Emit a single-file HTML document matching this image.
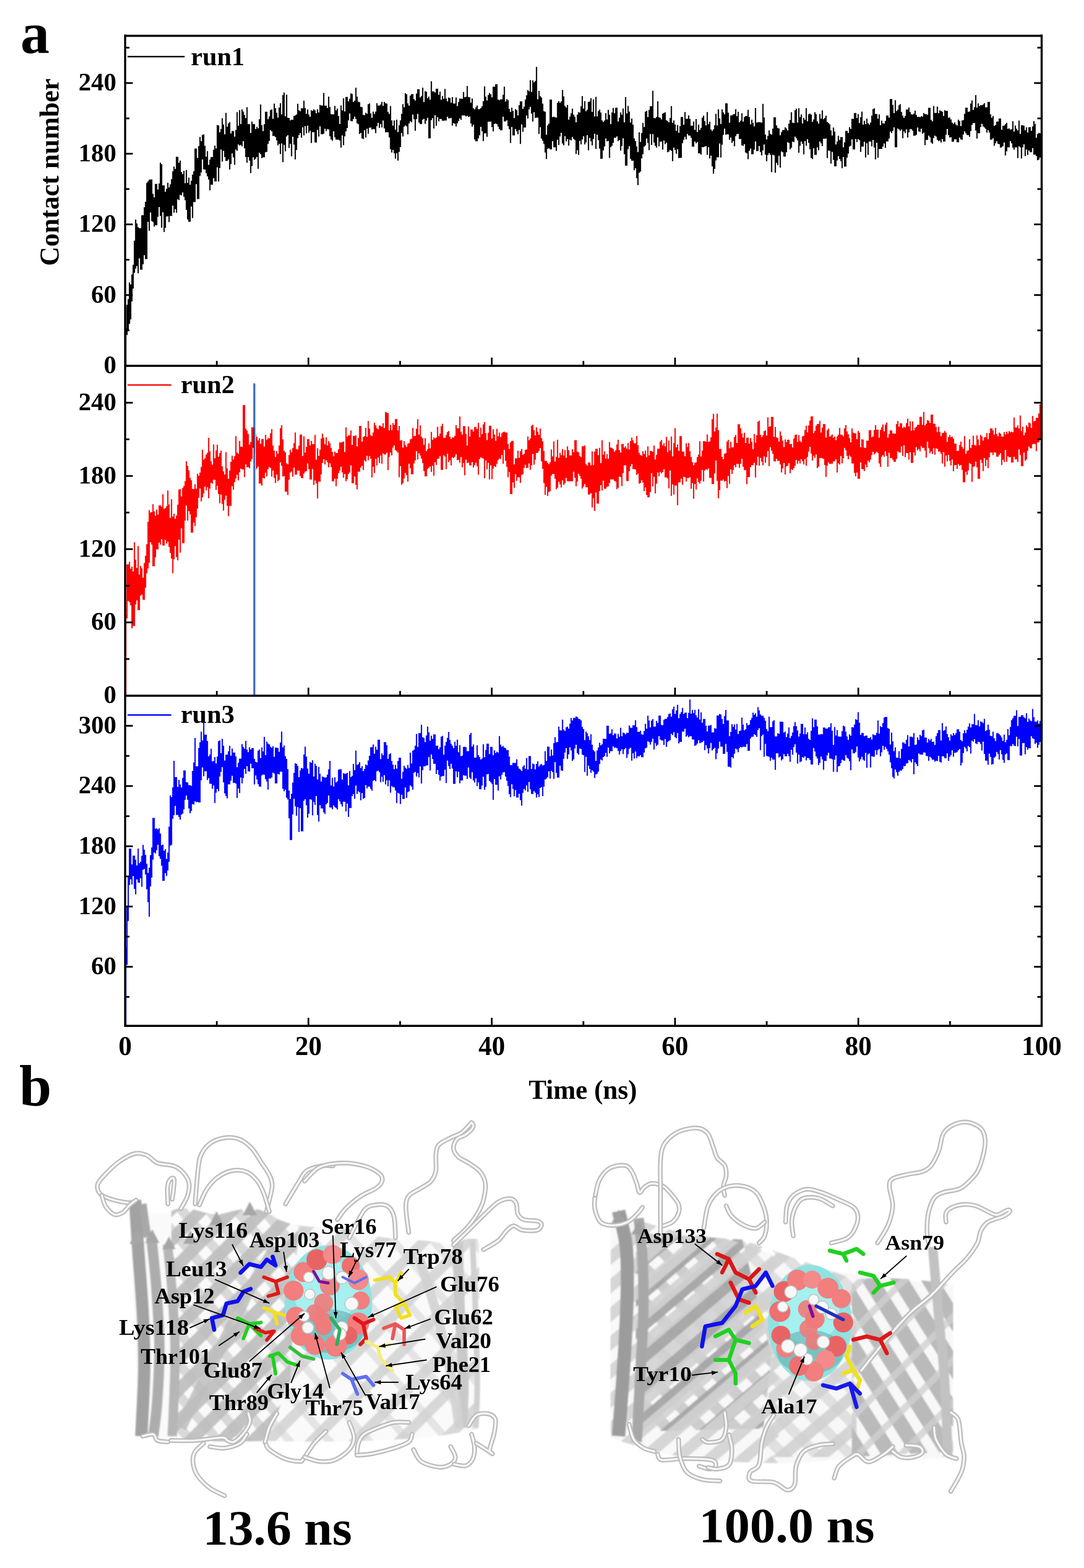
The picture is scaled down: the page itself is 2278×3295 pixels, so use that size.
<!DOCTYPE html>
<html><head><meta charset="utf-8"><style>
html,body{margin:0;padding:0;background:#fff;overflow:hidden;}
svg{display:block;}
</style></head><body>
<svg width="2278" height="3295" viewBox="0 0 2278 3295">
<rect width="2278" height="3295" fill="#fff"/>
<defs><clipPath id="c1"><rect x="263" y="76" width="1926" height="692"/></clipPath><clipPath id="c2"><rect x="263" y="770" width="1926" height="690"/></clipPath><clipPath id="c3"><rect x="263" y="1463" width="1926" height="692"/></clipPath></defs>
<g clip-path="url(#c1)"><path fill="#000" d="M263.0,688.7 265.6,688.7 265.6,640.6 268.2,640.6 268.2,628.5 270.8,628.5 270.8,593.4 273.4,593.4 273.4,597.8 276.0,597.8 276.0,576.7 278.6,576.7 278.6,556.4 281.2,556.4 281.2,505.8 283.8,505.8 283.8,461.3 286.4,461.3 286.4,469.4 289.0,469.4 289.0,477.3 291.6,477.3 291.6,479.6 294.2,479.6 294.2,479.6 296.8,479.6 296.8,452.3 299.4,452.3 299.4,452.3 302.0,452.3 302.0,435.5 304.6,435.5 304.6,424.0 307.2,424.0 307.2,384.4 309.8,384.4 309.8,381.3 312.4,381.3 312.4,377.6 315.0,377.6 315.0,377.6 317.6,377.6 317.6,376.9 320.2,376.9 320.2,407.2 322.8,407.2 322.8,414.7 325.4,414.7 325.4,386.6 328.0,386.6 328.0,386.6 330.6,386.6 330.6,398.2 333.2,398.2 333.2,385.6 335.8,385.6 335.8,341.8 338.4,341.8 338.4,345.1 341.0,345.1 341.0,389.6 343.6,389.6 343.6,389.6 346.2,389.6 346.2,402.9 348.8,402.9 348.8,396.7 351.4,396.7 351.4,384.0 354.0,384.0 354.0,393.8 356.6,393.8 356.6,387.4 359.2,387.4 359.2,376.4 361.8,376.4 361.8,360.1 364.4,360.1 364.4,350.1 367.0,350.1 367.0,355.0 369.6,355.0 369.6,329.6 372.2,329.6 372.2,329.6 374.8,329.6 374.8,341.9 377.4,341.9 377.4,337.6 380.0,337.6 380.0,361.3 382.6,361.3 382.6,365.7 385.2,365.7 385.2,358.9 387.8,358.9 387.8,385.1 390.4,385.1 390.4,357.2 393.0,357.2 393.0,384.2 395.6,384.2 395.6,373.3 398.2,373.3 398.2,388.3 400.8,388.3 400.8,379.8 403.4,379.8 403.4,367.0 406.0,367.0 406.0,359.7 408.6,359.7 408.6,312.2 411.2,312.2 411.2,312.2 413.8,312.2 413.8,332.1 416.4,332.1 416.4,307.1 419.0,307.1 419.0,287.7 421.6,287.7 421.6,296.7 424.2,296.7 424.2,283.4 426.8,283.4 426.8,282.3 429.4,282.3 429.4,306.6 432.0,306.6 432.0,329.3 434.6,329.3 434.6,317.4 437.2,317.4 437.2,346.5 439.8,346.5 439.8,335.4 442.4,335.4 442.4,330.1 445.0,330.1 445.0,330.1 447.6,330.1 447.6,314.8 450.2,314.8 450.2,306.0 452.8,306.0 452.8,311.9 455.4,311.9 455.4,262.8 458.0,262.8 458.0,263.6 460.6,263.6 460.6,277.9 463.2,277.9 463.2,271.0 465.8,271.0 465.8,248.6 468.4,248.6 468.4,261.8 471.0,261.8 471.0,282.3 473.6,282.3 473.6,237.3 476.2,237.3 476.2,266.3 478.8,266.3 478.8,259.2 481.4,259.2 481.4,256.5 484.0,256.5 484.0,280.6 486.6,280.6 486.6,275.2 489.2,275.2 489.2,275.2 491.8,275.2 491.8,287.2 494.4,287.2 494.4,272.9 497.0,272.9 497.0,235.4 499.6,235.4 499.6,264.2 502.2,264.2 502.2,231.4 504.8,231.4 504.8,260.8 507.4,260.8 507.4,230.0 510.0,230.0 510.0,234.6 512.6,234.6 512.6,241.5 515.2,241.5 515.2,247.9 517.8,247.9 517.8,225.2 520.4,225.2 520.4,260.7 523.0,260.7 523.0,260.7 525.6,260.7 525.6,279.6 528.2,279.6 528.2,255.4 530.8,255.4 530.8,260.8 533.4,260.8 533.4,260.8 536.0,260.8 536.0,271.2 538.6,271.2 538.6,266.4 541.2,266.4 541.2,269.8 543.8,269.8 543.8,250.5 546.4,250.5 546.4,219.6 549.0,219.6 549.0,263.1 551.6,263.1 551.6,275.5 554.2,275.5 554.2,260.9 556.8,260.9 556.8,234.7 559.4,234.7 559.4,234.7 562.0,234.7 562.0,250.6 564.6,250.6 564.6,244.4 567.2,244.4 567.2,231.2 569.8,231.2 569.8,229.9 572.4,229.9 572.4,249.8 575.0,249.8 575.0,217.8 577.6,217.8 577.6,227.3 580.2,227.3 580.2,237.1 582.8,237.1 582.8,247.0 585.4,247.0 585.4,226.1 588.0,226.1 588.0,216.8 590.6,216.8 590.6,240.6 593.2,240.6 593.2,199.8 595.8,199.8 595.8,194.5 598.4,194.5 598.4,244.3 601.0,244.3 601.0,199.1 603.6,199.1 603.6,247.5 606.2,247.5 606.2,248.0 608.8,248.0 608.8,252.9 611.4,252.9 611.4,251.4 614.0,251.4 614.0,251.7 616.6,251.7 616.6,243.4 619.2,243.4 619.2,242.6 621.8,242.6 621.8,240.6 624.4,240.6 624.4,218.1 627.0,218.1 627.0,231.5 629.6,231.5 629.6,233.7 632.2,233.7 632.2,227.4 634.8,227.4 634.8,227.4 637.4,227.4 637.4,211.4 640.0,211.4 640.0,227.0 642.6,227.0 642.6,239.2 645.2,239.2 645.2,230.1 647.8,230.1 647.8,240.8 650.4,240.8 650.4,245.3 653.0,245.3 653.0,231.8 655.6,231.8 655.6,233.1 658.2,233.1 658.2,229.5 660.8,229.5 660.8,231.9 663.4,231.9 663.4,237.9 666.0,237.9 666.0,229.4 668.6,229.4 668.6,236.5 671.2,236.5 671.2,220.4 673.8,220.4 673.8,221.8 676.4,221.8 676.4,221.7 679.0,221.7 679.0,195.3 681.6,195.3 681.6,222.1 684.2,222.1 684.2,222.1 686.8,222.1 686.8,227.0 689.4,227.0 689.4,202.9 692.0,202.9 692.0,224.7 694.6,224.7 694.6,239.7 697.2,239.7 697.2,240.3 699.8,240.3 699.8,240.3 702.4,240.3 702.4,222.5 705.0,222.5 705.0,231.9 707.6,231.9 707.6,228.3 710.2,228.3 710.2,243.7 712.8,243.7 712.8,260.6 715.4,260.6 715.4,221.4 718.0,221.4 718.0,231.9 720.6,231.9 720.6,206.6 723.2,206.6 723.2,234.3 725.8,234.3 725.8,203.8 728.4,203.8 728.4,203.8 731.0,203.8 731.0,213.0 733.6,213.0 733.6,207.4 736.2,207.4 736.2,196.3 738.8,196.3 738.8,197.4 741.4,197.4 741.4,214.2 744.0,214.2 744.0,211.5 746.6,211.5 746.6,184.3 749.2,184.3 749.2,202.9 751.8,202.9 751.8,213.8 754.4,213.8 754.4,214.8 757.0,214.8 757.0,224.6 759.6,224.6 759.6,225.3 762.2,225.3 762.2,241.5 764.8,241.5 764.8,241.9 767.4,241.9 767.4,237.1 770.0,237.1 770.0,239.2 772.6,239.2 772.6,218.9 775.2,218.9 775.2,217.2 777.8,217.2 777.8,238.2 780.4,238.2 780.4,247.6 783.0,247.6 783.0,234.4 785.6,234.4 785.6,239.6 788.2,239.6 788.2,234.5 790.8,234.5 790.8,216.7 793.4,216.7 793.4,221.8 796.0,221.8 796.0,221.8 798.6,221.8 798.6,219.6 801.2,219.6 801.2,214.0 803.8,214.0 803.8,222.6 806.4,222.6 806.4,213.9 809.0,213.9 809.0,217.0 811.6,217.0 811.6,217.8 814.2,217.8 814.2,235.2 816.8,235.2 816.8,239.4 819.4,239.4 819.4,222.7 822.0,222.7 822.0,253.0 824.6,253.0 824.6,263.9 827.2,263.9 827.2,252.9 829.8,252.9 829.8,272.5 832.4,272.5 832.4,251.6 835.0,251.6 835.0,277.4 837.6,277.4 837.6,263.2 840.2,263.2 840.2,252.9 842.8,252.9 842.8,239.2 845.4,239.2 845.4,218.8 848.0,218.8 848.0,225.6 850.6,225.6 850.6,195.8 853.2,195.8 853.2,198.0 855.8,198.0 855.8,217.3 858.4,217.3 858.4,222.0 861.0,222.0 861.0,201.1 863.6,201.1 863.6,197.8 866.2,197.8 866.2,197.8 868.8,197.8 868.8,208.0 871.4,208.0 871.4,211.2 874.0,211.2 874.0,196.4 876.6,196.4 876.6,187.4 879.2,187.4 879.2,187.4 881.8,187.4 881.8,204.8 884.4,204.8 884.4,201.8 887.0,201.8 887.0,184.3 889.6,184.3 889.6,214.5 892.2,214.5 892.2,191.6 894.8,191.6 894.8,192.7 897.4,192.7 897.4,206.3 900.0,206.3 900.0,203.0 902.6,203.0 902.6,209.5 905.2,209.5 905.2,170.8 907.8,170.8 907.8,192.0 910.4,192.0 910.4,192.0 913.0,192.0 913.0,194.2 915.6,194.2 915.6,186.6 918.2,186.6 918.2,186.6 920.8,186.6 920.8,199.2 923.4,199.2 923.4,192.8 926.0,192.8 926.0,209.8 928.6,209.8 928.6,201.8 931.2,201.8 931.2,207.8 933.8,207.8 933.8,186.8 936.4,186.8 936.4,206.9 939.0,206.9 939.0,213.0 941.6,213.0 941.6,204.9 944.2,204.9 944.2,205.9 946.8,205.9 946.8,215.7 949.4,215.7 949.4,204.0 952.0,204.0 952.0,217.6 954.6,217.6 954.6,217.4 957.2,217.4 957.2,204.7 959.8,204.7 959.8,222.9 962.4,222.9 962.4,214.6 965.0,214.6 965.0,207.2 967.6,207.2 967.6,207.2 970.2,207.2 970.2,207.8 972.8,207.8 972.8,193.2 975.4,193.2 975.4,204.3 978.0,204.3 978.0,203.5 980.6,203.5 980.6,180.8 983.2,180.8 983.2,203.7 985.8,203.7 985.8,204.4 988.4,204.4 988.4,215.8 991.0,215.8 991.0,207.1 993.6,207.1 993.6,227.4 996.2,227.4 996.2,230.0 998.8,230.0 998.8,225.5 1001.4,225.5 1001.4,221.7 1004.0,221.7 1004.0,229.5 1006.6,229.5 1006.6,229.5 1009.2,229.5 1009.2,227.0 1011.8,227.0 1011.8,223.3 1014.4,223.3 1014.4,212.6 1017.0,212.6 1017.0,181.4 1019.6,181.4 1019.6,203.3 1022.2,203.3 1022.2,211.0 1024.8,211.0 1024.8,199.7 1027.4,199.7 1027.4,195.4 1030.0,195.4 1030.0,198.1 1032.6,198.1 1032.6,204.6 1035.2,204.6 1035.2,182.3 1037.8,182.3 1037.8,182.3 1040.4,182.3 1040.4,177.0 1043.0,177.0 1043.0,177.0 1045.6,177.0 1045.6,209.3 1048.2,209.3 1048.2,210.6 1050.8,210.6 1050.8,208.8 1053.4,208.8 1053.4,208.8 1056.0,208.8 1056.0,199.3 1058.6,199.3 1058.6,182.1 1061.2,182.1 1061.2,213.3 1063.8,213.3 1063.8,208.2 1066.4,208.2 1066.4,210.5 1069.0,210.5 1069.0,228.7 1071.6,228.7 1071.6,235.3 1074.2,235.3 1074.2,226.2 1076.8,226.2 1076.8,233.1 1079.4,233.1 1079.4,248.0 1082.0,248.0 1082.0,229.3 1084.6,229.3 1084.6,231.4 1087.2,231.4 1087.2,242.4 1089.8,242.4 1089.8,220.9 1092.4,220.9 1092.4,213.1 1095.0,213.1 1095.0,213.1 1097.6,213.1 1097.6,228.7 1100.2,228.7 1100.2,223.9 1102.8,223.9 1102.8,209.2 1105.4,209.2 1105.4,200.3 1108.0,200.3 1108.0,189.2 1110.6,189.2 1110.6,191.7 1113.2,191.7 1113.2,168.2 1115.8,168.2 1115.8,193.2 1118.4,193.2 1118.4,169.0 1121.0,169.0 1121.0,172.9 1123.6,172.9 1123.6,170.2 1126.2,170.2 1126.2,140.4 1128.8,140.4 1128.8,208.4 1131.4,208.4 1131.4,191.1 1134.0,191.1 1134.0,201.8 1136.6,201.8 1136.6,205.1 1139.2,205.1 1139.2,217.7 1141.8,217.7 1141.8,233.4 1144.4,233.4 1144.4,234.9 1147.0,234.9 1147.0,283.0 1149.6,283.0 1149.6,263.4 1152.2,263.4 1152.2,259.7 1154.8,259.7 1154.8,209.3 1157.4,209.3 1157.4,209.3 1160.0,209.3 1160.0,246.3 1162.6,246.3 1162.6,244.9 1165.2,244.9 1165.2,246.6 1167.8,246.6 1167.8,247.0 1170.4,247.0 1170.4,216.1 1173.0,216.1 1173.0,212.4 1175.6,212.4 1175.6,216.1 1178.2,216.1 1178.2,213.0 1180.8,213.0 1180.8,188.9 1183.4,188.9 1183.4,202.4 1186.0,202.4 1186.0,222.6 1188.6,222.6 1188.6,226.0 1191.2,226.0 1191.2,220.6 1193.8,220.6 1193.8,251.5 1196.4,251.5 1196.4,245.0 1199.0,245.0 1199.0,237.8 1201.6,237.8 1201.6,228.3 1204.2,228.3 1204.2,241.0 1206.8,241.0 1206.8,245.8 1209.4,245.8 1209.4,257.1 1212.0,257.1 1212.0,241.1 1214.6,241.1 1214.6,235.7 1217.2,235.7 1217.2,236.4 1219.8,236.4 1219.8,223.3 1222.4,223.3 1222.4,201.9 1225.0,201.9 1225.0,228.3 1227.6,228.3 1227.6,212.6 1230.2,212.6 1230.2,233.7 1232.8,233.7 1232.8,230.4 1235.4,230.4 1235.4,214.1 1238.0,214.1 1238.0,213.3 1240.6,213.3 1240.6,206.2 1243.2,206.2 1243.2,235.3 1245.8,235.3 1245.8,209.1 1248.4,209.1 1248.4,244.7 1251.0,244.7 1251.0,203.4 1253.6,203.4 1253.6,244.4 1256.2,244.4 1256.2,233.6 1258.8,233.6 1258.8,230.2 1261.4,230.2 1261.4,236.4 1264.0,236.4 1264.0,253.0 1266.6,253.0 1266.6,256.2 1269.2,256.2 1269.2,253.1 1271.8,253.1 1271.8,237.7 1274.4,237.7 1274.4,250.9 1277.0,250.9 1277.0,230.7 1279.6,230.7 1279.6,240.9 1282.2,240.9 1282.2,260.7 1284.8,260.7 1284.8,236.2 1287.4,236.2 1287.4,226.7 1290.0,226.7 1290.0,237.8 1292.6,237.8 1292.6,226.4 1295.2,226.4 1295.2,226.3 1297.8,226.3 1297.8,255.6 1300.4,255.6 1300.4,247.2 1303.0,247.2 1303.0,236.3 1305.6,236.3 1305.6,241.3 1308.2,241.3 1308.2,228.0 1310.8,228.0 1310.8,257.1 1313.4,257.1 1313.4,203.9 1316.0,203.9 1316.0,238.5 1318.6,238.5 1318.6,222.4 1321.2,222.4 1321.2,234.6 1323.8,234.6 1323.8,257.4 1326.4,257.4 1326.4,249.1 1329.0,249.1 1329.0,262.1 1331.6,262.1 1331.6,290.7 1334.2,290.7 1334.2,296.6 1336.8,296.6 1336.8,307.7 1339.4,307.7 1339.4,319.5 1342.0,319.5 1342.0,278.1 1344.6,278.1 1344.6,298.3 1347.2,298.3 1347.2,279.4 1349.8,279.4 1349.8,258.3 1352.4,258.3 1352.4,267.0 1355.0,267.0 1355.0,234.7 1357.6,234.7 1357.6,233.1 1360.2,233.1 1360.2,245.9 1362.8,245.9 1362.8,230.9 1365.4,230.9 1365.4,223.3 1368.0,223.3 1368.0,223.3 1370.6,223.3 1370.6,190.8 1373.2,190.8 1373.2,248.0 1375.8,248.0 1375.8,248.4 1378.4,248.4 1378.4,245.8 1381.0,245.8 1381.0,212.8 1383.6,212.8 1383.6,246.4 1386.2,246.4 1386.2,247.6 1388.8,247.6 1388.8,251.0 1391.4,251.0 1391.4,238.8 1394.0,238.8 1394.0,237.3 1396.6,237.3 1396.6,236.1 1399.2,236.1 1399.2,252.5 1401.8,252.5 1401.8,254.4 1404.4,254.4 1404.4,257.1 1407.0,257.1 1407.0,248.0 1409.6,248.0 1409.6,223.1 1412.2,223.1 1412.2,258.2 1414.8,258.2 1414.8,252.9 1417.4,252.9 1417.4,261.7 1420.0,261.7 1420.0,275.0 1422.6,275.0 1422.6,262.8 1425.2,262.8 1425.2,279.1 1427.8,279.1 1427.8,265.0 1430.4,265.0 1430.4,245.8 1433.0,245.8 1433.0,245.8 1435.6,245.8 1435.6,262.2 1438.2,262.2 1438.2,235.4 1440.8,235.4 1440.8,249.8 1443.4,249.8 1443.4,249.6 1446.0,249.6 1446.0,242.4 1448.6,242.4 1448.6,250.0 1451.2,250.0 1451.2,263.9 1453.8,263.9 1453.8,264.3 1456.4,264.3 1456.4,255.6 1459.0,255.6 1459.0,273.1 1461.6,273.1 1461.6,250.0 1464.2,250.0 1464.2,277.5 1466.8,277.5 1466.8,261.9 1469.4,261.9 1469.4,273.2 1472.0,273.2 1472.0,268.7 1474.6,268.7 1474.6,247.3 1477.2,247.3 1477.2,243.0 1479.8,243.0 1479.8,254.5 1482.4,254.5 1482.4,263.6 1485.0,263.6 1485.0,235.6 1487.6,235.6 1487.6,260.7 1490.2,260.7 1490.2,255.8 1492.8,255.8 1492.8,271.9 1495.4,271.9 1495.4,275.3 1498.0,275.3 1498.0,271.7 1500.6,271.7 1500.6,263.2 1503.2,263.2 1503.2,239.3 1505.8,239.3 1505.8,263.8 1508.4,263.8 1508.4,229.8 1511.0,229.8 1511.0,248.8 1513.6,248.8 1513.6,260.6 1516.2,260.6 1516.2,229.7 1518.8,229.7 1518.8,236.3 1521.4,236.3 1521.4,240.2 1524.0,240.2 1524.0,217.1 1526.6,217.1 1526.6,217.3 1529.2,217.3 1529.2,236.7 1531.8,236.7 1531.8,257.9 1534.4,257.9 1534.4,242.4 1537.0,242.4 1537.0,242.4 1539.6,242.4 1539.6,240.2 1542.2,240.2 1542.2,239.8 1544.8,239.8 1544.8,229.4 1547.4,229.4 1547.4,244.2 1550.0,244.2 1550.0,235.0 1552.6,235.0 1552.6,257.1 1555.2,257.1 1555.2,253.4 1557.8,253.4 1557.8,238.1 1560.4,238.1 1560.4,255.6 1563.0,255.6 1563.0,245.9 1565.6,245.9 1565.6,243.7 1568.2,243.7 1568.2,243.7 1570.8,243.7 1570.8,230.8 1573.4,230.8 1573.4,245.8 1576.0,245.8 1576.0,261.2 1578.6,261.2 1578.6,251.4 1581.2,251.4 1581.2,257.9 1583.8,257.9 1583.8,265.6 1586.4,265.6 1586.4,227.1 1589.0,227.1 1589.0,257.6 1591.6,257.6 1591.6,256.7 1594.2,256.7 1594.2,256.7 1596.8,256.7 1596.8,256.9 1599.4,256.9 1599.4,257.7 1602.0,257.7 1602.0,218.3 1604.6,218.3 1604.6,246.7 1607.2,246.7 1607.2,282.7 1609.8,282.7 1609.8,293.1 1612.4,293.1 1612.4,285.6 1615.0,285.6 1615.0,273.9 1617.6,273.9 1617.6,281.2 1620.2,281.2 1620.2,282.8 1622.8,282.8 1622.8,270.3 1625.4,270.3 1625.4,246.6 1628.0,246.6 1628.0,246.6 1630.6,246.6 1630.6,263.4 1633.2,263.4 1633.2,268.8 1635.8,268.8 1635.8,270.0 1638.4,270.0 1638.4,284.3 1641.0,284.3 1641.0,277.6 1643.6,277.6 1643.6,273.2 1646.2,273.2 1646.2,273.2 1648.8,273.2 1648.8,267.5 1651.4,267.5 1651.4,269.9 1654.0,269.9 1654.0,273.9 1656.6,273.9 1656.6,259.9 1659.2,259.9 1659.2,252.2 1661.8,252.2 1661.8,235.7 1664.4,235.7 1664.4,257.7 1667.0,257.7 1667.0,258.4 1669.6,258.4 1669.6,231.7 1672.2,231.7 1672.2,228.4 1674.8,228.4 1674.8,257.5 1677.4,257.5 1677.4,227.2 1680.0,227.2 1680.0,246.3 1682.6,246.3 1682.6,240.6 1685.2,240.6 1685.2,259.5 1687.8,259.5 1687.8,247.8 1690.4,247.8 1690.4,251.7 1693.0,251.7 1693.0,227.3 1695.6,227.3 1695.6,254.9 1698.2,254.9 1698.2,240.0 1700.8,240.0 1700.8,238.5 1703.4,238.5 1703.4,240.7 1706.0,240.7 1706.0,255.9 1708.6,255.9 1708.6,250.9 1711.2,250.9 1711.2,235.7 1713.8,235.7 1713.8,239.8 1716.4,239.8 1716.4,255.2 1719.0,255.2 1719.0,259.8 1721.6,259.8 1721.6,239.4 1724.2,239.4 1724.2,249.2 1726.8,249.2 1726.8,232.1 1729.4,232.1 1729.4,250.6 1732.0,250.6 1732.0,247.8 1734.6,247.8 1734.6,242.9 1737.2,242.9 1737.2,256.3 1739.8,256.3 1739.8,258.6 1742.4,258.6 1742.4,261.3 1745.0,261.3 1745.0,274.1 1747.6,274.1 1747.6,284.8 1750.2,284.8 1750.2,268.0 1752.8,268.0 1752.8,276.5 1755.4,276.5 1755.4,303.6 1758.0,303.6 1758.0,297.5 1760.6,297.5 1760.6,285.3 1763.2,285.3 1763.2,294.3 1765.8,294.3 1765.8,287.9 1768.4,287.9 1768.4,287.9 1771.0,287.9 1771.0,309.4 1773.6,309.4 1773.6,299.0 1776.2,299.0 1776.2,275.0 1778.8,275.0 1778.8,275.0 1781.4,275.0 1781.4,279.6 1784.0,279.6 1784.0,267.3 1786.6,267.3 1786.6,270.9 1789.2,270.9 1789.2,249.6 1791.8,249.6 1791.8,250.0 1794.4,250.0 1794.4,237.4 1797.0,237.4 1797.0,237.4 1799.6,237.4 1799.6,247.9 1802.2,247.9 1802.2,239.8 1804.8,239.8 1804.8,258.4 1807.4,258.4 1807.4,246.3 1810.0,246.3 1810.0,234.5 1812.6,234.5 1812.6,262.1 1815.2,262.1 1815.2,253.8 1817.8,253.8 1817.8,260.9 1820.4,260.9 1820.4,249.2 1823.0,249.2 1823.0,259.1 1825.6,259.1 1825.6,262.1 1828.2,262.1 1828.2,257.6 1830.8,257.6 1830.8,243.0 1833.4,243.0 1833.4,229.2 1836.0,229.2 1836.0,227.8 1838.6,227.8 1838.6,239.6 1841.2,239.6 1841.2,239.6 1843.8,239.6 1843.8,249.2 1846.4,249.2 1846.4,240.4 1849.0,240.4 1849.0,263.0 1851.6,263.0 1851.6,253.6 1854.2,253.6 1854.2,258.9 1856.8,258.9 1856.8,259.8 1859.4,259.8 1859.4,253.9 1862.0,253.9 1862.0,242.8 1864.6,242.8 1864.6,242.8 1867.2,242.8 1867.2,247.2 1869.8,247.2 1869.8,208.1 1872.4,208.1 1872.4,208.1 1875.0,208.1 1875.0,220.4 1877.6,220.4 1877.6,237.8 1880.2,237.8 1880.2,210.5 1882.8,210.5 1882.8,233.4 1885.4,233.4 1885.4,230.5 1888.0,230.5 1888.0,221.6 1890.6,221.6 1890.6,218.7 1893.2,218.7 1893.2,235.2 1895.8,235.2 1895.8,242.9 1898.4,242.9 1898.4,247.7 1901.0,247.7 1901.0,243.4 1903.6,243.4 1903.6,230.1 1906.2,230.1 1906.2,230.1 1908.8,230.1 1908.8,226.1 1911.4,226.1 1911.4,235.3 1914.0,235.3 1914.0,240.3 1916.6,240.3 1916.6,240.8 1919.2,240.8 1919.2,238.7 1921.8,238.7 1921.8,232.5 1924.4,232.5 1924.4,241.4 1927.0,241.4 1927.0,246.1 1929.6,246.1 1929.6,245.2 1932.2,245.2 1932.2,246.5 1934.8,246.5 1934.8,243.9 1937.4,243.9 1937.4,245.0 1940.0,245.0 1940.0,237.5 1942.6,237.5 1942.6,240.0 1945.2,240.0 1945.2,240.0 1947.8,240.0 1947.8,240.9 1950.4,240.9 1950.4,226.4 1953.0,226.4 1953.0,226.4 1955.6,226.4 1955.6,251.9 1958.2,251.9 1958.2,255.1 1960.8,255.1 1960.8,222.8 1963.4,222.8 1963.4,237.5 1966.0,237.5 1966.0,237.3 1968.6,237.3 1968.6,224.1 1971.2,224.1 1971.2,237.9 1973.8,237.9 1973.8,232.1 1976.4,232.1 1976.4,233.3 1979.0,233.3 1979.0,234.7 1981.6,234.7 1981.6,243.8 1984.2,243.8 1984.2,231.5 1986.8,231.5 1986.8,233.0 1989.4,233.0 1989.4,233.0 1992.0,233.0 1992.0,247.4 1994.6,247.4 1994.6,246.7 1997.2,246.7 1997.2,251.0 1999.8,251.0 1999.8,257.8 2002.4,257.8 2002.4,260.4 2005.0,260.4 2005.0,257.0 2007.6,257.0 2007.6,261.5 2010.2,261.5 2010.2,263.8 2012.8,263.8 2012.8,251.4 2015.4,251.4 2015.4,254.5 2018.0,254.5 2018.0,265.0 2020.6,265.0 2020.6,253.3 2023.2,253.3 2023.2,252.2 2025.8,252.2 2025.8,239.3 2028.4,239.3 2028.4,226.2 2031.0,226.2 2031.0,226.2 2033.6,226.2 2033.6,235.0 2036.2,235.0 2036.2,234.3 2038.8,234.3 2038.8,217.4 2041.4,217.4 2041.4,211.1 2044.0,211.1 2044.0,230.9 2046.6,230.9 2046.6,225.0 2049.2,225.0 2049.2,199.7 2051.8,199.7 2051.8,226.3 2054.4,226.3 2054.4,217.3 2057.0,217.3 2057.0,222.9 2059.6,222.9 2059.6,220.9 2062.2,220.9 2062.2,221.2 2064.8,221.2 2064.8,219.4 2067.4,219.4 2067.4,216.8 2070.0,216.8 2070.0,225.5 2072.6,225.5 2072.6,225.5 2075.2,225.5 2075.2,214.1 2077.8,214.1 2077.8,214.1 2080.4,214.1 2080.4,240.2 2083.0,240.2 2083.0,247.4 2085.6,247.4 2085.6,243.7 2088.2,243.7 2088.2,264.6 2090.8,264.6 2090.8,262.4 2093.4,262.4 2093.4,255.4 2096.0,255.4 2096.0,255.4 2098.6,255.4 2098.6,249.0 2101.2,249.0 2101.2,249.0 2103.8,249.0 2103.8,272.7 2106.4,272.7 2106.4,264.3 2109.0,264.3 2109.0,264.0 2111.6,264.0 2111.6,261.0 2114.2,261.0 2114.2,258.1 2116.8,258.1 2116.8,270.7 2119.4,270.7 2119.4,269.8 2122.0,269.8 2122.0,272.5 2124.6,272.5 2124.6,271.6 2127.2,271.6 2127.2,254.7 2129.8,254.7 2129.8,276.4 2132.4,276.4 2132.4,263.8 2135.0,263.8 2135.0,270.4 2137.6,270.4 2137.6,274.0 2140.2,274.0 2140.2,253.4 2142.8,253.4 2142.8,281.6 2145.4,281.6 2145.4,263.3 2148.0,263.3 2148.0,263.3 2150.6,263.3 2150.6,264.3 2153.2,264.3 2153.2,273.7 2155.8,273.7 2155.8,267.5 2158.4,267.5 2158.4,278.6 2161.0,278.6 2161.0,267.4 2163.6,267.4 2163.6,267.0 2166.2,267.0 2166.2,275.1 2168.8,275.1 2168.8,265.7 2171.4,265.7 2171.4,254.4 2174.0,254.4 2174.0,260.4 2176.6,260.4 2176.6,289.4 2179.2,289.4 2179.2,281.4 2181.8,281.4 2181.8,279.2 2184.4,279.2 2184.4,279.9 2187.0,279.9 2187.0,282.2 2189.0,282.2 2189.0,337.5 2187.0,337.5 2187.0,331.0 2184.4,331.0 2184.4,335.4 2181.8,335.4 2181.8,336.7 2179.2,336.7 2179.2,328.1 2176.6,328.1 2176.6,323.7 2174.0,323.7 2174.0,324.9 2171.4,324.9 2171.4,311.3 2168.8,311.3 2168.8,319.7 2166.2,319.7 2166.2,319.7 2163.6,319.7 2163.6,316.3 2161.0,316.3 2161.0,325.8 2158.4,325.8 2158.4,313.9 2155.8,313.9 2155.8,328.1 2153.2,328.1 2153.2,303.2 2150.6,303.2 2150.6,309.6 2148.0,309.6 2148.0,332.9 2145.4,332.9 2145.4,309.7 2142.8,309.7 2142.8,307.5 2140.2,307.5 2140.2,332.2 2137.6,332.2 2137.6,309.7 2135.0,309.7 2135.0,309.7 2132.4,309.7 2132.4,314.6 2129.8,314.6 2129.8,310.3 2127.2,310.3 2127.2,301.3 2124.6,301.3 2124.6,296.4 2122.0,296.4 2122.0,309.5 2119.4,309.5 2119.4,309.5 2116.8,309.5 2116.8,318.0 2114.2,318.0 2114.2,326.8 2111.6,326.8 2111.6,299.6 2109.0,299.6 2109.0,307.0 2106.4,307.0 2106.4,309.4 2103.8,309.4 2103.8,310.3 2101.2,310.3 2101.2,303.1 2098.6,303.1 2098.6,302.2 2096.0,302.2 2096.0,296.8 2093.4,296.8 2093.4,301.1 2090.8,301.1 2090.8,306.3 2088.2,306.3 2088.2,290.4 2085.6,290.4 2085.6,293.6 2083.0,293.6 2083.0,293.6 2080.4,293.6 2080.4,278.4 2077.8,278.4 2077.8,273.6 2075.2,273.6 2075.2,278.7 2072.6,278.7 2072.6,270.7 2070.0,270.7 2070.0,267.7 2067.4,267.7 2067.4,265.6 2064.8,265.6 2064.8,259.9 2062.2,259.9 2062.2,267.0 2059.6,267.0 2059.6,279.9 2057.0,279.9 2057.0,279.9 2054.4,279.9 2054.4,291.2 2051.8,291.2 2051.8,274.2 2049.2,274.2 2049.2,258.6 2046.6,258.6 2046.6,258.7 2044.0,258.7 2044.0,262.6 2041.4,262.6 2041.4,275.5 2038.8,275.5 2038.8,287.6 2036.2,287.6 2036.2,283.7 2033.6,283.7 2033.6,283.7 2031.0,283.7 2031.0,280.0 2028.4,280.0 2028.4,276.0 2025.8,276.0 2025.8,282.4 2023.2,282.4 2023.2,293.8 2020.6,293.8 2020.6,292.9 2018.0,292.9 2018.0,289.0 2015.4,289.0 2015.4,299.0 2012.8,299.0 2012.8,299.0 2010.2,299.0 2010.2,292.8 2007.6,292.8 2007.6,292.7 2005.0,292.7 2005.0,297.7 2002.4,297.7 2002.4,297.7 1999.8,297.7 1999.8,288.2 1997.2,288.2 1997.2,289.0 1994.6,289.0 1994.6,284.0 1992.0,284.0 1992.0,270.9 1989.4,270.9 1989.4,283.1 1986.8,283.1 1986.8,297.2 1984.2,297.2 1984.2,297.6 1981.6,297.6 1981.6,291.9 1979.0,291.9 1979.0,299.5 1976.4,299.5 1976.4,295.2 1973.8,295.2 1973.8,296.5 1971.2,296.5 1971.2,293.8 1968.6,293.8 1968.6,286.9 1966.0,286.9 1966.0,284.9 1963.4,284.9 1963.4,290.1 1960.8,290.1 1960.8,302.0 1958.2,302.0 1958.2,299.4 1955.6,299.4 1955.6,288.5 1953.0,288.5 1953.0,285.1 1950.4,285.1 1950.4,294.1 1947.8,294.1 1947.8,294.1 1945.2,294.1 1945.2,305.0 1942.6,305.0 1942.6,278.8 1940.0,278.8 1940.0,280.9 1937.4,280.9 1937.4,270.4 1934.8,270.4 1934.8,277.5 1932.2,277.5 1932.2,276.0 1929.6,276.0 1929.6,268.1 1927.0,268.1 1927.0,283.3 1924.4,283.3 1924.4,285.2 1921.8,285.2 1921.8,285.2 1919.2,285.2 1919.2,274.5 1916.6,274.5 1916.6,271.5 1914.0,271.5 1914.0,271.5 1911.4,271.5 1911.4,278.2 1908.8,278.2 1908.8,289.0 1906.2,289.0 1906.2,271.8 1903.6,271.8 1903.6,279.8 1901.0,279.8 1901.0,276.3 1898.4,276.3 1898.4,290.6 1895.8,290.6 1895.8,272.1 1893.2,272.1 1893.2,274.9 1890.6,274.9 1890.6,272.0 1888.0,272.0 1888.0,270.3 1885.4,270.3 1885.4,309.4 1882.8,309.4 1882.8,309.4 1880.2,309.4 1880.2,267.5 1877.6,267.5 1877.6,274.9 1875.0,274.9 1875.0,279.4 1872.4,279.4 1872.4,276.4 1869.8,276.4 1869.8,291.2 1867.2,291.2 1867.2,297.2 1864.6,297.2 1864.6,297.2 1862.0,297.2 1862.0,310.8 1859.4,310.8 1859.4,301.4 1856.8,301.4 1856.8,308.0 1854.2,308.0 1854.2,313.1 1851.6,313.1 1851.6,313.1 1849.0,313.1 1849.0,313.2 1846.4,313.2 1846.4,331.4 1843.8,331.4 1843.8,299.9 1841.2,299.9 1841.2,335.1 1838.6,335.1 1838.6,310.1 1836.0,310.1 1836.0,294.1 1833.4,294.1 1833.4,307.6 1830.8,307.6 1830.8,297.4 1828.2,297.4 1828.2,297.4 1825.6,297.4 1825.6,325.4 1823.0,325.4 1823.0,300.9 1820.4,300.9 1820.4,331.0 1817.8,331.0 1817.8,298.0 1815.2,298.0 1815.2,307.9 1812.6,307.9 1812.6,307.9 1810.0,307.9 1810.0,319.2 1807.4,319.2 1807.4,294.6 1804.8,294.6 1804.8,292.2 1802.2,292.2 1802.2,298.7 1799.6,298.7 1799.6,292.1 1797.0,292.1 1797.0,314.0 1794.4,314.0 1794.4,314.0 1791.8,314.0 1791.8,292.8 1789.2,292.8 1789.2,306.3 1786.6,306.3 1786.6,308.1 1784.0,308.1 1784.0,322.8 1781.4,322.8 1781.4,331.2 1778.8,331.2 1778.8,349.9 1776.2,349.9 1776.2,349.9 1773.6,349.9 1773.6,329.9 1771.0,329.9 1771.0,353.5 1768.4,353.5 1768.4,338.8 1765.8,338.8 1765.8,334.3 1763.2,334.3 1763.2,328.0 1760.6,328.0 1760.6,337.3 1758.0,337.3 1758.0,349.5 1755.4,349.5 1755.4,349.5 1752.8,349.5 1752.8,336.1 1750.2,336.1 1750.2,319.2 1747.6,319.2 1747.6,343.7 1745.0,343.7 1745.0,317.2 1742.4,317.2 1742.4,316.2 1739.8,316.2 1739.8,332.2 1737.2,332.2 1737.2,290.9 1734.6,290.9 1734.6,291.7 1732.0,291.7 1732.0,291.6 1729.4,291.6 1729.4,306.9 1726.8,306.9 1726.8,301.2 1724.2,301.2 1724.2,297.6 1721.6,297.6 1721.6,315.7 1719.0,315.7 1719.0,309.5 1716.4,309.5 1716.4,325.6 1713.8,325.6 1713.8,325.6 1711.2,325.6 1711.2,311.5 1708.6,311.5 1708.6,334.3 1706.0,334.3 1706.0,331.9 1703.4,331.9 1703.4,313.7 1700.8,313.7 1700.8,300.2 1698.2,300.2 1698.2,292.6 1695.6,292.6 1695.6,306.3 1693.0,306.3 1693.0,296.3 1690.4,296.3 1690.4,324.5 1687.8,324.5 1687.8,302.3 1685.2,302.3 1685.2,297.6 1682.6,297.6 1682.6,306.6 1680.0,306.6 1680.0,321.0 1677.4,321.0 1677.4,295.0 1674.8,295.0 1674.8,290.4 1672.2,290.4 1672.2,286.9 1669.6,286.9 1669.6,298.6 1667.0,298.6 1667.0,297.8 1664.4,297.8 1664.4,310.6 1661.8,310.6 1661.8,313.7 1659.2,313.7 1659.2,300.4 1656.6,300.4 1656.6,298.8 1654.0,298.8 1654.0,320.1 1651.4,320.1 1651.4,329.0 1648.8,329.0 1648.8,329.0 1646.2,329.0 1646.2,320.1 1643.6,320.1 1643.6,318.3 1641.0,318.3 1641.0,352.3 1638.4,352.3 1638.4,327.5 1635.8,327.5 1635.8,347.0 1633.2,347.0 1633.2,342.2 1630.6,342.2 1630.6,363.0 1628.0,363.0 1628.0,326.5 1625.4,326.5 1625.4,325.2 1622.8,325.2 1622.8,361.8 1620.2,361.8 1620.2,325.6 1617.6,325.6 1617.6,321.7 1615.0,321.7 1615.0,325.9 1612.4,325.9 1612.4,338.8 1609.8,338.8 1609.8,325.0 1607.2,325.0 1607.2,303.5 1604.6,303.5 1604.6,316.0 1602.0,316.0 1602.0,326.6 1599.4,326.6 1599.4,319.6 1596.8,319.6 1596.8,306.7 1594.2,306.7 1594.2,317.3 1591.6,317.3 1591.6,317.8 1589.0,317.8 1589.0,297.2 1586.4,297.2 1586.4,314.6 1583.8,314.6 1583.8,324.0 1581.2,324.0 1581.2,324.3 1578.6,324.3 1578.6,312.2 1576.0,312.2 1576.0,317.1 1573.4,317.1 1573.4,334.6 1570.8,334.6 1570.8,322.3 1568.2,322.3 1568.2,320.5 1565.6,320.5 1565.6,303.0 1563.0,303.0 1563.0,306.4 1560.4,306.4 1560.4,305.4 1557.8,305.4 1557.8,292.1 1555.2,292.1 1555.2,292.3 1552.6,292.3 1552.6,281.2 1550.0,281.2 1550.0,281.7 1547.4,281.7 1547.4,286.2 1544.8,286.2 1544.8,307.4 1542.2,307.4 1542.2,296.2 1539.6,296.2 1539.6,300.2 1537.0,300.2 1537.0,289.1 1534.4,289.1 1534.4,293.7 1531.8,293.7 1531.8,282.5 1529.2,282.5 1529.2,282.2 1526.6,282.2 1526.6,282.9 1524.0,282.9 1524.0,270.3 1521.4,270.3 1521.4,283.4 1518.8,283.4 1518.8,304.3 1516.2,304.3 1516.2,331.1 1513.6,331.1 1513.6,301.5 1511.0,301.5 1511.0,330.5 1508.4,330.5 1508.4,330.5 1505.8,330.5 1505.8,337.2 1503.2,337.2 1503.2,354.9 1500.6,354.9 1500.6,364.9 1498.0,364.9 1498.0,349.5 1495.4,349.5 1495.4,327.0 1492.8,327.0 1492.8,332.9 1490.2,332.9 1490.2,309.3 1487.6,309.3 1487.6,325.6 1485.0,325.6 1485.0,307.0 1482.4,307.0 1482.4,308.1 1479.8,308.1 1479.8,309.3 1477.2,309.3 1477.2,309.3 1474.6,309.3 1474.6,324.7 1472.0,324.7 1472.0,322.2 1469.4,322.2 1469.4,322.2 1466.8,322.2 1466.8,298.5 1464.2,298.5 1464.2,301.3 1461.6,301.3 1461.6,297.4 1459.0,297.4 1459.0,308.2 1456.4,308.2 1456.4,308.2 1453.8,308.2 1453.8,289.8 1451.2,289.8 1451.2,285.1 1448.6,285.1 1448.6,284.8 1446.0,284.8 1446.0,281.5 1443.4,281.5 1443.4,292.7 1440.8,292.7 1440.8,287.4 1438.2,287.4 1438.2,293.8 1435.6,293.8 1435.6,301.0 1433.0,301.0 1433.0,331.7 1430.4,331.7 1430.4,331.7 1427.8,331.7 1427.8,332.3 1425.2,332.3 1425.2,313.4 1422.6,313.4 1422.6,322.9 1420.0,322.9 1420.0,315.1 1417.4,315.1 1417.4,310.3 1414.8,310.3 1414.8,338.8 1412.2,338.8 1412.2,317.0 1409.6,317.0 1409.6,315.0 1407.0,315.0 1407.0,318.6 1404.4,318.6 1404.4,320.1 1401.8,320.1 1401.8,299.8 1399.2,299.8 1399.2,303.1 1396.6,303.1 1396.6,295.4 1394.0,295.4 1394.0,314.6 1391.4,314.6 1391.4,297.3 1388.8,297.3 1388.8,298.1 1386.2,298.1 1386.2,307.4 1383.6,307.4 1383.6,288.7 1381.0,288.7 1381.0,310.2 1378.4,310.2 1378.4,306.5 1375.8,306.5 1375.8,299.5 1373.2,299.5 1373.2,281.8 1370.6,281.8 1370.6,304.7 1368.0,304.7 1368.0,281.6 1365.4,281.6 1365.4,315.5 1362.8,315.5 1362.8,300.6 1360.2,300.6 1360.2,291.1 1357.6,291.1 1357.6,305.7 1355.0,305.7 1355.0,308.5 1352.4,308.5 1352.4,324.0 1349.8,324.0 1349.8,332.8 1347.2,332.8 1347.2,360.4 1344.6,360.4 1344.6,363.2 1342.0,363.2 1342.0,389.1 1339.4,389.1 1339.4,374.5 1336.8,374.5 1336.8,353.5 1334.2,353.5 1334.2,357.8 1331.6,357.8 1331.6,337.7 1329.0,337.7 1329.0,337.7 1326.4,337.7 1326.4,333.8 1323.8,333.8 1323.8,307.3 1321.2,307.3 1321.2,313.6 1318.6,313.6 1318.6,348.2 1316.0,348.2 1316.0,348.2 1313.4,348.2 1313.4,324.1 1310.8,324.1 1310.8,290.8 1308.2,290.8 1308.2,306.7 1305.6,306.7 1305.6,316.6 1303.0,316.6 1303.0,294.2 1300.4,294.2 1300.4,296.6 1297.8,296.6 1297.8,286.4 1295.2,286.4 1295.2,289.4 1292.6,289.4 1292.6,289.4 1290.0,289.4 1290.0,300.3 1287.4,300.3 1287.4,306.6 1284.8,306.6 1284.8,309.2 1282.2,309.2 1282.2,331.8 1279.6,331.8 1279.6,296.2 1277.0,296.2 1277.0,297.0 1274.4,297.0 1274.4,291.1 1271.8,291.1 1271.8,307.7 1269.2,307.7 1269.2,316.1 1266.6,316.1 1266.6,333.8 1264.0,333.8 1264.0,333.8 1261.4,333.8 1261.4,312.3 1258.8,312.3 1258.8,294.4 1256.2,294.4 1256.2,283.0 1253.6,283.0 1253.6,313.0 1251.0,313.0 1251.0,281.2 1248.4,281.2 1248.4,292.2 1245.8,292.2 1245.8,305.5 1243.2,305.5 1243.2,297.1 1240.6,297.1 1240.6,289.8 1238.0,289.8 1238.0,315.8 1235.4,315.8 1235.4,284.1 1232.8,284.1 1232.8,299.2 1230.2,299.2 1230.2,303.6 1227.6,303.6 1227.6,286.2 1225.0,286.2 1225.0,293.0 1222.4,293.0 1222.4,303.5 1219.8,303.5 1219.8,295.9 1217.2,295.9 1217.2,325.5 1214.6,325.5 1214.6,315.5 1212.0,315.5 1212.0,323.6 1209.4,323.6 1209.4,294.2 1206.8,294.2 1206.8,292.1 1204.2,292.1 1204.2,287.7 1201.6,287.7 1201.6,294.9 1199.0,294.9 1199.0,293.4 1196.4,293.4 1196.4,305.9 1193.8,305.9 1193.8,292.3 1191.2,292.3 1191.2,297.2 1188.6,297.2 1188.6,286.2 1186.0,286.2 1186.0,305.2 1183.4,305.2 1183.4,301.4 1180.8,301.4 1180.8,278.9 1178.2,278.9 1178.2,286.8 1175.6,286.8 1175.6,304.7 1173.0,304.7 1173.0,293.8 1170.4,293.8 1170.4,316.9 1167.8,316.9 1167.8,309.6 1165.2,309.6 1165.2,309.6 1162.6,309.6 1162.6,296.6 1160.0,296.6 1160.0,313.7 1157.4,313.7 1157.4,313.7 1154.8,313.7 1154.8,311.4 1152.2,311.4 1152.2,312.4 1149.6,312.4 1149.6,334.2 1147.0,334.2 1147.0,320.4 1144.4,320.4 1144.4,302.5 1141.8,302.5 1141.8,295.7 1139.2,295.7 1139.2,291.2 1136.6,291.2 1136.6,267.2 1134.0,267.2 1134.0,281.6 1131.4,281.6 1131.4,247.2 1128.8,247.2 1128.8,247.2 1126.2,247.2 1126.2,247.7 1123.6,247.7 1123.6,235.8 1121.0,235.8 1121.0,255.6 1118.4,255.6 1118.4,238.7 1115.8,238.7 1115.8,224.6 1113.2,224.6 1113.2,230.0 1110.6,230.0 1110.6,248.9 1108.0,248.9 1108.0,242.8 1105.4,242.8 1105.4,268.1 1102.8,268.1 1102.8,268.1 1100.2,268.1 1100.2,276.9 1097.6,276.9 1097.6,261.5 1095.0,261.5 1095.0,302.6 1092.4,302.6 1092.4,273.1 1089.8,273.1 1089.8,282.1 1087.2,282.1 1087.2,275.7 1084.6,275.7 1084.6,271.0 1082.0,271.0 1082.0,284.6 1079.4,284.6 1079.4,284.6 1076.8,284.6 1076.8,266.7 1074.2,266.7 1074.2,300.6 1071.6,300.6 1071.6,271.6 1069.0,271.6 1069.0,265.1 1066.4,265.1 1066.4,252.8 1063.8,252.8 1063.8,255.3 1061.2,255.3 1061.2,255.3 1058.6,255.3 1058.6,245.3 1056.0,245.3 1056.0,273.8 1053.4,273.8 1053.4,273.8 1050.8,273.8 1050.8,271.4 1048.2,271.4 1048.2,266.3 1045.6,266.3 1045.6,261.1 1043.0,261.1 1043.0,259.5 1040.4,259.5 1040.4,260.6 1037.8,260.6 1037.8,276.0 1035.2,276.0 1035.2,267.1 1032.6,267.1 1032.6,255.5 1030.0,255.5 1030.0,255.7 1027.4,255.7 1027.4,255.7 1024.8,255.7 1024.8,287.6 1022.2,287.6 1022.2,280.2 1019.6,280.2 1019.6,280.2 1017.0,280.2 1017.0,296.6 1014.4,296.6 1014.4,275.8 1011.8,275.8 1011.8,266.4 1009.2,266.4 1009.2,284.3 1006.6,284.3 1006.6,290.8 1004.0,290.8 1004.0,297.0 1001.4,297.0 1001.4,297.0 998.8,297.0 998.8,293.2 996.2,293.2 996.2,262.3 993.6,262.3 993.6,266.3 991.0,266.3 991.0,259.6 988.4,259.6 988.4,244.8 985.8,244.8 985.8,245.7 983.2,245.7 983.2,243.2 980.6,243.2 980.6,244.7 978.0,244.7 978.0,242.4 975.4,242.4 975.4,242.4 972.8,242.4 972.8,242.4 970.2,242.4 970.2,252.0 967.6,252.0 967.6,248.9 965.0,248.9 965.0,254.3 962.4,254.3 962.4,259.0 959.8,259.0 959.8,265.8 957.2,265.8 957.2,260.0 954.6,260.0 954.6,258.8 952.0,258.8 952.0,263.9 949.4,263.9 949.4,247.7 946.8,247.7 946.8,248.8 944.2,248.8 944.2,248.8 941.6,248.8 941.6,245.3 939.0,245.3 939.0,253.2 936.4,253.2 936.4,253.2 933.8,253.2 933.8,253.7 931.2,253.7 931.2,253.7 928.6,253.7 928.6,250.1 926.0,250.1 926.0,250.1 923.4,250.1 923.4,254.9 920.8,254.9 920.8,246.3 918.2,246.3 918.2,264.5 915.6,264.5 915.6,241.9 913.0,241.9 913.0,270.0 910.4,270.0 910.4,248.3 907.8,248.3 907.8,252.6 905.2,252.6 905.2,290.7 902.6,290.7 902.6,290.7 900.0,290.7 900.0,247.7 897.4,247.7 897.4,253.5 894.8,253.5 894.8,260.3 892.2,260.3 892.2,249.7 889.6,249.7 889.6,251.6 887.0,251.6 887.0,260.8 884.4,260.8 884.4,260.8 881.8,260.8 881.8,257.5 879.2,257.5 879.2,239.3 876.6,239.3 876.6,250.2 874.0,250.2 874.0,274.7 871.4,274.7 871.4,250.4 868.8,250.4 868.8,240.8 866.2,240.8 866.2,257.1 863.6,257.1 863.6,254.7 861.0,254.7 861.0,259.4 858.4,259.4 858.4,282.2 855.8,282.2 855.8,265.5 853.2,265.5 853.2,263.6 850.6,263.6 850.6,266.2 848.0,266.2 848.0,286.8 845.4,286.8 845.4,279.4 842.8,279.4 842.8,309.1 840.2,309.1 840.2,319.3 837.6,319.3 837.6,337.4 835.0,337.4 835.0,322.0 832.4,322.0 832.4,333.4 829.8,333.4 829.8,322.3 827.2,322.3 827.2,315.1 824.6,315.1 824.6,320.6 822.0,320.6 822.0,313.4 819.4,313.4 819.4,288.8 816.8,288.8 816.8,277.9 814.2,277.9 814.2,277.9 811.6,277.9 811.6,277.9 809.0,277.9 809.0,269.8 806.4,269.8 806.4,253.3 803.8,253.3 803.8,267.8 801.2,267.8 801.2,260.5 798.6,260.5 798.6,268.7 796.0,268.7 796.0,258.1 793.4,258.1 793.4,264.9 790.8,264.9 790.8,279.7 788.2,279.7 788.2,271.7 785.6,271.7 785.6,271.0 783.0,271.0 783.0,272.2 780.4,272.2 780.4,267.9 777.8,267.9 777.8,268.6 775.2,268.6 775.2,281.0 772.6,281.0 772.6,270.5 770.0,270.5 770.0,288.9 767.4,288.9 767.4,273.6 764.8,273.6 764.8,292.2 762.2,292.2 762.2,290.8 759.6,290.8 759.6,279.2 757.0,279.2 757.0,281.5 754.4,281.5 754.4,261.0 751.8,261.0 751.8,259.3 749.2,259.3 749.2,250.0 746.6,250.0 746.6,245.1 744.0,245.1 744.0,250.3 741.4,250.3 741.4,254.9 738.8,254.9 738.8,254.3 736.2,254.3 736.2,238.4 733.6,238.4 733.6,253.1 731.0,253.1 731.0,269.1 728.4,269.1 728.4,276.1 725.8,276.1 725.8,286.5 723.2,286.5 723.2,305.1 720.6,305.1 720.6,284.4 718.0,284.4 718.0,310.3 715.4,310.3 715.4,295.4 712.8,295.4 712.8,293.4 710.2,293.4 710.2,293.4 707.6,293.4 707.6,293.5 705.0,293.5 705.0,288.5 702.4,288.5 702.4,275.7 699.8,275.7 699.8,295.8 697.2,295.8 697.2,293.1 694.6,293.1 694.6,286.2 692.0,286.2 692.0,272.1 689.4,272.1 689.4,271.3 686.8,271.3 686.8,275.5 684.2,275.5 684.2,270.5 681.6,270.5 681.6,280.9 679.0,280.9 679.0,282.2 676.4,282.2 676.4,282.0 673.8,282.0 673.8,265.6 671.2,265.6 671.2,287.0 668.6,287.0 668.6,273.0 666.0,273.0 666.0,299.8 663.4,299.8 663.4,299.2 660.8,299.2 660.8,277.7 658.2,277.7 658.2,277.7 655.6,277.7 655.6,300.5 653.0,300.5 653.0,274.8 650.4,274.8 650.4,278.8 647.8,278.8 647.8,264.0 645.2,264.0 645.2,280.2 642.6,280.2 642.6,264.9 640.0,264.9 640.0,284.6 637.4,284.6 637.4,267.5 634.8,267.5 634.8,289.3 632.2,289.3 632.2,279.5 629.6,279.5 629.6,283.9 627.0,283.9 627.0,290.2 624.4,290.2 624.4,315.3 621.8,315.3 621.8,335.1 619.2,335.1 619.2,303.7 616.6,303.7 616.6,287.2 614.0,287.2 614.0,328.6 611.4,328.6 611.4,302.2 608.8,302.2 608.8,310.9 606.2,310.9 606.2,284.1 603.6,284.1 603.6,286.7 601.0,286.7 601.0,318.0 598.4,318.0 598.4,304.6 595.8,304.6 595.8,340.8 593.2,340.8 593.2,301.6 590.6,301.6 590.6,323.8 588.0,323.8 588.0,302.3 585.4,302.3 585.4,305.4 582.8,305.4 582.8,294.9 580.2,294.9 580.2,287.9 577.6,287.9 577.6,285.7 575.0,285.7 575.0,285.7 572.4,285.7 572.4,276.0 569.8,276.0 569.8,273.4 567.2,273.4 567.2,296.3 564.6,296.3 564.6,302.6 562.0,302.6 562.0,319.1 559.4,319.1 559.4,320.1 556.8,320.1 556.8,330.4 554.2,330.4 554.2,330.4 551.6,330.4 551.6,332.2 549.0,332.2 549.0,324.0 546.4,324.0 546.4,321.0 543.8,321.0 543.8,354.7 541.2,354.7 541.2,329.8 538.6,329.8 538.6,333.4 536.0,333.4 536.0,335.9 533.4,335.9 533.4,330.5 530.8,330.5 530.8,349.1 528.2,349.1 528.2,363.7 525.6,363.7 525.6,337.5 523.0,337.5 523.0,330.1 520.4,330.1 520.4,342.0 517.8,342.0 517.8,329.9 515.2,329.9 515.2,311.8 512.6,311.8 512.6,296.5 510.0,296.5 510.0,307.6 507.4,307.6 507.4,304.6 504.8,304.6 504.8,305.7 502.2,305.7 502.2,303.6 499.6,303.6 499.6,317.1 497.0,317.1 497.0,314.2 494.4,314.2 494.4,346.4 491.8,346.4 491.8,330.8 489.2,330.8 489.2,322.5 486.6,322.5 486.6,344.7 484.0,344.7 484.0,356.3 481.4,356.3 481.4,335.0 478.8,335.0 478.8,338.3 476.2,338.3 476.2,338.3 473.6,338.3 473.6,329.9 471.0,329.9 471.0,317.1 468.4,317.1 468.4,339.4 465.8,339.4 465.8,314.2 463.2,314.2 463.2,352.9 460.6,352.9 460.6,381.5 458.0,381.5 458.0,351.6 455.4,351.6 455.4,381.2 452.8,381.2 452.8,381.2 450.2,381.2 450.2,374.2 447.6,374.2 447.6,388.2 445.0,388.2 445.0,388.0 442.4,388.0 442.4,400.1 439.8,400.1 439.8,377.2 437.2,377.2 437.2,370.4 434.6,370.4 434.6,363.7 432.0,363.7 432.0,356.2 429.4,356.2 429.4,355.9 426.8,355.9 426.8,334.9 424.2,334.9 424.2,362.6 421.6,362.6 421.6,369.8 419.0,369.8 419.0,418.2 416.4,418.2 416.4,418.2 413.8,418.2 413.8,387.1 411.2,387.1 411.2,424.6 408.6,424.6 408.6,424.6 406.0,424.6 406.0,458.3 403.4,458.3 403.4,434.0 400.8,434.0 400.8,466.0 398.2,466.0 398.2,466.2 395.6,466.2 395.6,460.9 393.0,460.9 393.0,440.9 390.4,440.9 390.4,420.7 387.8,420.7 387.8,413.4 385.2,413.4 385.2,404.6 382.6,404.6 382.6,410.6 380.0,410.6 380.0,409.4 377.4,409.4 377.4,420.4 374.8,420.4 374.8,418.8 372.2,418.8 372.2,447.1 369.6,447.1 369.6,439.5 367.0,439.5 367.0,446.9 364.4,446.9 364.4,432.3 361.8,432.3 361.8,453.8 359.2,453.8 359.2,453.7 356.6,453.7 356.6,466.8 354.0,466.8 354.0,454.4 351.4,454.4 351.4,455.1 348.8,455.1 348.8,478.7 346.2,478.7 346.2,487.4 343.6,487.4 343.6,446.1 341.0,446.1 341.0,478.4 338.4,478.4 338.4,453.7 335.8,453.7 335.8,434.9 333.2,434.9 333.2,455.4 330.6,455.4 330.6,473.6 328.0,473.6 328.0,473.0 325.4,473.0 325.4,476.3 322.8,476.3 322.8,466.6 320.2,466.6 320.2,464.6 317.6,464.6 317.6,446.5 315.0,446.5 315.0,484.9 312.4,484.9 312.4,465.9 309.8,465.9 309.8,544.5 307.2,544.5 307.2,544.5 304.6,544.5 304.6,536.2 302.0,536.2 302.0,555.2 299.4,555.2 299.4,566.7 296.8,566.7 296.8,566.7 294.2,566.7 294.2,542.9 291.6,542.9 291.6,574.2 289.0,574.2 289.0,559.1 286.4,559.1 286.4,564.4 283.8,564.4 283.8,573.2 281.2,573.2 281.2,606.4 278.6,606.4 278.6,633.5 276.0,633.5 276.0,671.2 273.4,671.2 273.4,680.6 270.8,680.6 270.8,695.1 268.2,695.1 268.2,703.9 265.6,703.9 265.6,769.8 263.0,769.8Z"/></g>
<g clip-path="url(#c2)"><path fill="#ff0000" d="M263.0,1292.3 265.6,1292.3 265.6,1186.0 268.2,1186.0 268.2,1186.0 270.8,1186.0 270.8,1180.6 273.4,1180.6 273.4,1195.3 276.0,1195.3 276.0,1190.5 278.6,1190.5 278.6,1201.0 281.2,1201.0 281.2,1139.5 283.8,1139.5 283.8,1176.1 286.4,1176.1 286.4,1193.5 289.0,1193.5 289.0,1147.4 291.6,1147.4 291.6,1207.3 294.2,1207.3 294.2,1189.2 296.8,1189.2 296.8,1194.3 299.4,1194.3 299.4,1214.1 302.0,1214.1 302.0,1183.1 304.6,1183.1 304.6,1167.7 307.2,1167.7 307.2,1143.6 309.8,1143.6 309.8,1096.5 312.4,1096.5 312.4,1071.9 315.0,1071.9 315.0,1076.9 317.6,1076.9 317.6,1075.9 320.2,1075.9 320.2,1059.6 322.8,1059.6 322.8,1074.5 325.4,1074.5 325.4,1083.7 328.0,1083.7 328.0,1070.7 330.6,1070.7 330.6,1081.6 333.2,1081.6 333.2,1061.9 335.8,1061.9 335.8,1061.9 338.4,1061.9 338.4,1065.0 341.0,1065.0 341.0,1038.4 343.6,1038.4 343.6,1069.3 346.2,1069.3 346.2,1067.8 348.8,1067.8 348.8,1063.6 351.4,1063.6 351.4,1030.7 354.0,1030.7 354.0,1060.0 356.6,1060.0 356.6,1088.3 359.2,1088.3 359.2,1049.2 361.8,1049.2 361.8,1085.5 364.4,1085.5 364.4,1079.5 367.0,1079.5 367.0,1090.2 369.6,1090.2 369.6,1083.3 372.2,1083.3 372.2,1060.6 374.8,1060.6 374.8,1028.8 377.4,1028.8 377.4,1027.7 380.0,1027.7 380.0,1043.3 382.6,1043.3 382.6,1025.5 385.2,1025.5 385.2,1021.3 387.8,1021.3 387.8,1011.2 390.4,1011.2 390.4,969.2 393.0,969.2 393.0,979.1 395.6,979.1 395.6,988.6 398.2,988.6 398.2,1003.9 400.8,1003.9 400.8,1009.3 403.4,1009.3 403.4,1027.6 406.0,1027.6 406.0,1027.6 408.6,1027.6 408.6,1017.6 411.2,1017.6 411.2,1026.9 413.8,1026.9 413.8,995.5 416.4,995.5 416.4,999.7 419.0,999.7 419.0,993.1 421.6,993.1 421.6,981.2 424.2,981.2 424.2,945.0 426.8,945.0 426.8,966.3 429.4,966.3 429.4,962.9 432.0,962.9 432.0,955.4 434.6,955.4 434.6,951.6 437.2,951.6 437.2,920.1 439.8,920.1 439.8,948.2 442.4,948.2 442.4,969.3 445.0,969.3 445.0,976.4 447.6,976.4 447.6,933.8 450.2,933.8 450.2,962.9 452.8,962.9 452.8,946.6 455.4,946.6 455.4,934.5 458.0,934.5 458.0,959.8 460.6,959.8 460.6,952.1 463.2,952.1 463.2,947.1 465.8,947.1 465.8,979.9 468.4,979.9 468.4,990.5 471.0,990.5 471.0,996.9 473.6,996.9 473.6,950.2 476.2,950.2 476.2,984.3 478.8,984.3 478.8,1006.1 481.4,1006.1 481.4,988.5 484.0,988.5 484.0,970.4 486.6,970.4 486.6,957.4 489.2,957.4 489.2,965.9 491.8,965.9 491.8,958.5 494.4,958.5 494.4,916.4 497.0,916.4 497.0,950.8 499.6,950.8 499.6,953.5 502.2,953.5 502.2,926.4 504.8,926.4 504.8,938.4 507.4,938.4 507.4,939.3 510.0,939.3 510.0,851.5 512.6,851.5 512.6,851.1 515.2,851.1 515.2,900.7 517.8,900.7 517.8,904.8 520.4,904.8 520.4,912.1 523.0,912.1 523.0,934.2 525.6,934.2 525.6,929.0 528.2,929.0 528.2,897.5 530.8,897.5 530.8,898.4 533.4,898.4 533.4,898.3 536.0,898.3 536.0,912.8 538.6,912.8 538.6,918.1 541.2,918.1 541.2,925.4 543.8,925.4 543.8,921.0 546.4,921.0 546.4,932.4 549.0,932.4 549.0,922.5 551.6,922.5 551.6,922.5 554.2,922.5 554.2,938.3 556.8,938.3 556.8,913.7 559.4,913.7 559.4,924.0 562.0,924.0 562.0,920.4 564.6,920.4 564.6,921.2 567.2,921.2 567.2,910.7 569.8,910.7 569.8,901.7 572.4,901.7 572.4,936.2 575.0,936.2 575.0,947.1 577.6,947.1 577.6,959.9 580.2,959.9 580.2,947.8 582.8,947.8 582.8,953.4 585.4,953.4 585.4,935.9 588.0,935.9 588.0,899.7 590.6,899.7 590.6,893.2 593.2,893.2 593.2,923.3 595.8,923.3 595.8,947.3 598.4,947.3 598.4,950.7 601.0,950.7 601.0,973.6 603.6,973.6 603.6,975.8 606.2,975.8 606.2,956.3 608.8,956.3 608.8,944.9 611.4,944.9 611.4,950.4 614.0,950.4 614.0,941.5 616.6,941.5 616.6,931.0 619.2,931.0 619.2,908.7 621.8,908.7 621.8,943.8 624.4,943.8 624.4,944.6 627.0,944.6 627.0,936.4 629.6,936.4 629.6,913.2 632.2,913.2 632.2,913.2 634.8,913.2 634.8,958.2 637.4,958.2 637.4,916.9 640.0,916.9 640.0,951.1 642.6,951.1 642.6,939.1 645.2,939.1 645.2,922.7 647.8,922.7 647.8,922.7 650.4,922.7 650.4,936.1 653.0,936.1 653.0,926.6 655.6,926.6 655.6,933.2 658.2,933.2 658.2,933.2 660.8,933.2 660.8,913.8 663.4,913.8 663.4,966.0 666.0,966.0 666.0,942.0 668.6,942.0 668.6,957.9 671.2,957.9 671.2,944.9 673.8,944.9 673.8,921.5 676.4,921.5 676.4,911.2 679.0,911.2 679.0,920.0 681.6,920.0 681.6,933.5 684.2,933.5 684.2,919.1 686.8,919.1 686.8,935.9 689.4,935.9 689.4,926.9 692.0,926.9 692.0,931.7 694.6,931.7 694.6,941.3 697.2,941.3 697.2,949.6 699.8,949.6 699.8,958.8 702.4,958.8 702.4,949.1 705.0,949.1 705.0,951.9 707.6,951.9 707.6,951.9 710.2,951.9 710.2,944.0 712.8,944.0 712.8,929.6 715.4,929.6 715.4,929.7 718.0,929.7 718.0,929.1 720.6,929.1 720.6,927.8 723.2,927.8 723.2,949.7 725.8,949.7 725.8,898.1 728.4,898.1 728.4,917.4 731.0,917.4 731.0,914.8 733.6,914.8 733.6,914.7 736.2,914.7 736.2,904.4 738.8,904.4 738.8,935.0 741.4,935.0 741.4,916.0 744.0,916.0 744.0,916.0 746.6,916.0 746.6,914.8 749.2,914.8 749.2,938.0 751.8,938.0 751.8,920.5 754.4,920.5 754.4,894.9 757.0,894.9 757.0,894.9 759.6,894.9 759.6,928.0 762.2,928.0 762.2,918.0 764.8,918.0 764.8,916.6 767.4,916.6 767.4,899.1 770.0,899.1 770.0,918.1 772.6,918.1 772.6,884.8 775.2,884.8 775.2,900.6 777.8,900.6 777.8,914.5 780.4,914.5 780.4,916.3 783.0,916.3 783.0,908.7 785.6,908.7 785.6,888.3 788.2,888.3 788.2,893.8 790.8,893.8 790.8,899.8 793.4,899.8 793.4,902.0 796.0,902.0 796.0,893.9 798.6,893.9 798.6,895.0 801.2,895.0 801.2,896.8 803.8,896.8 803.8,889.3 806.4,889.3 806.4,899.4 809.0,899.4 809.0,865.5 811.6,865.5 811.6,867.0 814.2,867.0 814.2,868.3 816.8,868.3 816.8,904.5 819.4,904.5 819.4,892.8 822.0,892.8 822.0,903.7 824.6,903.7 824.6,889.0 827.2,889.0 827.2,893.0 829.8,893.0 829.8,880.6 832.4,880.6 832.4,880.6 835.0,880.6 835.0,904.4 837.6,904.4 837.6,895.0 840.2,895.0 840.2,925.6 842.8,925.6 842.8,924.9 845.4,924.9 845.4,940.6 848.0,940.6 848.0,926.9 850.6,926.9 850.6,935.1 853.2,935.1 853.2,938.8 855.8,938.8 855.8,932.6 858.4,932.6 858.4,930.9 861.0,930.9 861.0,923.3 863.6,923.3 863.6,922.1 866.2,922.1 866.2,899.3 868.8,899.3 868.8,916.2 871.4,916.2 871.4,916.2 874.0,916.2 874.0,900.8 876.6,900.8 876.6,881.1 879.2,881.1 879.2,913.3 881.8,913.3 881.8,893.8 884.4,893.8 884.4,917.8 887.0,917.8 887.0,921.1 889.6,921.1 889.6,934.7 892.2,934.7 892.2,920.7 894.8,920.7 894.8,947.7 897.4,947.7 897.4,943.5 900.0,943.5 900.0,931.8 902.6,931.8 902.6,942.1 905.2,942.1 905.2,907.6 907.8,907.6 907.8,924.3 910.4,924.3 910.4,919.2 913.0,919.2 913.0,921.0 915.6,921.0 915.6,919.2 918.2,919.2 918.2,896.9 920.8,896.9 920.8,916.4 923.4,916.4 923.4,910.9 926.0,910.9 926.0,895.6 928.6,895.6 928.6,890.5 931.2,890.5 931.2,920.1 933.8,920.1 933.8,920.3 936.4,920.3 936.4,914.3 939.0,914.3 939.0,907.9 941.6,907.9 941.6,905.7 944.2,905.7 944.2,917.7 946.8,917.7 946.8,922.5 949.4,922.5 949.4,919.2 952.0,919.2 952.0,919.2 954.6,919.2 954.6,915.7 957.2,915.7 957.2,893.3 959.8,893.3 959.8,900.1 962.4,900.1 962.4,900.1 965.0,900.1 965.0,875.3 967.6,875.3 967.6,907.2 970.2,907.2 970.2,913.2 972.8,913.2 972.8,895.4 975.4,895.4 975.4,895.4 978.0,895.4 978.0,911.7 980.6,911.7 980.6,936.2 983.2,936.2 983.2,896.3 985.8,896.3 985.8,917.4 988.4,917.4 988.4,902.6 991.0,902.6 991.0,902.6 993.6,902.6 993.6,906.9 996.2,906.9 996.2,897.2 998.8,897.2 998.8,897.2 1001.4,897.2 1001.4,901.8 1004.0,901.8 1004.0,888.6 1006.6,888.6 1006.6,918.7 1009.2,918.7 1009.2,898.8 1011.8,898.8 1011.8,912.1 1014.4,912.1 1014.4,891.8 1017.0,891.8 1017.0,886.8 1019.6,886.8 1019.6,910.3 1022.2,910.3 1022.2,924.7 1024.8,924.7 1024.8,909.4 1027.4,909.4 1027.4,894.8 1030.0,894.8 1030.0,894.8 1032.6,894.8 1032.6,921.4 1035.2,921.4 1035.2,902.1 1037.8,902.1 1037.8,913.0 1040.4,913.0 1040.4,926.1 1043.0,926.1 1043.0,901.2 1045.6,901.2 1045.6,916.9 1048.2,916.9 1048.2,909.1 1050.8,909.1 1050.8,918.3 1053.4,918.3 1053.4,910.6 1056.0,910.6 1056.0,907.9 1058.6,907.9 1058.6,907.0 1061.2,907.0 1061.2,908.9 1063.8,908.9 1063.8,908.9 1066.4,908.9 1066.4,932.7 1069.0,932.7 1069.0,943.5 1071.6,943.5 1071.6,929.4 1074.2,929.4 1074.2,926.4 1076.8,926.4 1076.8,926.4 1079.4,926.4 1079.4,975.8 1082.0,975.8 1082.0,963.0 1084.6,963.0 1084.6,963.2 1087.2,963.2 1087.2,947.0 1089.8,947.0 1089.8,962.0 1092.4,962.0 1092.4,948.3 1095.0,948.3 1095.0,943.2 1097.6,943.2 1097.6,955.7 1100.2,955.7 1100.2,953.7 1102.8,953.7 1102.8,945.3 1105.4,945.3 1105.4,944.4 1108.0,944.4 1108.0,917.3 1110.6,917.3 1110.6,925.0 1113.2,925.0 1113.2,921.6 1115.8,921.6 1115.8,894.7 1118.4,894.7 1118.4,892.6 1121.0,892.6 1121.0,903.9 1123.6,903.9 1123.6,914.9 1126.2,914.9 1126.2,897.9 1128.8,897.9 1128.8,907.4 1131.4,907.4 1131.4,913.7 1134.0,913.7 1134.0,900.3 1136.6,900.3 1136.6,920.7 1139.2,920.7 1139.2,927.2 1141.8,927.2 1141.8,947.4 1144.4,947.4 1144.4,968.5 1147.0,968.5 1147.0,968.5 1149.6,968.5 1149.6,972.6 1152.2,972.6 1152.2,975.3 1154.8,975.3 1154.8,971.0 1157.4,971.0 1157.4,944.6 1160.0,944.6 1160.0,958.9 1162.6,958.9 1162.6,927.6 1165.2,927.6 1165.2,969.7 1167.8,969.7 1167.8,959.9 1170.4,959.9 1170.4,924.1 1173.0,924.1 1173.0,962.1 1175.6,962.1 1175.6,951.6 1178.2,951.6 1178.2,956.4 1180.8,956.4 1180.8,943.5 1183.4,943.5 1183.4,957.2 1186.0,957.2 1186.0,945.6 1188.6,945.6 1188.6,962.1 1191.2,962.1 1191.2,938.0 1193.8,938.0 1193.8,946.1 1196.4,946.1 1196.4,956.9 1199.0,956.9 1199.0,956.9 1201.6,956.9 1201.6,943.9 1204.2,943.9 1204.2,950.2 1206.8,950.2 1206.8,925.1 1209.4,925.1 1209.4,925.1 1212.0,925.1 1212.0,949.1 1214.6,949.1 1214.6,950.5 1217.2,950.5 1217.2,957.9 1219.8,957.9 1219.8,960.4 1222.4,960.4 1222.4,937.7 1225.0,937.7 1225.0,937.7 1227.6,937.7 1227.6,936.0 1230.2,936.0 1230.2,975.3 1232.8,975.3 1232.8,978.2 1235.4,978.2 1235.4,971.7 1238.0,971.7 1238.0,971.7 1240.6,971.7 1240.6,977.7 1243.2,977.7 1243.2,948.4 1245.8,948.4 1245.8,977.4 1248.4,977.4 1248.4,949.0 1251.0,949.0 1251.0,942.9 1253.6,942.9 1253.6,942.9 1256.2,942.9 1256.2,956.6 1258.8,956.6 1258.8,940.9 1261.4,940.9 1261.4,973.2 1264.0,973.2 1264.0,925.3 1266.6,925.3 1266.6,955.5 1269.2,955.5 1269.2,948.6 1271.8,948.6 1271.8,963.8 1274.4,963.8 1274.4,954.3 1277.0,954.3 1277.0,964.3 1279.6,964.3 1279.6,929.1 1282.2,929.1 1282.2,940.4 1284.8,940.4 1284.8,941.3 1287.4,941.3 1287.4,943.4 1290.0,943.4 1290.0,949.3 1292.6,949.3 1292.6,946.1 1295.2,946.1 1295.2,933.8 1297.8,933.8 1297.8,923.9 1300.4,923.9 1300.4,945.7 1303.0,945.7 1303.0,950.9 1305.6,950.9 1305.6,932.9 1308.2,932.9 1308.2,932.9 1310.8,932.9 1310.8,940.5 1313.4,940.5 1313.4,937.7 1316.0,937.7 1316.0,942.8 1318.6,942.8 1318.6,930.9 1321.2,930.9 1321.2,944.5 1323.8,944.5 1323.8,926.7 1326.4,926.7 1326.4,919.5 1329.0,919.5 1329.0,925.2 1331.6,925.2 1331.6,931.2 1334.2,931.2 1334.2,931.6 1336.8,931.6 1336.8,916.0 1339.4,916.0 1339.4,935.4 1342.0,935.4 1342.0,951.6 1344.6,951.6 1344.6,956.2 1347.2,956.2 1347.2,957.6 1349.8,957.6 1349.8,948.3 1352.4,948.3 1352.4,954.0 1355.0,954.0 1355.0,946.7 1357.6,946.7 1357.6,960.4 1360.2,960.4 1360.2,938.0 1362.8,938.0 1362.8,957.0 1365.4,957.0 1365.4,947.8 1368.0,947.8 1368.0,947.8 1370.6,947.8 1370.6,949.6 1373.2,949.6 1373.2,936.3 1375.8,936.3 1375.8,965.4 1378.4,965.4 1378.4,955.8 1381.0,955.8 1381.0,943.0 1383.6,943.0 1383.6,942.7 1386.2,942.7 1386.2,928.0 1388.8,928.0 1388.8,924.4 1391.4,924.4 1391.4,936.0 1394.0,936.0 1394.0,931.4 1396.6,931.4 1396.6,938.1 1399.2,938.1 1399.2,918.0 1401.8,918.0 1401.8,950.1 1404.4,950.1 1404.4,925.7 1407.0,925.7 1407.0,946.6 1409.6,946.6 1409.6,917.2 1412.2,917.2 1412.2,959.1 1414.8,959.1 1414.8,931.1 1417.4,931.1 1417.4,899.7 1420.0,899.7 1420.0,940.1 1422.6,940.1 1422.6,934.1 1425.2,934.1 1425.2,947.4 1427.8,947.4 1427.8,916.6 1430.4,916.6 1430.4,916.6 1433.0,916.6 1433.0,948.9 1435.6,948.9 1435.6,948.9 1438.2,948.9 1438.2,958.8 1440.8,958.8 1440.8,931.2 1443.4,931.2 1443.4,939.2 1446.0,939.2 1446.0,930.9 1448.6,930.9 1448.6,948.3 1451.2,948.3 1451.2,960.4 1453.8,960.4 1453.8,970.9 1456.4,970.9 1456.4,977.8 1459.0,977.8 1459.0,972.5 1461.6,972.5 1461.6,971.6 1464.2,971.6 1464.2,960.6 1466.8,960.6 1466.8,955.1 1469.4,955.1 1469.4,927.2 1472.0,927.2 1472.0,959.2 1474.6,959.2 1474.6,947.1 1477.2,947.1 1477.2,926.9 1479.8,926.9 1479.8,926.9 1482.4,926.9 1482.4,928.3 1485.0,928.3 1485.0,913.0 1487.6,913.0 1487.6,928.8 1490.2,928.8 1490.2,927.4 1492.8,927.4 1492.8,919.1 1495.4,919.1 1495.4,880.8 1498.0,880.8 1498.0,869.6 1500.6,869.6 1500.6,906.7 1503.2,906.7 1503.2,898.2 1505.8,898.2 1505.8,869.2 1508.4,869.2 1508.4,904.0 1511.0,904.0 1511.0,943.6 1513.6,943.6 1513.6,943.6 1516.2,943.6 1516.2,960.0 1518.8,960.0 1518.8,965.0 1521.4,965.0 1521.4,953.5 1524.0,953.5 1524.0,952.2 1526.6,952.2 1526.6,928.0 1529.2,928.0 1529.2,924.2 1531.8,924.2 1531.8,942.0 1534.4,942.0 1534.4,928.4 1537.0,928.4 1537.0,939.9 1539.6,939.9 1539.6,939.9 1542.2,939.9 1542.2,918.3 1544.8,918.3 1544.8,913.8 1547.4,913.8 1547.4,931.1 1550.0,931.1 1550.0,891.5 1552.6,891.5 1552.6,891.5 1555.2,891.5 1555.2,900.1 1557.8,900.1 1557.8,910.7 1560.4,910.7 1560.4,919.5 1563.0,919.5 1563.0,909.2 1565.6,909.2 1565.6,930.9 1568.2,930.9 1568.2,920.0 1570.8,920.0 1570.8,919.4 1573.4,919.4 1573.4,932.2 1576.0,932.2 1576.0,920.6 1578.6,920.6 1578.6,928.4 1581.2,928.4 1581.2,943.9 1583.8,943.9 1583.8,912.1 1586.4,912.1 1586.4,930.2 1589.0,930.2 1589.0,914.5 1591.6,914.5 1591.6,886.0 1594.2,886.0 1594.2,883.9 1596.8,883.9 1596.8,913.8 1599.4,913.8 1599.4,918.7 1602.0,918.7 1602.0,914.8 1604.6,914.8 1604.6,906.0 1607.2,906.0 1607.2,904.4 1609.8,904.4 1609.8,915.3 1612.4,915.3 1612.4,877.0 1615.0,877.0 1615.0,896.8 1617.6,896.8 1617.6,895.8 1620.2,895.8 1620.2,876.0 1622.8,876.0 1622.8,876.0 1625.4,876.0 1625.4,918.1 1628.0,918.1 1628.0,897.3 1630.6,897.3 1630.6,918.9 1633.2,918.9 1633.2,920.4 1635.8,920.4 1635.8,927.9 1638.4,927.9 1638.4,906.6 1641.0,906.6 1641.0,915.8 1643.6,915.8 1643.6,925.9 1646.2,925.9 1646.2,939.5 1648.8,939.5 1648.8,923.4 1651.4,923.4 1651.4,929.0 1654.0,929.0 1654.0,924.1 1656.6,924.1 1656.6,924.1 1659.2,924.1 1659.2,933.2 1661.8,933.2 1661.8,933.0 1664.4,933.0 1664.4,940.2 1667.0,940.2 1667.0,921.6 1669.6,921.6 1669.6,914.1 1672.2,914.1 1672.2,913.1 1674.8,913.1 1674.8,928.7 1677.4,928.7 1677.4,914.3 1680.0,914.3 1680.0,926.2 1682.6,926.2 1682.6,929.2 1685.2,929.2 1685.2,917.1 1687.8,917.1 1687.8,915.7 1690.4,915.7 1690.4,903.5 1693.0,903.5 1693.0,894.6 1695.6,894.6 1695.6,908.4 1698.2,908.4 1698.2,894.0 1700.8,894.0 1700.8,883.7 1703.4,883.7 1703.4,875.1 1706.0,875.1 1706.0,875.1 1708.6,875.1 1708.6,910.2 1711.2,910.2 1711.2,905.5 1713.8,905.5 1713.8,894.6 1716.4,894.6 1716.4,891.0 1719.0,891.0 1719.0,891.0 1721.6,891.0 1721.6,884.6 1724.2,884.6 1724.2,908.8 1726.8,908.8 1726.8,898.5 1729.4,898.5 1729.4,890.9 1732.0,890.9 1732.0,890.9 1734.6,890.9 1734.6,919.5 1737.2,919.5 1737.2,904.1 1739.8,904.1 1739.8,900.4 1742.4,900.4 1742.4,917.8 1745.0,917.8 1745.0,915.8 1747.6,915.8 1747.6,912.9 1750.2,912.9 1750.2,919.9 1752.8,919.9 1752.8,917.6 1755.4,917.6 1755.4,925.1 1758.0,925.1 1758.0,917.3 1760.6,917.3 1760.6,913.2 1763.2,913.2 1763.2,899.3 1765.8,899.3 1765.8,913.6 1768.4,913.6 1768.4,913.6 1771.0,913.6 1771.0,917.1 1773.6,917.1 1773.6,899.9 1776.2,899.9 1776.2,893.2 1778.8,893.2 1778.8,906.8 1781.4,906.8 1781.4,912.4 1784.0,912.4 1784.0,920.4 1786.6,920.4 1786.6,929.5 1789.2,929.5 1789.2,900.2 1791.8,900.2 1791.8,909.1 1794.4,909.1 1794.4,910.6 1797.0,910.6 1797.0,910.6 1799.6,910.6 1799.6,922.7 1802.2,922.7 1802.2,905.4 1804.8,905.4 1804.8,909.3 1807.4,909.3 1807.4,939.8 1810.0,939.8 1810.0,922.9 1812.6,922.9 1812.6,923.8 1815.2,923.8 1815.2,940.7 1817.8,940.7 1817.8,941.3 1820.4,941.3 1820.4,926.0 1823.0,926.0 1823.0,926.0 1825.6,926.0 1825.6,904.1 1828.2,904.1 1828.2,904.1 1830.8,904.1 1830.8,918.8 1833.4,918.8 1833.4,916.9 1836.0,916.9 1836.0,903.7 1838.6,903.7 1838.6,893.3 1841.2,893.3 1841.2,902.8 1843.8,902.8 1843.8,902.7 1846.4,902.7 1846.4,919.8 1849.0,919.8 1849.0,903.4 1851.6,903.4 1851.6,898.1 1854.2,898.1 1854.2,891.7 1856.8,891.7 1856.8,906.5 1859.4,906.5 1859.4,892.2 1862.0,892.2 1862.0,888.1 1864.6,888.1 1864.6,919.8 1867.2,919.8 1867.2,912.2 1869.8,912.2 1869.8,904.2 1872.4,904.2 1872.4,904.6 1875.0,904.6 1875.0,910.8 1877.6,910.8 1877.6,910.8 1880.2,910.8 1880.2,911.2 1882.8,911.2 1882.8,890.9 1885.4,890.9 1885.4,884.8 1888.0,884.8 1888.0,896.7 1890.6,896.7 1890.6,889.6 1893.2,889.6 1893.2,889.6 1895.8,889.6 1895.8,899.6 1898.4,899.6 1898.4,896.5 1901.0,896.5 1901.0,898.5 1903.6,898.5 1903.6,889.2 1906.2,889.2 1906.2,879.4 1908.8,879.4 1908.8,896.1 1911.4,896.1 1911.4,885.3 1914.0,885.3 1914.0,904.9 1916.6,904.9 1916.6,885.4 1919.2,885.4 1919.2,904.3 1921.8,904.3 1921.8,898.8 1924.4,898.8 1924.4,896.7 1927.0,896.7 1927.0,892.7 1929.6,892.7 1929.6,892.7 1932.2,892.7 1932.2,875.7 1934.8,875.7 1934.8,875.7 1937.4,875.7 1937.4,892.6 1940.0,892.6 1940.0,865.8 1942.6,865.8 1942.6,893.9 1945.2,893.9 1945.2,890.6 1947.8,890.6 1947.8,883.0 1950.4,883.0 1950.4,884.0 1953.0,884.0 1953.0,889.0 1955.6,889.0 1955.6,871.3 1958.2,871.3 1958.2,871.3 1960.8,871.3 1960.8,890.4 1963.4,890.4 1963.4,890.4 1966.0,890.4 1966.0,897.2 1968.6,897.2 1968.6,908.0 1971.2,908.0 1971.2,896.8 1973.8,896.8 1973.8,907.7 1976.4,907.7 1976.4,916.6 1979.0,916.6 1979.0,909.9 1981.6,909.9 1981.6,909.5 1984.2,909.5 1984.2,905.6 1986.8,905.6 1986.8,909.0 1989.4,909.0 1989.4,928.5 1992.0,928.5 1992.0,918.4 1994.6,918.4 1994.6,914.3 1997.2,914.3 1997.2,918.8 1999.8,918.8 1999.8,917.6 2002.4,917.6 2002.4,921.8 2005.0,921.8 2005.0,932.2 2007.6,932.2 2007.6,932.3 2010.2,932.3 2010.2,947.5 2012.8,947.5 2012.8,947.2 2015.4,947.2 2015.4,935.2 2018.0,935.2 2018.0,927.9 2020.6,927.9 2020.6,938.7 2023.2,938.7 2023.2,943.1 2025.8,943.1 2025.8,916.5 2028.4,916.5 2028.4,953.4 2031.0,953.4 2031.0,947.5 2033.6,947.5 2033.6,946.2 2036.2,946.2 2036.2,923.0 2038.8,923.0 2038.8,941.2 2041.4,941.2 2041.4,934.9 2044.0,934.9 2044.0,915.5 2046.6,915.5 2046.6,934.9 2049.2,934.9 2049.2,936.6 2051.8,936.6 2051.8,914.8 2054.4,914.8 2054.4,923.6 2057.0,923.6 2057.0,935.4 2059.6,935.4 2059.6,913.8 2062.2,913.8 2062.2,916.9 2064.8,916.9 2064.8,926.1 2067.4,926.1 2067.4,918.9 2070.0,918.9 2070.0,918.6 2072.6,918.6 2072.6,909.9 2075.2,909.9 2075.2,922.7 2077.8,922.7 2077.8,910.1 2080.4,910.1 2080.4,900.2 2083.0,900.2 2083.0,900.2 2085.6,900.2 2085.6,904.6 2088.2,904.6 2088.2,912.9 2090.8,912.9 2090.8,899.3 2093.4,899.3 2093.4,912.0 2096.0,912.0 2096.0,916.8 2098.6,916.8 2098.6,908.9 2101.2,908.9 2101.2,911.2 2103.8,911.2 2103.8,917.5 2106.4,917.5 2106.4,917.5 2109.0,917.5 2109.0,907.9 2111.6,907.9 2111.6,913.0 2114.2,913.0 2114.2,907.0 2116.8,907.0 2116.8,911.3 2119.4,911.3 2119.4,905.7 2122.0,905.7 2122.0,908.3 2124.6,908.3 2124.6,907.0 2127.2,907.0 2127.2,908.4 2129.8,908.4 2129.8,877.5 2132.4,877.5 2132.4,898.3 2135.0,898.3 2135.0,898.3 2137.6,898.3 2137.6,893.8 2140.2,893.8 2140.2,900.6 2142.8,900.6 2142.8,872.9 2145.4,872.9 2145.4,905.8 2148.0,905.8 2148.0,896.8 2150.6,896.8 2150.6,914.8 2153.2,914.8 2153.2,908.9 2155.8,908.9 2155.8,893.8 2158.4,893.8 2158.4,897.8 2161.0,897.8 2161.0,887.9 2163.6,887.9 2163.6,889.4 2166.2,889.4 2166.2,899.2 2168.8,899.2 2168.8,874.0 2171.4,874.0 2171.4,885.5 2174.0,885.5 2174.0,884.3 2176.6,884.3 2176.6,878.1 2179.2,878.1 2179.2,878.1 2181.8,878.1 2181.8,868.8 2184.4,868.8 2184.4,849.5 2187.0,849.5 2187.0,844.3 2189.0,844.3 2189.0,906.3 2187.0,906.3 2187.0,923.7 2184.4,923.7 2184.4,929.5 2181.8,929.5 2181.8,929.5 2179.2,929.5 2179.2,948.2 2176.6,948.2 2176.6,933.2 2174.0,933.2 2174.0,932.6 2171.4,932.6 2171.4,933.4 2168.8,933.4 2168.8,942.2 2166.2,942.2 2166.2,941.7 2163.6,941.7 2163.6,938.5 2161.0,938.5 2161.0,947.4 2158.4,947.4 2158.4,965.5 2155.8,965.5 2155.8,968.4 2153.2,968.4 2153.2,950.9 2150.6,950.9 2150.6,979.6 2148.0,979.6 2148.0,979.6 2145.4,979.6 2145.4,956.3 2142.8,956.3 2142.8,944.6 2140.2,944.6 2140.2,970.7 2137.6,970.7 2137.6,965.3 2135.0,965.3 2135.0,965.3 2132.4,965.3 2132.4,959.8 2129.8,959.8 2129.8,971.9 2127.2,971.9 2127.2,971.9 2124.6,971.9 2124.6,960.6 2122.0,960.6 2122.0,960.9 2119.4,960.9 2119.4,958.8 2116.8,958.8 2116.8,970.4 2114.2,970.4 2114.2,945.4 2111.6,945.4 2111.6,970.8 2109.0,970.8 2109.0,966.3 2106.4,966.3 2106.4,977.2 2103.8,977.2 2103.8,952.3 2101.2,952.3 2101.2,956.2 2098.6,956.2 2098.6,959.8 2096.0,959.8 2096.0,959.8 2093.4,959.8 2093.4,951.3 2090.8,951.3 2090.8,950.5 2088.2,950.5 2088.2,956.6 2085.6,956.6 2085.6,951.0 2083.0,951.0 2083.0,951.1 2080.4,951.1 2080.4,961.2 2077.8,961.2 2077.8,983.7 2075.2,983.7 2075.2,966.2 2072.6,966.2 2072.6,979.4 2070.0,979.4 2070.0,962.4 2067.4,962.4 2067.4,989.9 2064.8,989.9 2064.8,972.7 2062.2,972.7 2062.2,966.3 2059.6,966.3 2059.6,1006.3 2057.0,1006.3 2057.0,1006.3 2054.4,1006.3 2054.4,981.9 2051.8,981.9 2051.8,970.1 2049.2,970.1 2049.2,980.0 2046.6,980.0 2046.6,980.9 2044.0,980.9 2044.0,1012.5 2041.4,1012.5 2041.4,975.0 2038.8,975.0 2038.8,973.0 2036.2,973.0 2036.2,988.4 2033.6,988.4 2033.6,997.7 2031.0,997.7 2031.0,991.5 2028.4,991.5 2028.4,1013.6 2025.8,1013.6 2025.8,1013.6 2023.2,1013.6 2023.2,987.6 2020.6,987.6 2020.6,977.3 2018.0,977.3 2018.0,979.1 2015.4,979.1 2015.4,975.2 2012.8,975.2 2012.8,985.3 2010.2,985.3 2010.2,977.2 2007.6,977.2 2007.6,977.6 2005.0,977.6 2005.0,990.2 2002.4,990.2 2002.4,965.6 1999.8,965.6 1999.8,978.0 1997.2,978.0 1997.2,968.5 1994.6,968.5 1994.6,956.1 1992.0,956.1 1992.0,969.4 1989.4,969.4 1989.4,957.3 1986.8,957.3 1986.8,980.7 1984.2,980.7 1984.2,949.8 1981.6,949.8 1981.6,974.1 1979.0,974.1 1979.0,953.5 1976.4,953.5 1976.4,949.1 1973.8,949.1 1973.8,949.1 1971.2,949.1 1971.2,943.2 1968.6,943.2 1968.6,942.3 1966.0,942.3 1966.0,955.4 1963.4,955.4 1963.4,941.6 1960.8,941.6 1960.8,953.9 1958.2,953.9 1958.2,948.5 1955.6,948.5 1955.6,952.6 1953.0,952.6 1953.0,941.7 1950.4,941.7 1950.4,928.1 1947.8,928.1 1947.8,961.7 1945.2,961.7 1945.2,947.1 1942.6,947.1 1942.6,941.1 1940.0,941.1 1940.0,940.9 1937.4,940.9 1937.4,937.5 1934.8,937.5 1934.8,948.5 1932.2,948.5 1932.2,943.6 1929.6,943.6 1929.6,946.5 1927.0,946.5 1927.0,939.4 1924.4,939.4 1924.4,957.2 1921.8,957.2 1921.8,950.4 1919.2,950.4 1919.2,972.8 1916.6,972.8 1916.6,972.8 1914.0,972.8 1914.0,950.2 1911.4,950.2 1911.4,965.7 1908.8,965.7 1908.8,952.0 1906.2,952.0 1906.2,952.0 1903.6,952.0 1903.6,960.7 1901.0,960.7 1901.0,936.0 1898.4,936.0 1898.4,958.0 1895.8,958.0 1895.8,938.0 1893.2,938.0 1893.2,950.8 1890.6,950.8 1890.6,950.8 1888.0,950.8 1888.0,948.2 1885.4,948.2 1885.4,964.6 1882.8,964.6 1882.8,970.5 1880.2,970.5 1880.2,970.5 1877.6,970.5 1877.6,965.9 1875.0,965.9 1875.0,961.9 1872.4,961.9 1872.4,962.8 1869.8,962.8 1869.8,951.6 1867.2,951.6 1867.2,980.9 1864.6,980.9 1864.6,957.9 1862.0,957.9 1862.0,948.6 1859.4,948.6 1859.4,960.1 1856.8,960.1 1856.8,956.2 1854.2,956.2 1854.2,959.8 1851.6,959.8 1851.6,981.3 1849.0,981.3 1849.0,974.1 1846.4,974.1 1846.4,952.2 1843.8,952.2 1843.8,949.5 1841.2,949.5 1841.2,952.3 1838.6,952.3 1838.6,954.7 1836.0,954.7 1836.0,949.4 1833.4,949.4 1833.4,956.5 1830.8,956.5 1830.8,966.1 1828.2,966.1 1828.2,971.6 1825.6,971.6 1825.6,968.2 1823.0,968.2 1823.0,982.0 1820.4,982.0 1820.4,976.2 1817.8,976.2 1817.8,990.1 1815.2,990.1 1815.2,985.9 1812.6,985.9 1812.6,985.6 1810.0,985.6 1810.0,971.8 1807.4,971.8 1807.4,1005.9 1804.8,1005.9 1804.8,1005.9 1802.2,1005.9 1802.2,993.1 1799.6,993.1 1799.6,1000.8 1797.0,1000.8 1797.0,993.8 1794.4,993.8 1794.4,974.0 1791.8,974.0 1791.8,974.0 1789.2,974.0 1789.2,960.0 1786.6,960.0 1786.6,957.2 1784.0,957.2 1784.0,965.2 1781.4,965.2 1781.4,957.9 1778.8,957.9 1778.8,946.5 1776.2,946.5 1776.2,941.3 1773.6,941.3 1773.6,963.1 1771.0,963.1 1771.0,973.7 1768.4,973.7 1768.4,958.2 1765.8,958.2 1765.8,976.2 1763.2,976.2 1763.2,973.6 1760.6,973.6 1760.6,992.9 1758.0,992.9 1758.0,965.2 1755.4,965.2 1755.4,969.3 1752.8,969.3 1752.8,969.8 1750.2,969.8 1750.2,974.5 1747.6,974.5 1747.6,974.5 1745.0,974.5 1745.0,974.9 1742.4,974.9 1742.4,971.4 1739.8,971.4 1739.8,978.5 1737.2,978.5 1737.2,1002.3 1734.6,1002.3 1734.6,977.2 1732.0,977.2 1732.0,964.6 1729.4,964.6 1729.4,963.0 1726.8,963.0 1726.8,962.5 1724.2,962.5 1724.2,962.5 1721.6,962.5 1721.6,980.7 1719.0,980.7 1719.0,983.8 1716.4,983.8 1716.4,955.0 1713.8,955.0 1713.8,962.3 1711.2,962.3 1711.2,957.8 1708.6,957.8 1708.6,967.7 1706.0,967.7 1706.0,953.0 1703.4,953.0 1703.4,939.0 1700.8,939.0 1700.8,949.0 1698.2,949.0 1698.2,960.4 1695.6,960.4 1695.6,978.7 1693.0,978.7 1693.0,964.8 1690.4,964.8 1690.4,976.1 1687.8,976.1 1687.8,969.3 1685.2,969.3 1685.2,964.8 1682.6,964.8 1682.6,974.0 1680.0,974.0 1680.0,968.5 1677.4,968.5 1677.4,974.8 1674.8,974.8 1674.8,966.4 1672.2,966.4 1672.2,978.6 1669.6,978.6 1669.6,983.7 1667.0,983.7 1667.0,987.5 1664.4,987.5 1664.4,986.3 1661.8,986.3 1661.8,994.5 1659.2,994.5 1659.2,973.3 1656.6,973.3 1656.6,978.8 1654.0,978.8 1654.0,979.9 1651.4,979.9 1651.4,996.9 1648.8,996.9 1648.8,972.7 1646.2,972.7 1646.2,984.4 1643.6,984.4 1643.6,992.7 1641.0,992.7 1641.0,976.1 1638.4,976.1 1638.4,968.3 1635.8,968.3 1635.8,968.8 1633.2,968.8 1633.2,964.1 1630.6,964.1 1630.6,969.8 1628.0,969.8 1628.0,969.2 1625.4,969.2 1625.4,953.4 1622.8,953.4 1622.8,946.9 1620.2,946.9 1620.2,939.8 1617.6,939.8 1617.6,979.4 1615.0,979.4 1615.0,948.0 1612.4,948.0 1612.4,960.6 1609.8,960.6 1609.8,972.5 1607.2,972.5 1607.2,959.3 1604.6,959.3 1604.6,977.7 1602.0,977.7 1602.0,970.2 1599.4,970.2 1599.4,962.2 1596.8,962.2 1596.8,978.5 1594.2,978.5 1594.2,959.7 1591.6,959.7 1591.6,977.2 1589.0,977.2 1589.0,1003.5 1586.4,1003.5 1586.4,972.6 1583.8,972.6 1583.8,977.7 1581.2,977.7 1581.2,977.5 1578.6,977.5 1578.6,981.7 1576.0,981.7 1576.0,1002.6 1573.4,1002.6 1573.4,1002.6 1570.8,1002.6 1570.8,1017.6 1568.2,1017.6 1568.2,987.7 1565.6,987.7 1565.6,987.7 1563.0,987.7 1563.0,981.0 1560.4,981.0 1560.4,964.0 1557.8,964.0 1557.8,974.4 1555.2,974.4 1555.2,983.2 1552.6,983.2 1552.6,974.7 1550.0,974.7 1550.0,974.7 1547.4,974.7 1547.4,982.0 1544.8,982.0 1544.8,977.8 1542.2,977.8 1542.2,987.8 1539.6,987.8 1539.6,996.3 1537.0,996.3 1537.0,986.4 1534.4,986.4 1534.4,1016.5 1531.8,1016.5 1531.8,1000.3 1529.2,1000.3 1529.2,1025.8 1526.6,1025.8 1526.6,1010.7 1524.0,1010.7 1524.0,1011.8 1521.4,1011.8 1521.4,1007.8 1518.8,1007.8 1518.8,1010.2 1516.2,1010.2 1516.2,1010.0 1513.6,1010.0 1513.6,1029.9 1511.0,1029.9 1511.0,1047.1 1508.4,1047.1 1508.4,1010.6 1505.8,1010.6 1505.8,967.7 1503.2,967.7 1503.2,995.0 1500.6,995.0 1500.6,1017.2 1498.0,1017.2 1498.0,1017.2 1495.4,1017.2 1495.4,1004.3 1492.8,1004.3 1492.8,1004.3 1490.2,1004.3 1490.2,984.5 1487.6,984.5 1487.6,987.6 1485.0,987.6 1485.0,985.9 1482.4,985.9 1482.4,989.0 1479.8,989.0 1479.8,1011.7 1477.2,1011.7 1477.2,987.5 1474.6,987.5 1474.6,1010.0 1472.0,1010.0 1472.0,1016.1 1469.4,1016.1 1469.4,1013.1 1466.8,1013.1 1466.8,1005.2 1464.2,1005.2 1464.2,1028.4 1461.6,1028.4 1461.6,1017.3 1459.0,1017.3 1459.0,1048.0 1456.4,1048.0 1456.4,1015.2 1453.8,1015.2 1453.8,1027.3 1451.2,1027.3 1451.2,1002.8 1448.6,1002.8 1448.6,1004.6 1446.0,1004.6 1446.0,1004.6 1443.4,1004.6 1443.4,1012.1 1440.8,1012.1 1440.8,1002.8 1438.2,1002.8 1438.2,1001.8 1435.6,1001.8 1435.6,1018.8 1433.0,1018.8 1433.0,1006.1 1430.4,1006.1 1430.4,1013.5 1427.8,1013.5 1427.8,1013.8 1425.2,1013.8 1425.2,1061.7 1422.6,1061.7 1422.6,1020.3 1420.0,1020.3 1420.0,1020.3 1417.4,1020.3 1417.4,1039.1 1414.8,1039.1 1414.8,1017.9 1412.2,1017.9 1412.2,1042.0 1409.6,1042.0 1409.6,989.0 1407.0,989.0 1407.0,1026.3 1404.4,1026.3 1404.4,1005.5 1401.8,1005.5 1401.8,1003.2 1399.2,1003.2 1399.2,1003.2 1396.6,1003.2 1396.6,986.0 1394.0,986.0 1394.0,992.0 1391.4,992.0 1391.4,994.8 1388.8,994.8 1388.8,991.7 1386.2,991.7 1386.2,1000.7 1383.6,1000.7 1383.6,992.7 1381.0,992.7 1381.0,1016.6 1378.4,1016.6 1378.4,1037.0 1375.8,1037.0 1375.8,1001.9 1373.2,1001.9 1373.2,1022.0 1370.6,1022.0 1370.6,994.6 1368.0,994.6 1368.0,1034.0 1365.4,1034.0 1365.4,1044.9 1362.8,1044.9 1362.8,1044.9 1360.2,1044.9 1360.2,1040.0 1357.6,1040.0 1357.6,1024.2 1355.0,1024.2 1355.0,1032.1 1352.4,1032.1 1352.4,1014.2 1349.8,1014.2 1349.8,1009.0 1347.2,1009.0 1347.2,1015.0 1344.6,1015.0 1344.6,1016.5 1342.0,1016.5 1342.0,995.5 1339.4,995.5 1339.4,997.8 1336.8,997.8 1336.8,986.7 1334.2,986.7 1334.2,985.8 1331.6,985.8 1331.6,985.8 1329.0,985.8 1329.0,974.9 1326.4,974.9 1326.4,980.1 1323.8,980.1 1323.8,990.2 1321.2,990.2 1321.2,1011.0 1318.6,1011.0 1318.6,1010.7 1316.0,1010.7 1316.0,978.0 1313.4,978.0 1313.4,978.0 1310.8,978.0 1310.8,994.2 1308.2,994.2 1308.2,1021.6 1305.6,1021.6 1305.6,1002.5 1303.0,1002.5 1303.0,1001.7 1300.4,1001.7 1300.4,1025.1 1297.8,1025.1 1297.8,1027.9 1295.2,1027.9 1295.2,1012.3 1292.6,1012.3 1292.6,1010.6 1290.0,1010.6 1290.0,1007.4 1287.4,1007.4 1287.4,1007.5 1284.8,1007.5 1284.8,1007.5 1282.2,1007.5 1282.2,1015.2 1279.6,1015.2 1279.6,1021.9 1277.0,1021.9 1277.0,1023.1 1274.4,1023.1 1274.4,1027.0 1271.8,1027.0 1271.8,1027.0 1269.2,1027.0 1269.2,1009.9 1266.6,1009.9 1266.6,1030.7 1264.0,1030.7 1264.0,1019.6 1261.4,1019.6 1261.4,1032.1 1258.8,1032.1 1258.8,1058.2 1256.2,1058.2 1256.2,1058.2 1253.6,1058.2 1253.6,1034.9 1251.0,1034.9 1251.0,1073.8 1248.4,1073.8 1248.4,1047.2 1245.8,1047.2 1245.8,1066.6 1243.2,1066.6 1243.2,1036.2 1240.6,1036.2 1240.6,1039.3 1238.0,1039.3 1238.0,1039.2 1235.4,1039.2 1235.4,1024.0 1232.8,1024.0 1232.8,1024.0 1230.2,1024.0 1230.2,1017.0 1227.6,1017.0 1227.6,1022.4 1225.0,1022.4 1225.0,1026.8 1222.4,1026.8 1222.4,1006.0 1219.8,1006.0 1219.8,1000.0 1217.2,1000.0 1217.2,995.6 1214.6,995.6 1214.6,1012.0 1212.0,1012.0 1212.0,1021.8 1209.4,1021.8 1209.4,1004.1 1206.8,1004.1 1206.8,991.2 1204.2,991.2 1204.2,1011.6 1201.6,1011.6 1201.6,1011.6 1199.0,1011.6 1199.0,1011.6 1196.4,1011.6 1196.4,1011.6 1193.8,1011.6 1193.8,1011.2 1191.2,1011.2 1191.2,1004.3 1188.6,1004.3 1188.6,1015.4 1186.0,1015.4 1186.0,1019.2 1183.4,1019.2 1183.4,1009.4 1180.8,1009.4 1180.8,1024.4 1178.2,1024.4 1178.2,1017.7 1175.6,1017.7 1175.6,1012.5 1173.0,1012.5 1173.0,1024.9 1170.4,1024.9 1170.4,1027.9 1167.8,1027.9 1167.8,1005.9 1165.2,1005.9 1165.2,996.1 1162.6,996.1 1162.6,996.1 1160.0,996.1 1160.0,999.4 1157.4,999.4 1157.4,1032.0 1154.8,1032.0 1154.8,1034.0 1152.2,1034.0 1152.2,1042.2 1149.6,1042.2 1149.6,1023.0 1147.0,1023.0 1147.0,1040.1 1144.4,1040.1 1144.4,1015.2 1141.8,1015.2 1141.8,984.9 1139.2,984.9 1139.2,969.5 1136.6,969.5 1136.6,941.5 1134.0,941.5 1134.0,947.8 1131.4,947.8 1131.4,951.7 1128.8,951.7 1128.8,951.7 1126.2,951.7 1126.2,966.3 1123.6,966.3 1123.6,976.6 1121.0,976.6 1121.0,954.0 1118.4,954.0 1118.4,977.9 1115.8,977.9 1115.8,987.2 1113.2,987.2 1113.2,973.8 1110.6,973.8 1110.6,983.1 1108.0,983.1 1108.0,983.6 1105.4,983.6 1105.4,976.7 1102.8,976.7 1102.8,983.0 1100.2,983.0 1100.2,996.6 1097.6,996.6 1097.6,998.1 1095.0,998.1 1095.0,1014.7 1092.4,1014.7 1092.4,1002.9 1089.8,1002.9 1089.8,1003.1 1087.2,1003.1 1087.2,1010.5 1084.6,1010.5 1084.6,996.6 1082.0,996.6 1082.0,1025.2 1079.4,1025.2 1079.4,1013.8 1076.8,1013.8 1076.8,1038.3 1074.2,1038.3 1074.2,1038.3 1071.6,1038.3 1071.6,992.1 1069.0,992.1 1069.0,1002.7 1066.4,1002.7 1066.4,980.9 1063.8,980.9 1063.8,968.6 1061.2,968.6 1061.2,945.4 1058.6,945.4 1058.6,974.4 1056.0,974.4 1056.0,956.0 1053.4,956.0 1053.4,964.5 1050.8,964.5 1050.8,963.6 1048.2,963.6 1048.2,966.7 1045.6,966.7 1045.6,974.5 1043.0,974.5 1043.0,981.3 1040.4,981.3 1040.4,979.5 1037.8,979.5 1037.8,984.7 1035.2,984.7 1035.2,1007.0 1032.6,1007.0 1032.6,977.9 1030.0,977.9 1030.0,1007.4 1027.4,1007.4 1027.4,972.8 1024.8,972.8 1024.8,985.9 1022.2,985.9 1022.2,967.8 1019.6,967.8 1019.6,1004.8 1017.0,1004.8 1017.0,963.8 1014.4,963.8 1014.4,962.4 1011.8,962.4 1011.8,961.1 1009.2,961.1 1009.2,964.7 1006.6,964.7 1006.6,997.6 1004.0,997.6 1004.0,979.9 1001.4,979.9 1001.4,972.2 998.8,972.2 998.8,977.4 996.2,977.4 996.2,982.6 993.6,982.6 993.6,971.0 991.0,971.0 991.0,978.1 988.4,978.1 988.4,978.1 985.8,978.1 985.8,972.1 983.2,972.1 983.2,973.0 980.6,973.0 980.6,966.1 978.0,966.1 978.0,998.7 975.4,998.7 975.4,973.1 972.8,973.1 972.8,982.1 970.2,982.1 970.2,960.4 967.6,960.4 967.6,972.5 965.0,972.5 965.0,966.3 962.4,966.3 962.4,966.9 959.8,966.9 959.8,954.4 957.2,954.4 957.2,959.8 954.6,959.8 954.6,962.7 952.0,962.7 952.0,960.9 949.4,960.9 949.4,977.9 946.8,977.9 946.8,967.2 944.2,967.2 944.2,971.1 941.6,971.1 941.6,953.2 939.0,953.2 939.0,985.8 936.4,985.8 936.4,959.5 933.8,959.5 933.8,956.6 931.2,956.6 931.2,987.6 928.6,987.6 928.6,987.6 926.0,987.6 926.0,958.3 923.4,958.3 923.4,964.0 920.8,964.0 920.8,964.0 918.2,964.0 918.2,977.0 915.6,977.0 915.6,971.2 913.0,971.2 913.0,999.7 910.4,999.7 910.4,978.7 907.8,978.7 907.8,991.8 905.2,991.8 905.2,980.5 902.6,980.5 902.6,982.8 900.0,982.8 900.0,985.6 897.4,985.6 897.4,1001.1 894.8,1001.1 894.8,1001.1 892.2,1001.1 892.2,990.0 889.6,990.0 889.6,973.2 887.0,973.2 887.0,963.7 884.4,963.7 884.4,957.2 881.8,957.2 881.8,952.4 879.2,952.4 879.2,965.6 876.6,965.6 876.6,947.9 874.0,947.9 874.0,967.6 871.4,967.6 871.4,974.1 868.8,974.1 868.8,996.7 866.2,996.7 866.2,996.7 863.6,996.7 863.6,984.0 861.0,984.0 861.0,974.4 858.4,974.4 858.4,1012.1 855.8,1012.1 855.8,998.5 853.2,998.5 853.2,993.7 850.6,993.7 850.6,1005.5 848.0,1005.5 848.0,1015.4 845.4,1015.4 845.4,1018.8 842.8,1018.8 842.8,979.5 840.2,979.5 840.2,1002.7 837.6,1002.7 837.6,951.2 835.0,951.2 835.0,948.1 832.4,948.1 832.4,946.1 829.8,946.1 829.8,935.9 827.2,935.9 827.2,940.6 824.6,940.6 824.6,957.1 822.0,957.1 822.0,951.0 819.4,951.0 819.4,960.3 816.8,960.3 816.8,988.0 814.2,988.0 814.2,951.3 811.6,951.3 811.6,955.3 809.0,955.3 809.0,955.3 806.4,955.3 806.4,952.8 803.8,952.8 803.8,974.5 801.2,974.5 801.2,957.3 798.6,957.3 798.6,973.2 796.0,973.2 796.0,961.6 793.4,961.6 793.4,978.0 790.8,978.0 790.8,964.3 788.2,964.3 788.2,993.9 785.6,993.9 785.6,981.1 783.0,981.1 783.0,1003.3 780.4,1003.3 780.4,964.0 777.8,964.0 777.8,958.2 775.2,958.2 775.2,967.3 772.6,967.3 772.6,957.7 770.0,957.7 770.0,970.0 767.4,970.0 767.4,967.2 764.8,967.2 764.8,987.7 762.2,987.7 762.2,978.7 759.6,978.7 759.6,982.6 757.0,982.6 757.0,991.3 754.4,991.3 754.4,991.3 751.8,991.3 751.8,1028.3 749.2,1028.3 749.2,1019.1 746.6,1019.1 746.6,1001.3 744.0,1001.3 744.0,1015.4 741.4,1015.4 741.4,1015.4 738.8,1015.4 738.8,978.1 736.2,978.1 736.2,992.8 733.6,992.8 733.6,995.9 731.0,995.9 731.0,1007.1 728.4,1007.1 728.4,1011.2 725.8,1011.2 725.8,996.0 723.2,996.0 723.2,1003.8 720.6,1003.8 720.6,992.8 718.0,992.8 718.0,980.8 715.4,980.8 715.4,989.1 712.8,989.1 712.8,994.5 710.2,994.5 710.2,1005.9 707.6,1005.9 707.6,1021.7 705.0,1021.7 705.0,1006.0 702.4,1006.0 702.4,1011.6 699.8,1011.6 699.8,1011.6 697.2,1011.6 697.2,981.5 694.6,981.5 694.6,973.6 692.0,973.6 692.0,982.1 689.4,982.1 689.4,971.4 686.8,971.4 686.8,967.3 684.2,967.3 684.2,976.0 681.6,976.0 681.6,964.9 679.0,964.9 679.0,972.9 676.4,972.9 676.4,996.7 673.8,996.7 673.8,1012.2 671.2,1012.2 671.2,1012.2 668.6,1012.2 668.6,1047.5 666.0,1047.5 666.0,1016.0 663.4,1016.0 663.4,1009.7 660.8,1009.7 660.8,1018.9 658.2,1018.9 658.2,985.4 655.6,985.4 655.6,1007.7 653.0,1007.7 653.0,1007.6 650.4,1007.6 650.4,986.0 647.8,986.0 647.8,973.7 645.2,973.7 645.2,990.1 642.6,990.1 642.6,991.4 640.0,991.4 640.0,995.5 637.4,995.5 637.4,1004.8 634.8,1004.8 634.8,1004.8 632.2,1004.8 632.2,1000.3 629.6,1000.3 629.6,989.0 627.0,989.0 627.0,989.0 624.4,989.0 624.4,997.2 621.8,997.2 621.8,997.2 619.2,997.2 619.2,982.5 616.6,982.5 616.6,1001.7 614.0,1001.7 614.0,990.7 611.4,990.7 611.4,993.0 608.8,993.0 608.8,1008.3 606.2,1008.3 606.2,1040.3 603.6,1040.3 603.6,1033.2 601.0,1033.2 601.0,1033.2 598.4,1033.2 598.4,1000.6 595.8,1000.6 595.8,1001.2 593.2,1001.2 593.2,978.9 590.6,978.9 590.6,971.8 588.0,971.8 588.0,1008.3 585.4,1008.3 585.4,1011.3 582.8,1011.3 582.8,997.2 580.2,997.2 580.2,1015.0 577.6,1015.0 577.6,1004.3 575.0,1004.3 575.0,989.0 572.4,989.0 572.4,1001.5 569.8,1001.5 569.8,983.5 567.2,983.5 567.2,981.4 564.6,981.4 564.6,985.8 562.0,985.8 562.0,1001.2 559.4,1001.2 559.4,993.3 556.8,993.3 556.8,1005.4 554.2,1005.4 554.2,1004.2 551.6,1004.2 551.6,1020.4 549.0,1020.4 549.0,1016.2 546.4,1016.2 546.4,1016.2 543.8,1016.2 543.8,980.4 541.2,980.4 541.2,984.3 538.6,984.3 538.6,988.3 536.0,988.3 536.0,951.7 533.4,951.7 533.4,941.1 530.8,941.1 530.8,964.5 528.2,964.5 528.2,969.7 525.6,969.7 525.6,984.1 523.0,984.1 523.0,981.4 520.4,981.4 520.4,981.9 517.8,981.9 517.8,975.7 515.2,975.7 515.2,1002.5 512.6,1002.5 512.6,986.5 510.0,986.5 510.0,986.6 507.4,986.6 507.4,984.7 504.8,984.7 504.8,992.5 502.2,992.5 502.2,1009.5 499.6,1009.5 499.6,997.8 497.0,997.8 497.0,1005.4 494.4,1005.4 494.4,1013.2 491.8,1013.2 491.8,1029.2 489.2,1029.2 489.2,1021.5 486.6,1021.5 486.6,1063.1 484.0,1063.1 484.0,1063.1 481.4,1063.1 481.4,1084.8 478.8,1084.8 478.8,1062.9 476.2,1062.9 476.2,1041.6 473.6,1041.6 473.6,1050.3 471.0,1050.3 471.0,1073.1 468.4,1073.1 468.4,1059.0 465.8,1059.0 465.8,1039.2 463.2,1039.2 463.2,1057.6 460.6,1057.6 460.6,1038.3 458.0,1038.3 458.0,1020.7 455.4,1020.7 455.4,1029.5 452.8,1029.5 452.8,1008.2 450.2,1008.2 450.2,1008.2 447.6,1008.2 447.6,1016.3 445.0,1016.3 445.0,1014.4 442.4,1014.4 442.4,1026.7 439.8,1026.7 439.8,1046.9 437.2,1046.9 437.2,1023.8 434.6,1023.8 434.6,1030.8 432.0,1030.8 432.0,1022.5 429.4,1022.5 429.4,1036.9 426.8,1036.9 426.8,1045.3 424.2,1045.3 424.2,1053.5 421.6,1053.5 421.6,1026.6 419.0,1026.6 419.0,1045.9 416.4,1045.9 416.4,1068.8 413.8,1068.8 413.8,1086.7 411.2,1086.7 411.2,1105.5 408.6,1105.5 408.6,1097.9 406.0,1097.9 406.0,1119.3 403.4,1119.3 403.4,1119.3 400.8,1119.3 400.8,1081.1 398.2,1081.1 398.2,1074.0 395.6,1074.0 395.6,1094.0 393.0,1094.0 393.0,1062.5 390.4,1062.5 390.4,1094.1 387.8,1094.1 387.8,1141.5 385.2,1141.5 385.2,1141.5 382.6,1141.5 382.6,1110.0 380.0,1110.0 380.0,1161.5 377.4,1161.5 377.4,1134.1 374.8,1134.1 374.8,1177.5 372.2,1177.5 372.2,1170.7 369.6,1170.7 369.6,1147.6 367.0,1147.6 367.0,1175.2 364.4,1175.2 364.4,1204.6 361.8,1204.6 361.8,1173.8 359.2,1173.8 359.2,1162.0 356.6,1162.0 356.6,1149.6 354.0,1149.6 354.0,1138.4 351.4,1138.4 351.4,1142.3 348.8,1142.3 348.8,1134.6 346.2,1134.6 346.2,1146.5 343.6,1146.5 343.6,1146.4 341.0,1146.4 341.0,1133.0 338.4,1133.0 338.4,1144.6 335.8,1144.6 335.8,1140.3 333.2,1140.3 333.2,1154.5 330.6,1154.5 330.6,1154.5 328.0,1154.5 328.0,1171.3 325.4,1171.3 325.4,1189.9 322.8,1189.9 322.8,1189.9 320.2,1189.9 320.2,1144.5 317.6,1144.5 317.6,1139.4 315.0,1139.4 315.0,1182.5 312.4,1182.5 312.4,1194.6 309.8,1194.6 309.8,1204.8 307.2,1204.8 307.2,1234.9 304.6,1234.9 304.6,1260.6 302.0,1260.6 302.0,1260.3 299.4,1260.3 299.4,1249.5 296.8,1249.5 296.8,1251.7 294.2,1251.7 294.2,1282.2 291.6,1282.2 291.6,1282.2 289.0,1282.2 289.0,1261.8 286.4,1261.8 286.4,1270.6 283.8,1270.6 283.8,1315.6 281.2,1315.6 281.2,1315.6 278.6,1315.6 278.6,1320.5 276.0,1320.5 276.0,1272.3 273.4,1272.3 273.4,1265.5 270.8,1265.5 270.8,1263.1 268.2,1263.1 268.2,1299.6 265.6,1299.6 265.6,1463.1 263.0,1463.1Z"/></g>
<g clip-path="url(#c3)"><path fill="#0000ff" d="M263.0,1989.3 265.6,1989.3 265.6,1903.4 268.2,1903.4 268.2,1843.6 270.8,1843.6 270.8,1783.3 273.4,1783.3 273.4,1783.3 276.0,1783.3 276.0,1816.5 278.6,1816.5 278.6,1797.9 281.2,1797.9 281.2,1797.9 283.8,1797.9 283.8,1806.5 286.4,1806.5 286.4,1818.4 289.0,1818.4 289.0,1783.3 291.6,1783.3 291.6,1814.0 294.2,1814.0 294.2,1810.7 296.8,1810.7 296.8,1798.2 299.4,1798.2 299.4,1775.5 302.0,1775.5 302.0,1785.4 304.6,1785.4 304.6,1796.6 307.2,1796.6 307.2,1815.0 309.8,1815.0 309.8,1834.6 312.4,1834.6 312.4,1823.5 315.0,1823.5 315.0,1796.9 317.6,1796.9 317.6,1780.8 320.2,1780.8 320.2,1718.7 322.8,1718.7 322.8,1718.7 325.4,1718.7 325.4,1741.4 328.0,1741.4 328.0,1740.8 330.6,1740.8 330.6,1743.0 333.2,1743.0 333.2,1740.4 335.8,1740.4 335.8,1751.4 338.4,1751.4 338.4,1776.2 341.0,1776.2 341.0,1774.7 343.6,1774.7 343.6,1788.1 346.2,1788.1 346.2,1784.4 348.8,1784.4 348.8,1804.9 351.4,1804.9 351.4,1791.4 354.0,1791.4 354.0,1737.2 356.6,1737.2 356.6,1671.5 359.2,1671.5 359.2,1675.0 361.8,1675.0 361.8,1654.6 364.4,1654.6 364.4,1598.7 367.0,1598.7 367.0,1633.1 369.6,1633.1 369.6,1633.1 372.2,1633.1 372.2,1653.8 374.8,1653.8 374.8,1638.7 377.4,1638.7 377.4,1648.5 380.0,1648.5 380.0,1654.7 382.6,1654.7 382.6,1634.8 385.2,1634.8 385.2,1618.9 387.8,1618.9 387.8,1618.9 390.4,1618.9 390.4,1643.6 393.0,1643.6 393.0,1644.2 395.6,1644.2 395.6,1649.8 398.2,1649.8 398.2,1650.1 400.8,1650.1 400.8,1651.3 403.4,1651.3 403.4,1619.9 406.0,1619.9 406.0,1602.3 408.6,1602.3 408.6,1550.8 411.2,1550.8 411.2,1610.3 413.8,1610.3 413.8,1610.3 416.4,1610.3 416.4,1571.8 419.0,1571.8 419.0,1559.9 421.6,1559.9 421.6,1537.6 424.2,1537.6 424.2,1556.1 426.8,1556.1 426.8,1515.9 429.4,1515.9 429.4,1543.8 432.0,1543.8 432.0,1543.8 434.6,1543.8 434.6,1556.9 437.2,1556.9 437.2,1589.3 439.8,1589.3 439.8,1585.4 442.4,1585.4 442.4,1573.5 445.0,1573.5 445.0,1599.9 447.6,1599.9 447.6,1599.0 450.2,1599.0 450.2,1590.9 452.8,1590.9 452.8,1604.3 455.4,1604.3 455.4,1589.7 458.0,1589.7 458.0,1557.5 460.6,1557.5 460.6,1555.9 463.2,1555.9 463.2,1582.8 465.8,1582.8 465.8,1552.5 468.4,1552.5 468.4,1567.1 471.0,1567.1 471.0,1598.2 473.6,1598.2 473.6,1585.7 476.2,1585.7 476.2,1585.7 478.8,1585.7 478.8,1578.7 481.4,1578.7 481.4,1567.3 484.0,1567.3 484.0,1588.0 486.6,1588.0 486.6,1573.0 489.2,1573.0 489.2,1581.4 491.8,1581.4 491.8,1581.4 494.4,1581.4 494.4,1589.5 497.0,1589.5 497.0,1612.2 499.6,1612.2 499.6,1602.8 502.2,1602.8 502.2,1594.3 504.8,1594.3 504.8,1594.3 507.4,1594.3 507.4,1563.6 510.0,1563.6 510.0,1569.5 512.6,1569.5 512.6,1573.3 515.2,1573.3 515.2,1557.1 517.8,1557.1 517.8,1575.2 520.4,1575.2 520.4,1580.5 523.0,1580.5 523.0,1570.3 525.6,1570.3 525.6,1575.0 528.2,1575.0 528.2,1572.0 530.8,1572.0 530.8,1572.0 533.4,1572.0 533.4,1594.7 536.0,1594.7 536.0,1600.8 538.6,1600.8 538.6,1602.1 541.2,1602.1 541.2,1577.6 543.8,1577.6 543.8,1575.1 546.4,1575.1 546.4,1592.9 549.0,1592.9 549.0,1570.4 551.6,1570.4 551.6,1579.1 554.2,1579.1 554.2,1548.6 556.8,1548.6 556.8,1586.8 559.4,1586.8 559.4,1558.5 562.0,1558.5 562.0,1562.5 564.6,1562.5 564.6,1564.3 567.2,1564.3 567.2,1569.1 569.8,1569.1 569.8,1571.4 572.4,1571.4 572.4,1568.1 575.0,1568.1 575.0,1590.3 577.6,1590.3 577.6,1571.1 580.2,1571.1 580.2,1571.1 582.8,1571.1 582.8,1572.1 585.4,1572.1 585.4,1579.8 588.0,1579.8 588.0,1560.3 590.6,1560.3 590.6,1537.3 593.2,1537.3 593.2,1570.5 595.8,1570.5 595.8,1566.4 598.4,1566.4 598.4,1589.0 601.0,1589.0 601.0,1594.7 603.6,1594.7 603.6,1616.2 606.2,1616.2 606.2,1661.2 608.8,1661.2 608.8,1678.9 611.4,1678.9 611.4,1668.1 614.0,1668.1 614.0,1644.4 616.6,1644.4 616.6,1624.3 619.2,1624.3 619.2,1604.1 621.8,1604.1 621.8,1605.1 624.4,1605.1 624.4,1609.5 627.0,1609.5 627.0,1633.1 629.6,1633.1 629.6,1619.0 632.2,1619.0 632.2,1613.8 634.8,1613.8 634.8,1614.9 637.4,1614.9 637.4,1585.6 640.0,1585.6 640.0,1569.1 642.6,1569.1 642.6,1589.9 645.2,1589.9 645.2,1615.1 647.8,1615.1 647.8,1625.9 650.4,1625.9 650.4,1601.3 653.0,1601.3 653.0,1603.1 655.6,1603.1 655.6,1597.5 658.2,1597.5 658.2,1631.8 660.8,1631.8 660.8,1605.0 663.4,1605.0 663.4,1609.6 666.0,1609.6 666.0,1638.1 668.6,1638.1 668.6,1611.5 671.2,1611.5 671.2,1626.1 673.8,1626.1 673.8,1642.2 676.4,1642.2 676.4,1631.8 679.0,1631.8 679.0,1633.0 681.6,1633.0 681.6,1633.9 684.2,1633.9 684.2,1633.5 686.8,1633.5 686.8,1627.7 689.4,1627.7 689.4,1616.6 692.0,1616.6 692.0,1598.9 694.6,1598.9 694.6,1650.6 697.2,1650.6 697.2,1634.5 699.8,1634.5 699.8,1652.7 702.4,1652.7 702.4,1633.5 705.0,1633.5 705.0,1643.9 707.6,1643.9 707.6,1641.8 710.2,1641.8 710.2,1617.5 712.8,1617.5 712.8,1616.6 715.4,1616.6 715.4,1616.6 718.0,1616.6 718.0,1638.2 720.6,1638.2 720.6,1624.8 723.2,1624.8 723.2,1626.0 725.8,1626.0 725.8,1626.0 728.4,1626.0 728.4,1623.9 731.0,1623.9 731.0,1650.4 733.6,1650.4 733.6,1620.2 736.2,1620.2 736.2,1632.7 738.8,1632.7 738.8,1630.6 741.4,1630.6 741.4,1605.3 744.0,1605.3 744.0,1618.3 746.6,1618.3 746.6,1577.2 749.2,1577.2 749.2,1607.5 751.8,1607.5 751.8,1605.7 754.4,1605.7 754.4,1601.6 757.0,1601.6 757.0,1613.9 759.6,1613.9 759.6,1610.0 762.2,1610.0 762.2,1620.6 764.8,1620.6 764.8,1615.9 767.4,1615.9 767.4,1606.4 770.0,1606.4 770.0,1608.3 772.6,1608.3 772.6,1597.9 775.2,1597.9 775.2,1588.2 777.8,1588.2 777.8,1570.2 780.4,1570.2 780.4,1570.2 783.0,1570.2 783.0,1564.4 785.6,1564.4 785.6,1583.8 788.2,1583.8 788.2,1569.3 790.8,1569.3 790.8,1575.5 793.4,1575.5 793.4,1554.4 796.0,1554.4 796.0,1554.4 798.6,1554.4 798.6,1595.3 801.2,1595.3 801.2,1583.2 803.8,1583.2 803.8,1587.1 806.4,1587.1 806.4,1559.4 809.0,1559.4 809.0,1559.4 811.6,1559.4 811.6,1565.8 814.2,1565.8 814.2,1594.7 816.8,1594.7 816.8,1585.0 819.4,1585.0 819.4,1582.9 822.0,1582.9 822.0,1599.0 824.6,1599.0 824.6,1606.7 827.2,1606.7 827.2,1616.3 829.8,1616.3 829.8,1607.3 832.4,1607.3 832.4,1615.2 835.0,1615.2 835.0,1599.2 837.6,1599.2 837.6,1592.2 840.2,1592.2 840.2,1592.2 842.8,1592.2 842.8,1636.4 845.4,1636.4 845.4,1622.0 848.0,1622.0 848.0,1609.3 850.6,1609.3 850.6,1613.3 853.2,1613.3 853.2,1615.6 855.8,1615.6 855.8,1607.5 858.4,1607.5 858.4,1613.7 861.0,1613.7 861.0,1581.4 863.6,1581.4 863.6,1604.2 866.2,1604.2 866.2,1577.6 868.8,1577.6 868.8,1575.5 871.4,1575.5 871.4,1566.7 874.0,1566.7 874.0,1542.2 876.6,1542.2 876.6,1569.4 879.2,1569.4 879.2,1540.6 881.8,1540.6 881.8,1540.6 884.4,1540.6 884.4,1522.9 887.0,1522.9 887.0,1548.9 889.6,1548.9 889.6,1550.7 892.2,1550.7 892.2,1559.5 894.8,1559.5 894.8,1545.5 897.4,1545.5 897.4,1526.7 900.0,1526.7 900.0,1539.0 902.6,1539.0 902.6,1556.4 905.2,1556.4 905.2,1545.9 907.8,1545.9 907.8,1552.7 910.4,1552.7 910.4,1543.3 913.0,1543.3 913.0,1543.3 915.6,1543.3 915.6,1567.0 918.2,1567.0 918.2,1567.0 920.8,1567.0 920.8,1574.3 923.4,1574.3 923.4,1570.6 926.0,1570.6 926.0,1548.1 928.6,1548.1 928.6,1546.2 931.2,1546.2 931.2,1585.7 933.8,1585.7 933.8,1566.9 936.4,1566.9 936.4,1559.1 939.0,1559.1 939.0,1550.4 941.6,1550.4 941.6,1538.1 944.2,1538.1 944.2,1554.7 946.8,1554.7 946.8,1562.9 949.4,1562.9 949.4,1566.9 952.0,1566.9 952.0,1572.3 954.6,1572.3 954.6,1558.5 957.2,1558.5 957.2,1567.1 959.8,1567.1 959.8,1554.3 962.4,1554.3 962.4,1580.8 965.0,1580.8 965.0,1565.7 967.6,1565.7 967.6,1589.1 970.2,1589.1 970.2,1587.7 972.8,1587.7 972.8,1569.6 975.4,1569.6 975.4,1569.3 978.0,1569.3 978.0,1570.2 980.6,1570.2 980.6,1578.6 983.2,1578.6 983.2,1578.6 985.8,1578.6 985.8,1543.7 988.4,1543.7 988.4,1540.0 991.0,1540.0 991.0,1568.7 993.6,1568.7 993.6,1564.4 996.2,1564.4 996.2,1592.1 998.8,1592.1 998.8,1592.1 1001.4,1592.1 1001.4,1566.3 1004.0,1566.3 1004.0,1586.8 1006.6,1586.8 1006.6,1591.1 1009.2,1591.1 1009.2,1595.9 1011.8,1595.9 1011.8,1593.7 1014.4,1593.7 1014.4,1564.0 1017.0,1564.0 1017.0,1591.3 1019.6,1591.3 1019.6,1576.1 1022.2,1576.1 1022.2,1562.8 1024.8,1562.8 1024.8,1562.8 1027.4,1562.8 1027.4,1584.6 1030.0,1584.6 1030.0,1569.5 1032.6,1569.5 1032.6,1569.5 1035.2,1569.5 1035.2,1587.1 1037.8,1587.1 1037.8,1576.4 1040.4,1576.4 1040.4,1582.6 1043.0,1582.6 1043.0,1579.8 1045.6,1579.8 1045.6,1581.5 1048.2,1581.5 1048.2,1546.7 1050.8,1546.7 1050.8,1564.8 1053.4,1564.8 1053.4,1568.9 1056.0,1568.9 1056.0,1567.6 1058.6,1567.6 1058.6,1571.1 1061.2,1571.1 1061.2,1572.3 1063.8,1572.3 1063.8,1576.2 1066.4,1576.2 1066.4,1576.2 1069.0,1576.2 1069.0,1589.8 1071.6,1589.8 1071.6,1607.8 1074.2,1607.8 1074.2,1607.8 1076.8,1607.8 1076.8,1602.9 1079.4,1602.9 1079.4,1602.9 1082.0,1602.9 1082.0,1603.4 1084.6,1603.4 1084.6,1595.6 1087.2,1595.6 1087.2,1610.3 1089.8,1610.3 1089.8,1615.2 1092.4,1615.2 1092.4,1617.1 1095.0,1617.1 1095.0,1620.3 1097.6,1620.3 1097.6,1611.3 1100.2,1611.3 1100.2,1608.1 1102.8,1608.1 1102.8,1615.5 1105.4,1615.5 1105.4,1592.8 1108.0,1592.8 1108.0,1617.0 1110.6,1617.0 1110.6,1588.7 1113.2,1588.7 1113.2,1588.7 1115.8,1588.7 1115.8,1615.7 1118.4,1615.7 1118.4,1604.4 1121.0,1604.4 1121.0,1606.0 1123.6,1606.0 1123.6,1616.7 1126.2,1616.7 1126.2,1605.3 1128.8,1605.3 1128.8,1600.1 1131.4,1600.1 1131.4,1610.5 1134.0,1610.5 1134.0,1606.7 1136.6,1606.7 1136.6,1605.4 1139.2,1605.4 1139.2,1608.4 1141.8,1608.4 1141.8,1607.6 1144.4,1607.6 1144.4,1578.4 1147.0,1578.4 1147.0,1599.0 1149.6,1599.0 1149.6,1568.9 1152.2,1568.9 1152.2,1568.9 1154.8,1568.9 1154.8,1589.1 1157.4,1589.1 1157.4,1575.0 1160.0,1575.0 1160.0,1587.5 1162.6,1587.5 1162.6,1561.4 1165.2,1561.4 1165.2,1548.9 1167.8,1548.9 1167.8,1559.9 1170.4,1559.9 1170.4,1559.3 1173.0,1559.3 1173.0,1526.9 1175.6,1526.9 1175.6,1534.4 1178.2,1534.4 1178.2,1534.9 1180.8,1534.9 1180.8,1512.2 1183.4,1512.2 1183.4,1533.0 1186.0,1533.0 1186.0,1535.9 1188.6,1535.9 1188.6,1528.2 1191.2,1528.2 1191.2,1526.8 1193.8,1526.8 1193.8,1531.3 1196.4,1531.3 1196.4,1520.7 1199.0,1520.7 1199.0,1508.7 1201.6,1508.7 1201.6,1513.7 1204.2,1513.7 1204.2,1508.5 1206.8,1508.5 1206.8,1508.7 1209.4,1508.7 1209.4,1505.6 1212.0,1505.6 1212.0,1506.8 1214.6,1506.8 1214.6,1510.2 1217.2,1510.2 1217.2,1511.3 1219.8,1511.3 1219.8,1513.7 1222.4,1513.7 1222.4,1527.4 1225.0,1527.4 1225.0,1532.1 1227.6,1532.1 1227.6,1555.3 1230.2,1555.3 1230.2,1537.2 1232.8,1537.2 1232.8,1540.9 1235.4,1540.9 1235.4,1547.3 1238.0,1547.3 1238.0,1554.9 1240.6,1554.9 1240.6,1542.7 1243.2,1542.7 1243.2,1564.9 1245.8,1564.9 1245.8,1576.2 1248.4,1576.2 1248.4,1579.3 1251.0,1579.3 1251.0,1599.0 1253.6,1599.0 1253.6,1577.0 1256.2,1577.0 1256.2,1570.7 1258.8,1570.7 1258.8,1560.7 1261.4,1560.7 1261.4,1566.3 1264.0,1566.3 1264.0,1563.8 1266.6,1563.8 1266.6,1552.2 1269.2,1552.2 1269.2,1552.8 1271.8,1552.8 1271.8,1552.8 1274.4,1552.8 1274.4,1525.0 1277.0,1525.0 1277.0,1525.0 1279.6,1525.0 1279.6,1542.2 1282.2,1542.2 1282.2,1540.8 1284.8,1540.8 1284.8,1532.6 1287.4,1532.6 1287.4,1544.9 1290.0,1544.9 1290.0,1541.4 1292.6,1541.4 1292.6,1541.4 1295.2,1541.4 1295.2,1551.7 1297.8,1551.7 1297.8,1542.3 1300.4,1542.3 1300.4,1548.3 1303.0,1548.3 1303.0,1529.3 1305.6,1529.3 1305.6,1546.9 1308.2,1546.9 1308.2,1539.6 1310.8,1539.6 1310.8,1540.5 1313.4,1540.5 1313.4,1543.3 1316.0,1543.3 1316.0,1539.7 1318.6,1539.7 1318.6,1539.9 1321.2,1539.9 1321.2,1524.5 1323.8,1524.5 1323.8,1528.9 1326.4,1528.9 1326.4,1529.8 1329.0,1529.8 1329.0,1524.2 1331.6,1524.2 1331.6,1524.2 1334.2,1524.2 1334.2,1513.5 1336.8,1513.5 1336.8,1527.9 1339.4,1527.9 1339.4,1538.1 1342.0,1538.1 1342.0,1538.1 1344.6,1538.1 1344.6,1535.4 1347.2,1535.4 1347.2,1542.8 1349.8,1542.8 1349.8,1543.8 1352.4,1543.8 1352.4,1536.2 1355.0,1536.2 1355.0,1520.9 1357.6,1520.9 1357.6,1531.2 1360.2,1531.2 1360.2,1504.1 1362.8,1504.1 1362.8,1514.1 1365.4,1514.1 1365.4,1528.4 1368.0,1528.4 1368.0,1514.2 1370.6,1514.2 1370.6,1511.1 1373.2,1511.1 1373.2,1526.9 1375.8,1526.9 1375.8,1526.7 1378.4,1526.7 1378.4,1514.9 1381.0,1514.9 1381.0,1519.3 1383.6,1519.3 1383.6,1503.8 1386.2,1503.8 1386.2,1503.8 1388.8,1503.8 1388.8,1523.5 1391.4,1523.5 1391.4,1523.7 1394.0,1523.7 1394.0,1512.4 1396.6,1512.4 1396.6,1510.6 1399.2,1510.6 1399.2,1510.6 1401.8,1510.6 1401.8,1506.4 1404.4,1506.4 1404.4,1500.1 1407.0,1500.1 1407.0,1499.3 1409.6,1499.3 1409.6,1506.0 1412.2,1506.0 1412.2,1490.6 1414.8,1490.6 1414.8,1485.0 1417.4,1485.0 1417.4,1500.2 1420.0,1500.2 1420.0,1492.8 1422.6,1492.8 1422.6,1481.0 1425.2,1481.0 1425.2,1509.3 1427.8,1509.3 1427.8,1500.4 1430.4,1500.4 1430.4,1496.4 1433.0,1496.4 1433.0,1487.5 1435.6,1487.5 1435.6,1500.3 1438.2,1500.3 1438.2,1497.6 1440.8,1497.6 1440.8,1497.6 1443.4,1497.6 1443.4,1509.0 1446.0,1509.0 1446.0,1498.0 1448.6,1498.0 1448.6,1470.0 1451.2,1470.0 1451.2,1499.7 1453.8,1499.7 1453.8,1491.8 1456.4,1491.8 1456.4,1498.6 1459.0,1498.6 1459.0,1491.7 1461.6,1491.7 1461.6,1503.1 1464.2,1503.1 1464.2,1507.8 1466.8,1507.8 1466.8,1490.2 1469.4,1490.2 1469.4,1511.9 1472.0,1511.9 1472.0,1497.1 1474.6,1497.1 1474.6,1518.7 1477.2,1518.7 1477.2,1510.8 1479.8,1510.8 1479.8,1510.8 1482.4,1510.8 1482.4,1525.0 1485.0,1525.0 1485.0,1537.1 1487.6,1537.1 1487.6,1524.8 1490.2,1524.8 1490.2,1524.8 1492.8,1524.8 1492.8,1523.5 1495.4,1523.5 1495.4,1538.9 1498.0,1538.9 1498.0,1539.0 1500.6,1539.0 1500.6,1530.3 1503.2,1530.3 1503.2,1531.2 1505.8,1531.2 1505.8,1503.4 1508.4,1503.4 1508.4,1503.4 1511.0,1503.4 1511.0,1500.3 1513.6,1500.3 1513.6,1501.6 1516.2,1501.6 1516.2,1510.7 1518.8,1510.7 1518.8,1521.3 1521.4,1521.3 1521.4,1504.6 1524.0,1504.6 1524.0,1491.9 1526.6,1491.9 1526.6,1513.7 1529.2,1513.7 1529.2,1513.9 1531.8,1513.9 1531.8,1547.1 1534.4,1547.1 1534.4,1537.9 1537.0,1537.9 1537.0,1521.8 1539.6,1521.8 1539.6,1527.3 1542.2,1527.3 1542.2,1522.2 1544.8,1522.2 1544.8,1533.1 1547.4,1533.1 1547.4,1521.2 1550.0,1521.2 1550.0,1542.4 1552.6,1542.4 1552.6,1535.9 1555.2,1535.9 1555.2,1535.1 1557.8,1535.1 1557.8,1508.0 1560.4,1508.0 1560.4,1522.8 1563.0,1522.8 1563.0,1534.4 1565.6,1534.4 1565.6,1532.4 1568.2,1532.4 1568.2,1519.4 1570.8,1519.4 1570.8,1523.9 1573.4,1523.9 1573.4,1522.7 1576.0,1522.7 1576.0,1513.2 1578.6,1513.2 1578.6,1508.6 1581.2,1508.6 1581.2,1497.4 1583.8,1497.4 1583.8,1501.9 1586.4,1501.9 1586.4,1499.1 1589.0,1499.1 1589.0,1506.1 1591.6,1506.1 1591.6,1485.9 1594.2,1485.9 1594.2,1493.0 1596.8,1493.0 1596.8,1501.2 1599.4,1501.2 1599.4,1504.2 1602.0,1504.2 1602.0,1504.1 1604.6,1504.1 1604.6,1508.5 1607.2,1508.5 1607.2,1514.4 1609.8,1514.4 1609.8,1531.9 1612.4,1531.9 1612.4,1536.5 1615.0,1536.5 1615.0,1505.9 1617.6,1505.9 1617.6,1528.1 1620.2,1528.1 1620.2,1527.9 1622.8,1527.9 1622.8,1515.7 1625.4,1515.7 1625.4,1513.4 1628.0,1513.4 1628.0,1547.6 1630.6,1547.6 1630.6,1547.6 1633.2,1547.6 1633.2,1540.8 1635.8,1540.8 1635.8,1542.1 1638.4,1542.1 1638.4,1516.3 1641.0,1516.3 1641.0,1516.8 1643.6,1516.8 1643.6,1516.8 1646.2,1516.8 1646.2,1539.2 1648.8,1539.2 1648.8,1537.5 1651.4,1537.5 1651.4,1549.1 1654.0,1549.1 1654.0,1541.6 1656.6,1541.6 1656.6,1528.6 1659.2,1528.6 1659.2,1550.9 1661.8,1550.9 1661.8,1546.6 1664.4,1546.6 1664.4,1539.3 1667.0,1539.3 1667.0,1525.8 1669.6,1525.8 1669.6,1517.3 1672.2,1517.3 1672.2,1525.9 1674.8,1525.9 1674.8,1535.1 1677.4,1535.1 1677.4,1547.8 1680.0,1547.8 1680.0,1541.3 1682.6,1541.3 1682.6,1521.0 1685.2,1521.0 1685.2,1521.0 1687.8,1521.0 1687.8,1542.8 1690.4,1542.8 1690.4,1528.7 1693.0,1528.7 1693.0,1543.1 1695.6,1543.1 1695.6,1539.0 1698.2,1539.0 1698.2,1552.6 1700.8,1552.6 1700.8,1555.1 1703.4,1555.1 1703.4,1535.7 1706.0,1535.7 1706.0,1509.6 1708.6,1509.6 1708.6,1528.0 1711.2,1528.0 1711.2,1512.3 1713.8,1512.3 1713.8,1512.3 1716.4,1512.3 1716.4,1526.3 1719.0,1526.3 1719.0,1543.6 1721.6,1543.6 1721.6,1543.6 1724.2,1543.6 1724.2,1542.7 1726.8,1542.7 1726.8,1542.7 1729.4,1542.7 1729.4,1528.7 1732.0,1528.7 1732.0,1528.7 1734.6,1528.7 1734.6,1531.3 1737.2,1531.3 1737.2,1531.3 1739.8,1531.3 1739.8,1528.2 1742.4,1528.2 1742.4,1528.2 1745.0,1528.2 1745.0,1519.7 1747.6,1519.7 1747.6,1535.5 1750.2,1535.5 1750.2,1565.4 1752.8,1565.4 1752.8,1527.7 1755.4,1527.7 1755.4,1545.6 1758.0,1545.6 1758.0,1533.9 1760.6,1533.9 1760.6,1547.4 1763.2,1547.4 1763.2,1548.1 1765.8,1548.1 1765.8,1548.1 1768.4,1548.1 1768.4,1536.5 1771.0,1536.5 1771.0,1524.9 1773.6,1524.9 1773.6,1526.6 1776.2,1526.6 1776.2,1537.4 1778.8,1537.4 1778.8,1547.5 1781.4,1547.5 1781.4,1554.7 1784.0,1554.7 1784.0,1542.9 1786.6,1542.9 1786.6,1546.0 1789.2,1546.0 1789.2,1528.0 1791.8,1528.0 1791.8,1528.8 1794.4,1528.8 1794.4,1522.5 1797.0,1522.5 1797.0,1511.3 1799.6,1511.3 1799.6,1512.8 1802.2,1512.8 1802.2,1496.6 1804.8,1496.6 1804.8,1518.6 1807.4,1518.6 1807.4,1544.2 1810.0,1544.2 1810.0,1540.2 1812.6,1540.2 1812.6,1540.2 1815.2,1540.2 1815.2,1547.1 1817.8,1547.1 1817.8,1545.8 1820.4,1545.8 1820.4,1545.8 1823.0,1545.8 1823.0,1550.9 1825.6,1550.9 1825.6,1551.1 1828.2,1551.1 1828.2,1548.8 1830.8,1548.8 1830.8,1554.1 1833.4,1554.1 1833.4,1543.1 1836.0,1543.1 1836.0,1544.8 1838.6,1544.8 1838.6,1544.8 1841.2,1544.8 1841.2,1539.8 1843.8,1539.8 1843.8,1514.0 1846.4,1514.0 1846.4,1541.6 1849.0,1541.6 1849.0,1526.3 1851.6,1526.3 1851.6,1527.9 1854.2,1527.9 1854.2,1519.5 1856.8,1519.5 1856.8,1507.8 1859.4,1507.8 1859.4,1506.6 1862.0,1506.6 1862.0,1506.6 1864.6,1506.6 1864.6,1530.0 1867.2,1530.0 1867.2,1531.7 1869.8,1531.7 1869.8,1564.4 1872.4,1564.4 1872.4,1539.6 1875.0,1539.6 1875.0,1557.7 1877.6,1557.7 1877.6,1578.5 1880.2,1578.5 1880.2,1570.5 1882.8,1570.5 1882.8,1592.3 1885.4,1592.3 1885.4,1592.3 1888.0,1592.3 1888.0,1578.6 1890.6,1578.6 1890.6,1593.4 1893.2,1593.4 1893.2,1573.7 1895.8,1573.7 1895.8,1560.2 1898.4,1560.2 1898.4,1560.2 1901.0,1560.2 1901.0,1563.3 1903.6,1563.3 1903.6,1554.4 1906.2,1554.4 1906.2,1544.7 1908.8,1544.7 1908.8,1568.6 1911.4,1568.6 1911.4,1547.9 1914.0,1547.9 1914.0,1547.9 1916.6,1547.9 1916.6,1549.2 1919.2,1549.2 1919.2,1540.5 1921.8,1540.5 1921.8,1565.6 1924.4,1565.6 1924.4,1564.6 1927.0,1564.6 1927.0,1549.6 1929.6,1549.6 1929.6,1554.9 1932.2,1554.9 1932.2,1543.9 1934.8,1543.9 1934.8,1546.8 1937.4,1546.8 1937.4,1534.8 1940.0,1534.8 1940.0,1533.6 1942.6,1533.6 1942.6,1549.7 1945.2,1549.7 1945.2,1549.9 1947.8,1549.9 1947.8,1560.5 1950.4,1560.5 1950.4,1552.7 1953.0,1552.7 1953.0,1556.0 1955.6,1556.0 1955.6,1552.6 1958.2,1552.6 1958.2,1559.3 1960.8,1559.3 1960.8,1558.6 1963.4,1558.6 1963.4,1565.4 1966.0,1565.4 1966.0,1546.9 1968.6,1546.9 1968.6,1540.6 1971.2,1540.6 1971.2,1534.3 1973.8,1534.3 1973.8,1534.3 1976.4,1534.3 1976.4,1556.1 1979.0,1556.1 1979.0,1519.4 1981.6,1519.4 1981.6,1535.7 1984.2,1535.7 1984.2,1533.9 1986.8,1533.9 1986.8,1526.6 1989.4,1526.6 1989.4,1542.5 1992.0,1542.5 1992.0,1548.9 1994.6,1548.9 1994.6,1556.5 1997.2,1556.5 1997.2,1542.9 1999.8,1542.9 1999.8,1546.2 2002.4,1546.2 2002.4,1540.6 2005.0,1540.6 2005.0,1544.5 2007.6,1544.5 2007.6,1540.6 2010.2,1540.6 2010.2,1532.8 2012.8,1532.8 2012.8,1532.3 2015.4,1532.3 2015.4,1537.6 2018.0,1537.6 2018.0,1555.1 2020.6,1555.1 2020.6,1557.5 2023.2,1557.5 2023.2,1541.0 2025.8,1541.0 2025.8,1534.5 2028.4,1534.5 2028.4,1540.4 2031.0,1540.4 2031.0,1533.6 2033.6,1533.6 2033.6,1526.9 2036.2,1526.9 2036.2,1520.2 2038.8,1520.2 2038.8,1528.7 2041.4,1528.7 2041.4,1521.8 2044.0,1521.8 2044.0,1521.7 2046.6,1521.7 2046.6,1500.3 2049.2,1500.3 2049.2,1523.8 2051.8,1523.8 2051.8,1523.8 2054.4,1523.8 2054.4,1513.3 2057.0,1513.3 2057.0,1526.6 2059.6,1526.6 2059.6,1516.1 2062.2,1516.1 2062.2,1517.0 2064.8,1517.0 2064.8,1519.5 2067.4,1519.5 2067.4,1510.4 2070.0,1510.4 2070.0,1536.2 2072.6,1536.2 2072.6,1534.2 2075.2,1534.2 2075.2,1522.8 2077.8,1522.8 2077.8,1533.5 2080.4,1533.5 2080.4,1546.3 2083.0,1546.3 2083.0,1546.9 2085.6,1546.9 2085.6,1537.5 2088.2,1537.5 2088.2,1551.6 2090.8,1551.6 2090.8,1557.3 2093.4,1557.3 2093.4,1540.4 2096.0,1540.4 2096.0,1540.4 2098.6,1540.4 2098.6,1542.7 2101.2,1542.7 2101.2,1545.6 2103.8,1545.6 2103.8,1549.7 2106.4,1549.7 2106.4,1556.7 2109.0,1556.7 2109.0,1543.8 2111.6,1543.8 2111.6,1559.7 2114.2,1559.7 2114.2,1554.7 2116.8,1554.7 2116.8,1532.1 2119.4,1532.1 2119.4,1545.0 2122.0,1545.0 2122.0,1527.7 2124.6,1527.7 2124.6,1513.3 2127.2,1513.3 2127.2,1509.2 2129.8,1509.2 2129.8,1504.3 2132.4,1504.3 2132.4,1504.3 2135.0,1504.3 2135.0,1492.5 2137.6,1492.5 2137.6,1525.4 2140.2,1525.4 2140.2,1506.6 2142.8,1506.6 2142.8,1506.6 2145.4,1506.6 2145.4,1503.0 2148.0,1503.0 2148.0,1503.0 2150.6,1503.0 2150.6,1507.0 2153.2,1507.0 2153.2,1509.4 2155.8,1509.4 2155.8,1498.8 2158.4,1498.8 2158.4,1517.0 2161.0,1517.0 2161.0,1509.9 2163.6,1509.9 2163.6,1513.7 2166.2,1513.7 2166.2,1515.4 2168.8,1515.4 2168.8,1489.7 2171.4,1489.7 2171.4,1507.0 2174.0,1507.0 2174.0,1516.4 2176.6,1516.4 2176.6,1516.4 2179.2,1516.4 2179.2,1513.9 2181.8,1513.9 2181.8,1520.6 2184.4,1520.6 2184.4,1515.0 2187.0,1515.0 2187.0,1508.0 2189.0,1508.0 2189.0,1549.3 2187.0,1549.3 2187.0,1559.3 2184.4,1559.3 2184.4,1565.1 2181.8,1565.1 2181.8,1571.6 2179.2,1571.6 2179.2,1560.8 2176.6,1560.8 2176.6,1563.2 2174.0,1563.2 2174.0,1553.1 2171.4,1553.1 2171.4,1551.4 2168.8,1551.4 2168.8,1547.0 2166.2,1547.0 2166.2,1572.4 2163.6,1572.4 2163.6,1571.9 2161.0,1571.9 2161.0,1575.4 2158.4,1575.4 2158.4,1569.9 2155.8,1569.9 2155.8,1585.0 2153.2,1585.0 2153.2,1561.4 2150.6,1561.4 2150.6,1561.4 2148.0,1561.4 2148.0,1587.7 2145.4,1587.7 2145.4,1587.7 2142.8,1587.7 2142.8,1552.7 2140.2,1552.7 2140.2,1568.4 2137.6,1568.4 2137.6,1548.3 2135.0,1548.3 2135.0,1567.7 2132.4,1567.7 2132.4,1567.2 2129.8,1567.2 2129.8,1563.6 2127.2,1563.6 2127.2,1568.2 2124.6,1568.2 2124.6,1567.4 2122.0,1567.4 2122.0,1597.2 2119.4,1597.2 2119.4,1597.2 2116.8,1597.2 2116.8,1583.3 2114.2,1583.3 2114.2,1585.4 2111.6,1585.4 2111.6,1602.9 2109.0,1602.9 2109.0,1596.7 2106.4,1596.7 2106.4,1584.9 2103.8,1584.9 2103.8,1576.3 2101.2,1576.3 2101.2,1596.0 2098.6,1596.0 2098.6,1584.4 2096.0,1584.4 2096.0,1580.2 2093.4,1580.2 2093.4,1589.8 2090.8,1589.8 2090.8,1592.4 2088.2,1592.4 2088.2,1605.4 2085.6,1605.4 2085.6,1606.6 2083.0,1606.6 2083.0,1590.7 2080.4,1590.7 2080.4,1583.8 2077.8,1583.8 2077.8,1607.1 2075.2,1607.1 2075.2,1598.6 2072.6,1598.6 2072.6,1598.6 2070.0,1598.6 2070.0,1584.5 2067.4,1584.5 2067.4,1558.6 2064.8,1558.6 2064.8,1577.1 2062.2,1577.1 2062.2,1563.4 2059.6,1563.4 2059.6,1559.4 2057.0,1559.4 2057.0,1559.0 2054.4,1559.0 2054.4,1563.7 2051.8,1563.7 2051.8,1562.2 2049.2,1562.2 2049.2,1553.3 2046.6,1553.3 2046.6,1558.6 2044.0,1558.6 2044.0,1556.5 2041.4,1556.5 2041.4,1583.4 2038.8,1583.4 2038.8,1570.1 2036.2,1570.1 2036.2,1567.4 2033.6,1567.4 2033.6,1578.9 2031.0,1578.9 2031.0,1572.8 2028.4,1572.8 2028.4,1569.6 2025.8,1569.6 2025.8,1582.5 2023.2,1582.5 2023.2,1602.8 2020.6,1602.8 2020.6,1608.5 2018.0,1608.5 2018.0,1574.1 2015.4,1574.1 2015.4,1576.5 2012.8,1576.5 2012.8,1580.3 2010.2,1580.3 2010.2,1581.8 2007.6,1581.8 2007.6,1581.8 2005.0,1581.8 2005.0,1590.2 2002.4,1590.2 2002.4,1576.9 1999.8,1576.9 1999.8,1586.7 1997.2,1586.7 1997.2,1590.5 1994.6,1590.5 1994.6,1598.9 1992.0,1598.9 1992.0,1583.3 1989.4,1583.3 1989.4,1593.3 1986.8,1593.3 1986.8,1593.3 1984.2,1593.3 1984.2,1589.2 1981.6,1589.2 1981.6,1589.2 1979.0,1589.2 1979.0,1602.4 1976.4,1602.4 1976.4,1601.0 1973.8,1601.0 1973.8,1588.5 1971.2,1588.5 1971.2,1599.2 1968.6,1599.2 1968.6,1598.8 1966.0,1598.8 1966.0,1600.5 1963.4,1600.5 1963.4,1596.4 1960.8,1596.4 1960.8,1596.5 1958.2,1596.5 1958.2,1592.7 1955.6,1592.7 1955.6,1590.3 1953.0,1590.3 1953.0,1598.7 1950.4,1598.7 1950.4,1589.1 1947.8,1589.1 1947.8,1588.5 1945.2,1588.5 1945.2,1581.5 1942.6,1581.5 1942.6,1581.3 1940.0,1581.3 1940.0,1585.8 1937.4,1585.8 1937.4,1585.8 1934.8,1585.8 1934.8,1585.7 1932.2,1585.7 1932.2,1583.2 1929.6,1583.2 1929.6,1610.1 1927.0,1610.1 1927.0,1605.6 1924.4,1605.6 1924.4,1602.0 1921.8,1602.0 1921.8,1626.9 1919.2,1626.9 1919.2,1594.9 1916.6,1594.9 1916.6,1602.3 1914.0,1602.3 1914.0,1599.0 1911.4,1599.0 1911.4,1597.0 1908.8,1597.0 1908.8,1603.7 1906.2,1603.7 1906.2,1604.6 1903.6,1604.6 1903.6,1609.8 1901.0,1609.8 1901.0,1609.8 1898.4,1609.8 1898.4,1616.1 1895.8,1616.1 1895.8,1619.2 1893.2,1619.2 1893.2,1619.2 1890.6,1619.2 1890.6,1621.9 1888.0,1621.9 1888.0,1630.0 1885.4,1630.0 1885.4,1622.5 1882.8,1622.5 1882.8,1617.0 1880.2,1617.0 1880.2,1635.8 1877.6,1635.8 1877.6,1632.4 1875.0,1632.4 1875.0,1614.5 1872.4,1614.5 1872.4,1602.0 1869.8,1602.0 1869.8,1585.8 1867.2,1585.8 1867.2,1579.1 1864.6,1579.1 1864.6,1573.8 1862.0,1573.8 1862.0,1569.6 1859.4,1569.6 1859.4,1575.7 1856.8,1575.7 1856.8,1567.3 1854.2,1567.3 1854.2,1580.7 1851.6,1580.7 1851.6,1589.3 1849.0,1589.3 1849.0,1574.1 1846.4,1574.1 1846.4,1576.5 1843.8,1576.5 1843.8,1586.0 1841.2,1586.0 1841.2,1576.5 1838.6,1576.5 1838.6,1590.2 1836.0,1590.2 1836.0,1590.2 1833.4,1590.2 1833.4,1588.9 1830.8,1588.9 1830.8,1612.8 1828.2,1612.8 1828.2,1583.2 1825.6,1583.2 1825.6,1585.4 1823.0,1585.4 1823.0,1613.5 1820.4,1613.5 1820.4,1582.0 1817.8,1582.0 1817.8,1598.8 1815.2,1598.8 1815.2,1596.6 1812.6,1596.6 1812.6,1590.3 1810.0,1590.3 1810.0,1595.6 1807.4,1595.6 1807.4,1600.3 1804.8,1600.3 1804.8,1591.7 1802.2,1591.7 1802.2,1568.8 1799.6,1568.8 1799.6,1580.3 1797.0,1580.3 1797.0,1582.9 1794.4,1582.9 1794.4,1582.9 1791.8,1582.9 1791.8,1574.8 1789.2,1574.8 1789.2,1618.6 1786.6,1618.6 1786.6,1599.5 1784.0,1599.5 1784.0,1594.6 1781.4,1594.6 1781.4,1592.6 1778.8,1592.6 1778.8,1586.7 1776.2,1586.7 1776.2,1598.7 1773.6,1598.7 1773.6,1597.7 1771.0,1597.7 1771.0,1596.4 1768.4,1596.4 1768.4,1603.6 1765.8,1603.6 1765.8,1609.6 1763.2,1609.6 1763.2,1610.5 1760.6,1610.5 1760.6,1622.3 1758.0,1622.3 1758.0,1587.8 1755.4,1587.8 1755.4,1596.5 1752.8,1596.5 1752.8,1621.8 1750.2,1621.8 1750.2,1595.4 1747.6,1595.4 1747.6,1594.0 1745.0,1594.0 1745.0,1594.0 1742.4,1594.0 1742.4,1581.8 1739.8,1581.8 1739.8,1587.2 1737.2,1587.2 1737.2,1598.9 1734.6,1598.9 1734.6,1598.9 1732.0,1598.9 1732.0,1617.6 1729.4,1617.6 1729.4,1595.8 1726.8,1595.8 1726.8,1590.0 1724.2,1590.0 1724.2,1603.1 1721.6,1603.1 1721.6,1607.7 1719.0,1607.7 1719.0,1594.0 1716.4,1594.0 1716.4,1589.5 1713.8,1589.5 1713.8,1579.3 1711.2,1579.3 1711.2,1571.8 1708.6,1571.8 1708.6,1606.6 1706.0,1606.6 1706.0,1606.6 1703.4,1606.6 1703.4,1596.9 1700.8,1596.9 1700.8,1593.3 1698.2,1593.3 1698.2,1592.7 1695.6,1592.7 1695.6,1597.9 1693.0,1597.9 1693.0,1589.2 1690.4,1589.2 1690.4,1592.4 1687.8,1592.4 1687.8,1591.1 1685.2,1591.1 1685.2,1600.1 1682.6,1600.1 1682.6,1601.5 1680.0,1601.5 1680.0,1585.8 1677.4,1585.8 1677.4,1604.6 1674.8,1604.6 1674.8,1581.5 1672.2,1581.5 1672.2,1564.0 1669.6,1564.0 1669.6,1569.7 1667.0,1569.7 1667.0,1586.1 1664.4,1586.1 1664.4,1575.5 1661.8,1575.5 1661.8,1600.7 1659.2,1600.7 1659.2,1589.1 1656.6,1589.1 1656.6,1584.0 1654.0,1584.0 1654.0,1589.3 1651.4,1589.3 1651.4,1589.3 1648.8,1589.3 1648.8,1584.4 1646.2,1584.4 1646.2,1595.2 1643.6,1595.2 1643.6,1598.1 1641.0,1598.1 1641.0,1589.5 1638.4,1589.5 1638.4,1591.7 1635.8,1591.7 1635.8,1583.0 1633.2,1583.0 1633.2,1582.9 1630.6,1582.9 1630.6,1617.7 1628.0,1617.7 1628.0,1596.3 1625.4,1596.3 1625.4,1596.3 1622.8,1596.3 1622.8,1592.5 1620.2,1592.5 1620.2,1598.7 1617.6,1598.7 1617.6,1590.5 1615.0,1590.5 1615.0,1589.5 1612.4,1589.5 1612.4,1588.5 1609.8,1588.5 1609.8,1563.3 1607.2,1563.3 1607.2,1590.3 1604.6,1590.3 1604.6,1543.7 1602.0,1543.7 1602.0,1547.0 1599.4,1547.0 1599.4,1576.4 1596.8,1576.4 1596.8,1530.3 1594.2,1530.3 1594.2,1534.2 1591.6,1534.2 1591.6,1548.4 1589.0,1548.4 1589.0,1544.7 1586.4,1544.7 1586.4,1543.1 1583.8,1543.1 1583.8,1548.2 1581.2,1548.2 1581.2,1548.2 1578.6,1548.2 1578.6,1552.0 1576.0,1552.0 1576.0,1577.8 1573.4,1577.8 1573.4,1577.8 1570.8,1577.8 1570.8,1563.5 1568.2,1563.5 1568.2,1569.5 1565.6,1569.5 1565.6,1569.2 1563.0,1569.2 1563.0,1569.1 1560.4,1569.1 1560.4,1570.8 1557.8,1570.8 1557.8,1569.6 1555.2,1569.6 1555.2,1572.3 1552.6,1572.3 1552.6,1580.8 1550.0,1580.8 1550.0,1574.9 1547.4,1574.9 1547.4,1572.9 1544.8,1572.9 1544.8,1583.8 1542.2,1583.8 1542.2,1593.5 1539.6,1593.5 1539.6,1591.1 1537.0,1591.1 1537.0,1612.9 1534.4,1612.9 1534.4,1611.3 1531.8,1611.3 1531.8,1611.3 1529.2,1611.3 1529.2,1580.0 1526.6,1580.0 1526.6,1563.2 1524.0,1563.2 1524.0,1584.1 1521.4,1584.1 1521.4,1584.5 1518.8,1584.5 1518.8,1569.0 1516.2,1569.0 1516.2,1569.0 1513.6,1569.0 1513.6,1558.6 1511.0,1558.6 1511.0,1573.1 1508.4,1573.1 1508.4,1582.8 1505.8,1582.8 1505.8,1595.4 1503.2,1595.4 1503.2,1571.5 1500.6,1571.5 1500.6,1574.0 1498.0,1574.0 1498.0,1576.9 1495.4,1576.9 1495.4,1561.3 1492.8,1561.3 1492.8,1572.1 1490.2,1572.1 1490.2,1583.2 1487.6,1583.2 1487.6,1572.8 1485.0,1572.8 1485.0,1565.9 1482.4,1565.9 1482.4,1576.6 1479.8,1576.6 1479.8,1556.8 1477.2,1556.8 1477.2,1559.4 1474.6,1559.4 1474.6,1560.6 1472.0,1560.6 1472.0,1561.8 1469.4,1561.8 1469.4,1555.4 1466.8,1555.4 1466.8,1562.4 1464.2,1562.4 1464.2,1565.8 1461.6,1565.8 1461.6,1567.4 1459.0,1567.4 1459.0,1553.9 1456.4,1553.9 1456.4,1553.9 1453.8,1553.9 1453.8,1547.2 1451.2,1547.2 1451.2,1546.9 1448.6,1546.9 1448.6,1549.3 1446.0,1549.3 1446.0,1545.2 1443.4,1545.2 1443.4,1547.9 1440.8,1547.9 1440.8,1531.4 1438.2,1531.4 1438.2,1537.5 1435.6,1537.5 1435.6,1537.4 1433.0,1537.4 1433.0,1558.9 1430.4,1558.9 1430.4,1558.9 1427.8,1558.9 1427.8,1562.2 1425.2,1562.2 1425.2,1540.4 1422.6,1540.4 1422.6,1551.2 1420.0,1551.2 1420.0,1548.9 1417.4,1548.9 1417.4,1538.4 1414.8,1538.4 1414.8,1544.8 1412.2,1544.8 1412.2,1542.0 1409.6,1542.0 1409.6,1555.4 1407.0,1555.4 1407.0,1556.9 1404.4,1556.9 1404.4,1559.3 1401.8,1559.3 1401.8,1569.5 1399.2,1569.5 1399.2,1552.9 1396.6,1552.9 1396.6,1565.4 1394.0,1565.4 1394.0,1556.1 1391.4,1556.1 1391.4,1556.1 1388.8,1556.1 1388.8,1553.9 1386.2,1553.9 1386.2,1547.0 1383.6,1547.0 1383.6,1565.0 1381.0,1565.0 1381.0,1567.5 1378.4,1567.5 1378.4,1561.6 1375.8,1561.6 1375.8,1574.9 1373.2,1574.9 1373.2,1552.2 1370.6,1552.2 1370.6,1558.7 1368.0,1558.7 1368.0,1564.8 1365.4,1564.8 1365.4,1559.6 1362.8,1559.6 1362.8,1557.7 1360.2,1557.7 1360.2,1571.0 1357.6,1571.0 1357.6,1572.6 1355.0,1572.6 1355.0,1581.6 1352.4,1581.6 1352.4,1591.2 1349.8,1591.2 1349.8,1591.2 1347.2,1591.2 1347.2,1587.0 1344.6,1587.0 1344.6,1589.8 1342.0,1589.8 1342.0,1589.0 1339.4,1589.0 1339.4,1593.3 1336.8,1593.3 1336.8,1579.3 1334.2,1579.3 1334.2,1594.0 1331.6,1594.0 1331.6,1583.1 1329.0,1583.1 1329.0,1598.5 1326.4,1598.5 1326.4,1571.3 1323.8,1571.3 1323.8,1573.7 1321.2,1573.7 1321.2,1584.8 1318.6,1584.8 1318.6,1592.7 1316.0,1592.7 1316.0,1572.1 1313.4,1572.1 1313.4,1574.7 1310.8,1574.7 1310.8,1584.4 1308.2,1584.4 1308.2,1574.5 1305.6,1574.5 1305.6,1578.2 1303.0,1578.2 1303.0,1585.6 1300.4,1585.6 1300.4,1577.9 1297.8,1577.9 1297.8,1572.5 1295.2,1572.5 1295.2,1570.7 1292.6,1570.7 1292.6,1571.5 1290.0,1571.5 1290.0,1568.6 1287.4,1568.6 1287.4,1578.4 1284.8,1578.4 1284.8,1578.4 1282.2,1578.4 1282.2,1583.1 1279.6,1583.1 1279.6,1571.1 1277.0,1571.1 1277.0,1590.5 1274.4,1590.5 1274.4,1582.0 1271.8,1582.0 1271.8,1589.1 1269.2,1589.1 1269.2,1591.1 1266.6,1591.1 1266.6,1597.9 1264.0,1597.9 1264.0,1595.9 1261.4,1595.9 1261.4,1605.8 1258.8,1605.8 1258.8,1621.4 1256.2,1621.4 1256.2,1626.0 1253.6,1626.0 1253.6,1627.4 1251.0,1627.4 1251.0,1634.7 1248.4,1634.7 1248.4,1621.6 1245.8,1621.6 1245.8,1619.0 1243.2,1619.0 1243.2,1623.9 1240.6,1623.9 1240.6,1616.0 1238.0,1616.0 1238.0,1608.9 1235.4,1608.9 1235.4,1630.2 1232.8,1630.2 1232.8,1590.6 1230.2,1590.6 1230.2,1622.3 1227.6,1622.3 1227.6,1587.0 1225.0,1587.0 1225.0,1585.8 1222.4,1585.8 1222.4,1573.8 1219.8,1573.8 1219.8,1572.9 1217.2,1572.9 1217.2,1585.8 1214.6,1585.8 1214.6,1582.8 1212.0,1582.8 1212.0,1565.0 1209.4,1565.0 1209.4,1573.1 1206.8,1573.1 1206.8,1595.7 1204.2,1595.7 1204.2,1598.9 1201.6,1598.9 1201.6,1577.2 1199.0,1577.2 1199.0,1570.6 1196.4,1570.6 1196.4,1585.3 1193.8,1585.3 1193.8,1594.9 1191.2,1594.9 1191.2,1571.9 1188.6,1571.9 1188.6,1581.4 1186.0,1581.4 1186.0,1594.4 1183.4,1594.4 1183.4,1619.9 1180.8,1619.9 1180.8,1618.9 1178.2,1618.9 1178.2,1609.2 1175.6,1609.2 1175.6,1633.9 1173.0,1633.9 1173.0,1633.9 1170.4,1633.9 1170.4,1623.9 1167.8,1623.9 1167.8,1601.4 1165.2,1601.4 1165.2,1636.7 1162.6,1636.7 1162.6,1622.6 1160.0,1622.6 1160.0,1619.8 1157.4,1619.8 1157.4,1636.1 1154.8,1636.1 1154.8,1621.0 1152.2,1621.0 1152.2,1632.9 1149.6,1632.9 1149.6,1636.1 1147.0,1636.1 1147.0,1638.0 1144.4,1638.0 1144.4,1653.0 1141.8,1653.0 1141.8,1673.0 1139.2,1673.0 1139.2,1654.0 1136.6,1654.0 1136.6,1656.1 1134.0,1656.1 1134.0,1675.0 1131.4,1675.0 1131.4,1668.9 1128.8,1668.9 1128.8,1675.9 1126.2,1675.9 1126.2,1665.7 1123.6,1665.7 1123.6,1662.5 1121.0,1662.5 1121.0,1668.6 1118.4,1668.6 1118.4,1668.6 1115.8,1668.6 1115.8,1658.5 1113.2,1658.5 1113.2,1643.3 1110.6,1643.3 1110.6,1664.0 1108.0,1664.0 1108.0,1650.4 1105.4,1650.4 1105.4,1661.0 1102.8,1661.0 1102.8,1657.8 1100.2,1657.8 1100.2,1666.2 1097.6,1666.2 1097.6,1692.9 1095.0,1692.9 1095.0,1681.4 1092.4,1681.4 1092.4,1667.9 1089.8,1667.9 1089.8,1676.0 1087.2,1676.0 1087.2,1676.0 1084.6,1676.0 1084.6,1660.2 1082.0,1660.2 1082.0,1673.3 1079.4,1673.3 1079.4,1657.7 1076.8,1657.7 1076.8,1648.1 1074.2,1648.1 1074.2,1675.3 1071.6,1675.3 1071.6,1668.8 1069.0,1668.8 1069.0,1651.5 1066.4,1651.5 1066.4,1640.8 1063.8,1640.8 1063.8,1632.1 1061.2,1632.1 1061.2,1622.5 1058.6,1622.5 1058.6,1623.2 1056.0,1623.2 1056.0,1628.2 1053.4,1628.2 1053.4,1637.9 1050.8,1637.9 1050.8,1631.2 1048.2,1631.2 1048.2,1661.5 1045.6,1661.5 1045.6,1649.2 1043.0,1649.2 1043.0,1649.1 1040.4,1649.1 1040.4,1637.0 1037.8,1637.0 1037.8,1680.7 1035.2,1680.7 1035.2,1647.6 1032.6,1647.6 1032.6,1643.8 1030.0,1643.8 1030.0,1640.9 1027.4,1640.9 1027.4,1626.6 1024.8,1626.6 1024.8,1627.2 1022.2,1627.2 1022.2,1653.4 1019.6,1653.4 1019.6,1659.7 1017.0,1659.7 1017.0,1632.2 1014.4,1632.2 1014.4,1650.7 1011.8,1650.7 1011.8,1658.5 1009.2,1658.5 1009.2,1658.5 1006.6,1658.5 1006.6,1644.2 1004.0,1644.2 1004.0,1652.0 1001.4,1652.0 1001.4,1635.5 998.8,1635.5 998.8,1644.2 996.2,1644.2 996.2,1640.1 993.6,1640.1 993.6,1622.8 991.0,1622.8 991.0,1637.0 988.4,1637.0 988.4,1633.7 985.8,1633.7 985.8,1612.7 983.2,1612.7 983.2,1637.1 980.6,1637.1 980.6,1630.0 978.0,1630.0 978.0,1630.0 975.4,1630.0 975.4,1628.9 972.8,1628.9 972.8,1640.2 970.2,1640.2 970.2,1639.9 967.6,1639.9 967.6,1645.9 965.0,1645.9 965.0,1621.8 962.4,1621.8 962.4,1633.2 959.8,1633.2 959.8,1620.7 957.2,1620.7 957.2,1647.3 954.6,1647.3 954.6,1647.3 952.0,1647.3 952.0,1614.8 949.4,1614.8 949.4,1604.9 946.8,1604.9 946.8,1615.9 944.2,1615.9 944.2,1609.7 941.6,1609.7 941.6,1598.2 939.0,1598.2 939.0,1645.5 936.4,1645.5 936.4,1617.4 933.8,1617.4 933.8,1630.8 931.2,1630.8 931.2,1630.8 928.6,1630.8 928.6,1632.0 926.0,1632.0 926.0,1640.6 923.4,1640.6 923.4,1628.2 920.8,1628.2 920.8,1618.1 918.2,1618.1 918.2,1626.6 915.6,1626.6 915.6,1605.0 913.0,1605.0 913.0,1605.1 910.4,1605.1 910.4,1594.9 907.8,1594.9 907.8,1585.4 905.2,1585.4 905.2,1619.2 902.6,1619.2 902.6,1590.8 900.0,1590.8 900.0,1608.6 897.4,1608.6 897.4,1608.6 894.8,1608.6 894.8,1610.3 892.2,1610.3 892.2,1610.3 889.6,1610.3 889.6,1618.6 887.0,1618.6 887.0,1646.4 884.4,1646.4 884.4,1610.4 881.8,1610.4 881.8,1633.5 879.2,1633.5 879.2,1624.5 876.6,1624.5 876.6,1631.7 874.0,1631.7 874.0,1622.1 871.4,1622.1 871.4,1623.9 868.8,1623.9 868.8,1659.4 866.2,1659.4 866.2,1653.2 863.6,1653.2 863.6,1650.4 861.0,1650.4 861.0,1662.9 858.4,1662.9 858.4,1664.7 855.8,1664.7 855.8,1676.4 853.2,1676.4 853.2,1654.8 850.6,1654.8 850.6,1678.9 848.0,1678.9 848.0,1678.9 845.4,1678.9 845.4,1669.9 842.8,1669.9 842.8,1689.4 840.2,1689.4 840.2,1667.7 837.6,1667.7 837.6,1666.0 835.0,1666.0 835.0,1687.4 832.4,1687.4 832.4,1661.3 829.8,1661.3 829.8,1654.4 827.2,1654.4 827.2,1654.3 824.6,1654.3 824.6,1651.7 822.0,1651.7 822.0,1665.8 819.4,1665.8 819.4,1639.7 816.8,1639.7 816.8,1652.2 814.2,1652.2 814.2,1639.7 811.6,1639.7 811.6,1648.4 809.0,1648.4 809.0,1628.9 806.4,1628.9 806.4,1642.7 803.8,1642.7 803.8,1632.2 801.2,1632.2 801.2,1643.8 798.6,1643.8 798.6,1622.6 796.0,1622.6 796.0,1619.5 793.4,1619.5 793.4,1620.9 790.8,1620.9 790.8,1641.8 788.2,1641.8 788.2,1638.9 785.6,1638.9 785.6,1641.1 783.0,1641.1 783.0,1661.6 780.4,1661.6 780.4,1657.6 777.8,1657.6 777.8,1653.0 775.2,1653.0 775.2,1653.0 772.6,1653.0 772.6,1656.8 770.0,1656.8 770.0,1649.8 767.4,1649.8 767.4,1677.1 764.8,1677.1 764.8,1678.6 762.2,1678.6 762.2,1666.6 759.6,1666.6 759.6,1681.7 757.0,1681.7 757.0,1665.1 754.4,1665.1 754.4,1662.8 751.8,1662.8 751.8,1668.4 749.2,1668.4 749.2,1650.7 746.6,1650.7 746.6,1678.8 744.0,1678.8 744.0,1668.4 741.4,1668.4 741.4,1673.0 738.8,1673.0 738.8,1697.9 736.2,1697.9 736.2,1697.9 733.6,1697.9 733.6,1716.8 731.0,1716.8 731.0,1688.6 728.4,1688.6 728.4,1705.2 725.8,1705.2 725.8,1684.7 723.2,1684.7 723.2,1684.8 720.6,1684.8 720.6,1694.7 718.0,1694.7 718.0,1689.7 715.4,1689.7 715.4,1683.9 712.8,1683.9 712.8,1679.5 710.2,1679.5 710.2,1700.9 707.6,1700.9 707.6,1698.1 705.0,1698.1 705.0,1696.0 702.4,1696.0 702.4,1692.5 699.8,1692.5 699.8,1700.6 697.2,1700.6 697.2,1696.7 694.6,1696.7 694.6,1696.7 692.0,1696.7 692.0,1671.7 689.4,1671.7 689.4,1687.6 686.8,1687.6 686.8,1690.3 684.2,1690.3 684.2,1710.4 681.6,1710.4 681.6,1706.9 679.0,1706.9 679.0,1698.9 676.4,1698.9 676.4,1698.9 673.8,1698.9 673.8,1691.9 671.2,1691.9 671.2,1726.5 668.6,1726.5 668.6,1712.7 666.0,1712.7 666.0,1672.8 663.4,1672.8 663.4,1691.6 660.8,1691.6 660.8,1685.2 658.2,1685.2 658.2,1713.4 655.6,1713.4 655.6,1680.5 653.0,1680.5 653.0,1679.5 650.4,1679.5 650.4,1709.9 647.8,1709.9 647.8,1718.3 645.2,1718.3 645.2,1692.2 642.6,1692.2 642.6,1679.6 640.0,1679.6 640.0,1682.8 637.4,1682.8 637.4,1747.1 634.8,1747.1 634.8,1747.1 632.2,1747.1 632.2,1698.2 629.6,1698.2 629.6,1748.2 627.0,1748.2 627.0,1696.1 624.4,1696.1 624.4,1714.2 621.8,1714.2 621.8,1694.6 619.2,1694.6 619.2,1678.6 616.6,1678.6 616.6,1711.6 614.0,1711.6 614.0,1765.2 611.4,1765.2 611.4,1765.2 608.8,1765.2 608.8,1719.4 606.2,1719.4 606.2,1680.1 603.6,1680.1 603.6,1676.3 601.0,1676.3 601.0,1659.5 598.4,1659.5 598.4,1662.7 595.8,1662.7 595.8,1657.6 593.2,1657.6 593.2,1621.8 590.6,1621.8 590.6,1621.4 588.0,1621.4 588.0,1627.5 585.4,1627.5 585.4,1626.2 582.8,1626.2 582.8,1646.3 580.2,1646.3 580.2,1646.3 577.6,1646.3 577.6,1625.4 575.0,1625.4 575.0,1623.8 572.4,1623.8 572.4,1633.8 569.8,1633.8 569.8,1636.0 567.2,1636.0 567.2,1636.0 564.6,1636.0 564.6,1659.3 562.0,1659.3 562.0,1642.4 559.4,1642.4 559.4,1637.5 556.8,1637.5 556.8,1628.3 554.2,1628.3 554.2,1627.4 551.6,1627.4 551.6,1629.6 549.0,1629.6 549.0,1652.9 546.4,1652.9 546.4,1652.9 543.8,1652.9 543.8,1648.1 541.2,1648.1 541.2,1637.9 538.6,1637.9 538.6,1629.5 536.0,1629.5 536.0,1648.6 533.4,1648.6 533.4,1614.3 530.8,1614.3 530.8,1614.5 528.2,1614.5 528.2,1605.0 525.6,1605.0 525.6,1621.6 523.0,1621.6 523.0,1620.7 520.4,1620.7 520.4,1609.9 517.8,1609.9 517.8,1625.9 515.2,1625.9 515.2,1615.8 512.6,1615.8 512.6,1634.8 510.0,1634.8 510.0,1646.2 507.4,1646.2 507.4,1634.0 504.8,1634.0 504.8,1666.6 502.2,1666.6 502.2,1657.0 499.6,1657.0 499.6,1676.7 497.0,1676.7 497.0,1646.8 494.4,1646.8 494.4,1645.1 491.8,1645.1 491.8,1645.2 489.2,1645.2 489.2,1630.3 486.6,1630.3 486.6,1640.4 484.0,1640.4 484.0,1648.3 481.4,1648.3 481.4,1648.3 478.8,1648.3 478.8,1677.7 476.2,1677.7 476.2,1672.7 473.6,1672.7 473.6,1667.2 471.0,1667.2 471.0,1644.2 468.4,1644.2 468.4,1612.0 465.8,1612.0 465.8,1622.0 463.2,1622.0 463.2,1631.7 460.6,1631.7 460.6,1662.8 458.0,1662.8 458.0,1657.9 455.4,1657.9 455.4,1665.8 452.8,1665.8 452.8,1687.5 450.2,1687.5 450.2,1650.6 447.6,1650.6 447.6,1657.4 445.0,1657.4 445.0,1647.1 442.4,1647.1 442.4,1647.1 439.8,1647.1 439.8,1635.1 437.2,1635.1 437.2,1639.2 434.6,1639.2 434.6,1620.8 432.0,1620.8 432.0,1620.8 429.4,1620.8 429.4,1631.3 426.8,1631.3 426.8,1612.7 424.2,1612.7 424.2,1639.8 421.6,1639.8 421.6,1686.3 419.0,1686.3 419.0,1686.3 416.4,1686.3 416.4,1685.0 413.8,1685.0 413.8,1685.6 411.2,1685.6 411.2,1684.1 408.6,1684.1 408.6,1690.7 406.0,1690.7 406.0,1689.8 403.4,1689.8 403.4,1704.2 400.8,1704.2 400.8,1709.1 398.2,1709.1 398.2,1699.0 395.6,1699.0 395.6,1680.7 393.0,1680.7 393.0,1671.8 390.4,1671.8 390.4,1680.8 387.8,1680.8 387.8,1700.7 385.2,1700.7 385.2,1709.8 382.6,1709.8 382.6,1712.1 380.0,1712.1 380.0,1722.4 377.4,1722.4 377.4,1716.8 374.8,1716.8 374.8,1712.6 372.2,1712.6 372.2,1712.6 369.6,1712.6 369.6,1693.4 367.0,1693.4 367.0,1713.1 364.4,1713.1 364.4,1720.7 361.8,1720.7 361.8,1775.6 359.2,1775.6 359.2,1776.9 356.6,1776.9 356.6,1811.1 354.0,1811.1 354.0,1829.3 351.4,1829.3 351.4,1840.8 348.8,1840.8 348.8,1834.8 346.2,1834.8 346.2,1850.9 343.6,1850.9 343.6,1850.9 341.0,1850.9 341.0,1819.3 338.4,1819.3 338.4,1804.7 335.8,1804.7 335.8,1799.3 333.2,1799.3 333.2,1775.2 330.6,1775.2 330.6,1786.7 328.0,1786.7 328.0,1793.6 325.4,1793.6 325.4,1791.4 322.8,1791.4 322.8,1806.4 320.2,1806.4 320.2,1844.3 317.6,1844.3 317.6,1862.7 315.0,1862.7 315.0,1926.6 312.4,1926.6 312.4,1895.7 309.8,1895.7 309.8,1868.7 307.2,1868.7 307.2,1837.8 304.6,1837.8 304.6,1825.9 302.0,1825.9 302.0,1827.7 299.4,1827.7 299.4,1863.6 296.8,1863.6 296.8,1845.4 294.2,1845.4 294.2,1855.3 291.6,1855.3 291.6,1854.5 289.0,1854.5 289.0,1847.9 286.4,1847.9 286.4,1879.4 283.8,1879.4 283.8,1868.0 281.2,1868.0 281.2,1841.1 278.6,1841.1 278.6,1858.7 276.0,1858.7 276.0,1847.8 273.4,1847.8 273.4,1859.8 270.8,1859.8 270.8,1935.4 268.2,1935.4 268.2,2027.6 265.6,2027.6 265.6,2159.5 263.0,2159.5Z"/></g>
<line x1="536.6" y1="806" x2="536.6" y2="1461" stroke="#a9bfe0" stroke-width="2.6"/>
<line x1="534" y1="805.5" x2="534" y2="1461" stroke="#003c96" stroke-width="2.4"/>
<g stroke="#000" stroke-width="4.4" fill="none">
<line x1="261" y1="75.2" x2="2191" y2="75.2"/>
<line x1="263" y1="768.7" x2="2189" y2="768.7"/>
<line x1="263" y1="1462" x2="2189" y2="1462"/>
<line x1="261" y1="2155.8" x2="2191" y2="2155.8"/>
<line x1="263" y1="72.5" x2="263" y2="2158"/>
<line x1="2189" y1="72.5" x2="2189" y2="2158"/>
</g>
<g stroke="#000" stroke-width="3.6">
<line x1="265" y1="694.2" x2="272" y2="694.2"/>
<line x1="2187" y1="694.2" x2="2180" y2="694.2"/>
<line x1="265" y1="620.0" x2="279" y2="620.0"/>
<line x1="2187" y1="620.0" x2="2173" y2="620.0"/>
<line x1="265" y1="545.8" x2="272" y2="545.8"/>
<line x1="2187" y1="545.8" x2="2180" y2="545.8"/>
<line x1="265" y1="471.5" x2="279" y2="471.5"/>
<line x1="2187" y1="471.5" x2="2173" y2="471.5"/>
<line x1="265" y1="397.2" x2="272" y2="397.2"/>
<line x1="2187" y1="397.2" x2="2180" y2="397.2"/>
<line x1="265" y1="323.0" x2="279" y2="323.0"/>
<line x1="2187" y1="323.0" x2="2173" y2="323.0"/>
<line x1="265" y1="248.8" x2="272" y2="248.8"/>
<line x1="2187" y1="248.8" x2="2180" y2="248.8"/>
<line x1="265" y1="174.5" x2="279" y2="174.5"/>
<line x1="2187" y1="174.5" x2="2173" y2="174.5"/>
<line x1="265" y1="100.2" x2="272" y2="100.2"/>
<line x1="2187" y1="100.2" x2="2180" y2="100.2"/>
<line x1="265" y1="1384.9" x2="272" y2="1384.9"/>
<line x1="2187" y1="1384.9" x2="2180" y2="1384.9"/>
<line x1="265" y1="1307.9" x2="279" y2="1307.9"/>
<line x1="2187" y1="1307.9" x2="2173" y2="1307.9"/>
<line x1="265" y1="1231.0" x2="272" y2="1231.0"/>
<line x1="2187" y1="1231.0" x2="2180" y2="1231.0"/>
<line x1="265" y1="1154.0" x2="279" y2="1154.0"/>
<line x1="2187" y1="1154.0" x2="2173" y2="1154.0"/>
<line x1="265" y1="1077.1" x2="272" y2="1077.1"/>
<line x1="2187" y1="1077.1" x2="2180" y2="1077.1"/>
<line x1="265" y1="1000.2" x2="279" y2="1000.2"/>
<line x1="2187" y1="1000.2" x2="2173" y2="1000.2"/>
<line x1="265" y1="923.2" x2="272" y2="923.2"/>
<line x1="2187" y1="923.2" x2="2180" y2="923.2"/>
<line x1="265" y1="846.3" x2="279" y2="846.3"/>
<line x1="2187" y1="846.3" x2="2173" y2="846.3"/>
<line x1="265" y1="2094.9" x2="272" y2="2094.9"/>
<line x1="2187" y1="2094.9" x2="2180" y2="2094.9"/>
<line x1="265" y1="2031.6" x2="279" y2="2031.6"/>
<line x1="2187" y1="2031.6" x2="2173" y2="2031.6"/>
<line x1="265" y1="1968.3" x2="272" y2="1968.3"/>
<line x1="2187" y1="1968.3" x2="2180" y2="1968.3"/>
<line x1="265" y1="1905.0" x2="279" y2="1905.0"/>
<line x1="2187" y1="1905.0" x2="2173" y2="1905.0"/>
<line x1="265" y1="1841.7" x2="272" y2="1841.7"/>
<line x1="2187" y1="1841.7" x2="2180" y2="1841.7"/>
<line x1="265" y1="1778.4" x2="279" y2="1778.4"/>
<line x1="2187" y1="1778.4" x2="2173" y2="1778.4"/>
<line x1="265" y1="1715.1" x2="272" y2="1715.1"/>
<line x1="2187" y1="1715.1" x2="2180" y2="1715.1"/>
<line x1="265" y1="1651.8" x2="279" y2="1651.8"/>
<line x1="2187" y1="1651.8" x2="2173" y2="1651.8"/>
<line x1="265" y1="1588.5" x2="272" y2="1588.5"/>
<line x1="2187" y1="1588.5" x2="2180" y2="1588.5"/>
<line x1="265" y1="1525.2" x2="279" y2="1525.2"/>
<line x1="2187" y1="1525.2" x2="2173" y2="1525.2"/>
<line x1="455.6" y1="766.5" x2="455.6" y2="758.5"/>
<line x1="455.6" y1="1460.0" x2="455.6" y2="1452.0"/>
<line x1="455.6" y1="2153.8" x2="455.6" y2="2145.8"/>
<line x1="648.2" y1="766.5" x2="648.2" y2="751.5"/>
<line x1="648.2" y1="1460.0" x2="648.2" y2="1445.0"/>
<line x1="648.2" y1="2153.8" x2="648.2" y2="2138.8"/>
<line x1="840.8" y1="766.5" x2="840.8" y2="758.5"/>
<line x1="840.8" y1="1460.0" x2="840.8" y2="1452.0"/>
<line x1="840.8" y1="2153.8" x2="840.8" y2="2145.8"/>
<line x1="1033.4" y1="766.5" x2="1033.4" y2="751.5"/>
<line x1="1033.4" y1="1460.0" x2="1033.4" y2="1445.0"/>
<line x1="1033.4" y1="2153.8" x2="1033.4" y2="2138.8"/>
<line x1="1226.0" y1="766.5" x2="1226.0" y2="758.5"/>
<line x1="1226.0" y1="1460.0" x2="1226.0" y2="1452.0"/>
<line x1="1226.0" y1="2153.8" x2="1226.0" y2="2145.8"/>
<line x1="1418.6" y1="766.5" x2="1418.6" y2="751.5"/>
<line x1="1418.6" y1="1460.0" x2="1418.6" y2="1445.0"/>
<line x1="1418.6" y1="2153.8" x2="1418.6" y2="2138.8"/>
<line x1="1611.2" y1="766.5" x2="1611.2" y2="758.5"/>
<line x1="1611.2" y1="1460.0" x2="1611.2" y2="1452.0"/>
<line x1="1611.2" y1="2153.8" x2="1611.2" y2="2145.8"/>
<line x1="1803.8" y1="766.5" x2="1803.8" y2="751.5"/>
<line x1="1803.8" y1="1460.0" x2="1803.8" y2="1445.0"/>
<line x1="1803.8" y1="2153.8" x2="1803.8" y2="2138.8"/>
<line x1="1996.4" y1="766.5" x2="1996.4" y2="758.5"/>
<line x1="1996.4" y1="1460.0" x2="1996.4" y2="1452.0"/>
<line x1="1996.4" y1="2153.8" x2="1996.4" y2="2145.8"/>
</g>
<g font-family="Liberation Serif, Times New Roman, serif" font-weight="bold" fill="#000">
<text x="244.5" y="190.0" font-size="53" text-anchor="end">240</text>
<text x="244.5" y="338.5" font-size="53" text-anchor="end">180</text>
<text x="244.5" y="487.0" font-size="53" text-anchor="end">120</text>
<text x="244.5" y="635.5" font-size="53" text-anchor="end">60</text>
<text x="244.5" y="784.0" font-size="53" text-anchor="end">0</text>
<text x="244.5" y="861.8" font-size="53" text-anchor="end">240</text>
<text x="244.5" y="1015.7" font-size="53" text-anchor="end">180</text>
<text x="244.5" y="1169.5" font-size="53" text-anchor="end">120</text>
<text x="244.5" y="1323.4" font-size="53" text-anchor="end">60</text>
<text x="244.5" y="1477.3" font-size="53" text-anchor="end">0</text>
<text x="244.5" y="1540.7" font-size="53" text-anchor="end">300</text>
<text x="244.5" y="1667.3" font-size="53" text-anchor="end">240</text>
<text x="244.5" y="1793.9" font-size="53" text-anchor="end">180</text>
<text x="244.5" y="1920.5" font-size="53" text-anchor="end">120</text>
<text x="244.5" y="2047.1" font-size="53" text-anchor="end">60</text>
<text x="263.0" y="2217" font-size="56" text-anchor="middle">0</text>
<text x="648.2" y="2217" font-size="56" text-anchor="middle">20</text>
<text x="1033.4" y="2217" font-size="56" text-anchor="middle">40</text>
<text x="1418.6" y="2217" font-size="56" text-anchor="middle">60</text>
<text x="1803.8" y="2217" font-size="56" text-anchor="middle">80</text>
<text x="2189.0" y="2217" font-size="56" text-anchor="middle">100</text>
<text x="1111" y="2309.3" font-size="56">Time (ns)</text>
<text transform="translate(122.5,362) rotate(-90)" font-size="56" text-anchor="middle">Contact number</text>
<text x="401" y="136.5" font-size="55">run1</text>
<text x="379.7" y="826.4" font-size="55">run2</text>
<text x="379.7" y="1518.5" font-size="55">run3</text>
<text x="43" y="111" font-size="122">a</text>
<text x="40.6" y="2322.5" font-size="122">b</text>
</g>
<line x1="268" y1="119" x2="388" y2="119" stroke="#000" stroke-width="3"/>
<line x1="268" y1="809" x2="360" y2="809" stroke="#ff0000" stroke-width="3"/>
<line x1="268" y1="1502.6" x2="360" y2="1502.6" stroke="#0000ff" stroke-width="3"/>
<defs><filter id="soft80" x="-5%" y="-5%" width="110%" height="110%"><feGaussianBlur stdDeviation="1.6"/></filter></defs><g filter="url(#soft80)"><defs><clipPath id="lb"><path d="M272,2525 C300,2540 330,2560 360,2545 C400,2525 430,2560 470,2550 C510,2540 540,2530 580,2560 C640,2590 700,2570 760,2590 C820,2610 880,2600 940,2615 C970,2605 990,2600 1006,2605 L1009,2800 L1004,3002 C900,3030 700,3032 560,3028 C450,3032 360,3025 297,3020 C285,2900 278,2700 272,2525 Z"/></clipPath><clipPath id="lB"><path d="M360,2520 L630,2525 L610,2900 L560,3030 L360,3030 Z"/></clipPath><clipPath id="lC"><path d="M630,2525 L1008,2592 L1006,3002 L900,3030 L560,3030 L610,2900 Z"/></clipPath></defs><path d="M272,2525 C300,2540 330,2560 360,2545 C400,2525 430,2560 470,2550 C510,2540 540,2530 580,2560 C640,2590 700,2570 760,2590 C820,2610 880,2600 940,2615 C970,2605 990,2600 1006,2605 L1009,2800 L1004,3002 C900,3030 700,3032 560,3028 C450,3032 360,3025 297,3020 C285,2900 278,2700 272,2525 Z" fill="#fafafa"/><g clip-path="url(#lb)"><g clip-path="url(#lB)" stroke="#d8d8d8" stroke-width="20.0" opacity="1.00"><line x1="340" y1="2099" x2="650" y2="2456"/><line x1="340" y1="2165" x2="650" y2="2522"/><line x1="340" y1="2231" x2="650" y2="2588"/><line x1="340" y1="2297" x2="650" y2="2654"/><line x1="340" y1="2363" x2="650" y2="2720"/><line x1="340" y1="2429" x2="650" y2="2786"/><line x1="340" y1="2495" x2="650" y2="2852"/><line x1="340" y1="2561" x2="650" y2="2918"/><line x1="340" y1="2627" x2="650" y2="2984"/><line x1="340" y1="2693" x2="650" y2="3050"/><line x1="340" y1="2759" x2="650" y2="3116"/><line x1="340" y1="2825" x2="650" y2="3182"/><line x1="340" y1="2891" x2="650" y2="3248"/><line x1="340" y1="2957" x2="650" y2="3314"/><line x1="340" y1="3023" x2="650" y2="3380"/><line x1="340" y1="3089" x2="650" y2="3446"/><line x1="340" y1="3155" x2="650" y2="3512"/><line x1="340" y1="3221" x2="650" y2="3578"/><line x1="340" y1="3287" x2="650" y2="3644"/><line x1="340" y1="3353" x2="650" y2="3710"/></g><g clip-path="url(#lB)" stroke="#bebebe" stroke-width="26.0" opacity="0.92"><line x1="340" y1="2164" x2="650" y2="1854"/><line x1="340" y1="2230" x2="650" y2="1920"/><line x1="340" y1="2296" x2="650" y2="1986"/><line x1="340" y1="2362" x2="650" y2="2052"/><line x1="340" y1="2428" x2="650" y2="2118"/><line x1="340" y1="2494" x2="650" y2="2184"/><line x1="340" y1="2560" x2="650" y2="2250"/><line x1="340" y1="2626" x2="650" y2="2316"/><line x1="340" y1="2692" x2="650" y2="2382"/><line x1="340" y1="2758" x2="650" y2="2448"/><line x1="340" y1="2824" x2="650" y2="2514"/><line x1="340" y1="2890" x2="650" y2="2580"/><line x1="340" y1="2956" x2="650" y2="2646"/><line x1="340" y1="3022" x2="650" y2="2712"/><line x1="340" y1="3088" x2="650" y2="2778"/><line x1="340" y1="3154" x2="650" y2="2844"/><line x1="340" y1="3220" x2="650" y2="2910"/><line x1="340" y1="3286" x2="650" y2="2976"/><line x1="340" y1="3352" x2="650" y2="3042"/></g><g clip-path="url(#lC)" stroke="#e4e4e4" stroke-width="16.0" opacity="1.00"><line x1="520" y1="1870" x2="1020" y2="2446"/><line x1="520" y1="1966" x2="1020" y2="2542"/><line x1="520" y1="2062" x2="1020" y2="2638"/><line x1="520" y1="2158" x2="1020" y2="2734"/><line x1="520" y1="2254" x2="1020" y2="2830"/><line x1="520" y1="2350" x2="1020" y2="2926"/><line x1="520" y1="2446" x2="1020" y2="3022"/><line x1="520" y1="2542" x2="1020" y2="3118"/><line x1="520" y1="2638" x2="1020" y2="3214"/><line x1="520" y1="2734" x2="1020" y2="3310"/><line x1="520" y1="2830" x2="1020" y2="3406"/><line x1="520" y1="2926" x2="1020" y2="3502"/><line x1="520" y1="3022" x2="1020" y2="3598"/><line x1="520" y1="3118" x2="1020" y2="3694"/><line x1="520" y1="3214" x2="1020" y2="3790"/><line x1="520" y1="3310" x2="1020" y2="3886"/><line x1="520" y1="3406" x2="1020" y2="3982"/><line x1="520" y1="3502" x2="1020" y2="4078"/><line x1="520" y1="3598" x2="1020" y2="4174"/></g><g clip-path="url(#lC)" stroke="#d2d2d2" stroke-width="22.0" opacity="0.85"><line x1="520" y1="1968" x2="1020" y2="1468"/><line x1="520" y1="2060" x2="1020" y2="1560"/><line x1="520" y1="2152" x2="1020" y2="1652"/><line x1="520" y1="2244" x2="1020" y2="1744"/><line x1="520" y1="2336" x2="1020" y2="1836"/><line x1="520" y1="2428" x2="1020" y2="1928"/><line x1="520" y1="2520" x2="1020" y2="2020"/><line x1="520" y1="2612" x2="1020" y2="2112"/><line x1="520" y1="2704" x2="1020" y2="2204"/><line x1="520" y1="2796" x2="1020" y2="2296"/><line x1="520" y1="2888" x2="1020" y2="2388"/><line x1="520" y1="2980" x2="1020" y2="2480"/><line x1="520" y1="3072" x2="1020" y2="2572"/><line x1="520" y1="3164" x2="1020" y2="2664"/><line x1="520" y1="3256" x2="1020" y2="2756"/><line x1="520" y1="3348" x2="1020" y2="2848"/><line x1="520" y1="3440" x2="1020" y2="2940"/><line x1="520" y1="3532" x2="1020" y2="3032"/></g></g><path d="M284.0,2522.0 C285.0,2538.3 287.3,2580.3 290.0,2620.0 C292.7,2659.7 297.8,2716.7 300.0,2760.0 C302.2,2803.3 303.5,2837.0 303.0,2880.0 C302.5,2923.0 298.0,2995.0 297.0,3018.0" fill="none" stroke="#a2a2a2" stroke-width="26.0" stroke-linecap="butt" opacity="1.00"/><path d="M318.0,2600.0 C319.7,2616.7 325.2,2661.7 328.0,2700.0 C330.8,2738.3 334.7,2788.3 335.0,2830.0 C335.3,2871.7 332.2,2918.7 330.0,2950.0 C327.8,2981.3 323.3,3006.7 322.0,3018.0" fill="none" stroke="#adadad" stroke-width="22.0" stroke-linecap="butt" opacity="1.00"/><path d="M352.0,2615.0 C353.7,2632.5 359.3,2680.8 362.0,2720.0 C364.7,2759.2 368.0,2800.3 368.0,2850.0 C368.0,2899.7 363.0,2990.0 362.0,3018.0" fill="none" stroke="#b6b6b6" stroke-width="20.0" stroke-linecap="butt" opacity="1.00"/><path d="M300.0,2530.0 L310.0,2600.0" fill="none" stroke="#a8a8a8" stroke-width="16.0" stroke-linecap="butt" opacity="1.00"/><path d="M272,2614 L288,2584 L304,2614 Z" fill="#a6a6a6"/><path d="M305,2612 L320,2583 L335,2612 Z" fill="#a6a6a6"/><path d="M341,2625 L355,2598 L369,2625 Z" fill="#a6a6a6"/><path d="M385,2614 L400,2585 L415,2614 Z" fill="#a6a6a6"/><path d="M440,2574 L455,2545 L470,2574 Z" fill="#a6a6a6"/><path d="M510,2554 L525,2525 L540,2554 Z" fill="#a6a6a6"/><path d="M380.0,3000.0 C388.3,2983.3 413.3,2933.3 430.0,2900.0 C446.7,2866.7 463.3,2833.3 480.0,2800.0 C496.7,2766.7 513.3,2730.0 530.0,2700.0 C546.7,2670.0 571.7,2633.3 580.0,2620.0" fill="none" stroke="#bdbdbd" stroke-width="24.0" stroke-linecap="butt" opacity="0.85"/><path d="M962.0,2610.0 C962.7,2633.3 964.0,2701.7 966.0,2750.0 C968.0,2798.3 973.3,2858.3 974.0,2900.0 C974.7,2941.7 970.7,2983.3 970.0,3000.0" fill="none" stroke="#c9c9c9" stroke-width="22.0" stroke-linecap="butt" opacity="1.00"/><path d="M993.0,2610.0 C994.0,2633.3 997.3,2701.7 999.0,2750.0 C1000.7,2798.3 1002.8,2858.3 1003.0,2900.0 C1003.2,2941.7 1000.5,2983.3 1000.0,3000.0" fill="none" stroke="#d0d0d0" stroke-width="12.0" stroke-linecap="butt" opacity="1.00"/><path d="M880.0,2640.0 C886.7,2661.7 908.3,2726.7 920.0,2770.0 C931.7,2813.3 942.5,2861.7 950.0,2900.0 C957.5,2938.3 962.5,2983.3 965.0,3000.0" fill="none" stroke="#d2d2d2" stroke-width="20.0" stroke-linecap="butt" opacity="0.90"/></g><path d="M272.0,2528.0 C266.7,2527.0 250.0,2525.0 240.0,2522.0 C230.0,2519.0 217.8,2515.3 212.0,2510.0 C206.2,2504.7 203.5,2497.0 205.0,2490.0 C206.5,2483.0 213.2,2476.3 221.0,2468.0 C228.8,2459.7 241.5,2447.3 252.0,2440.0 C262.5,2432.7 274.5,2426.0 284.0,2424.0 C293.5,2422.0 301.2,2424.7 309.0,2428.0 C316.8,2431.3 321.7,2440.3 331.0,2444.0 C340.3,2447.7 356.2,2446.8 365.0,2450.0 C373.8,2453.2 378.7,2457.2 384.0,2463.0 C389.3,2468.8 395.3,2476.7 397.0,2485.0 C398.7,2493.3 396.8,2503.8 394.0,2513.0 C391.2,2522.2 382.3,2535.5 380.0,2540.0" fill="none" stroke="#bcbcbc" stroke-width="10.0" stroke-linecap="round" stroke-linejoin="round"/><path d="M272.0,2528.0 C266.7,2527.0 250.0,2525.0 240.0,2522.0 C230.0,2519.0 217.8,2515.3 212.0,2510.0 C206.2,2504.7 203.5,2497.0 205.0,2490.0 C206.5,2483.0 213.2,2476.3 221.0,2468.0 C228.8,2459.7 241.5,2447.3 252.0,2440.0 C262.5,2432.7 274.5,2426.0 284.0,2424.0 C293.5,2422.0 301.2,2424.7 309.0,2428.0 C316.8,2431.3 321.7,2440.3 331.0,2444.0 C340.3,2447.7 356.2,2446.8 365.0,2450.0 C373.8,2453.2 378.7,2457.2 384.0,2463.0 C389.3,2468.8 395.3,2476.7 397.0,2485.0 C398.7,2493.3 396.8,2503.8 394.0,2513.0 C391.2,2522.2 382.3,2535.5 380.0,2540.0" fill="none" stroke="#f6f6f6" stroke-width="4.2" stroke-linecap="round" stroke-linejoin="round"/><path d="M214.0,2512.0 C215.3,2515.8 217.7,2528.3 222.0,2535.0 C226.3,2541.7 234.0,2549.8 240.0,2552.0 C246.0,2554.2 252.5,2551.3 258.0,2548.0 C263.5,2544.7 268.3,2536.3 273.0,2532.0 C277.7,2527.7 283.8,2523.7 286.0,2522.0" fill="none" stroke="#bcbcbc" stroke-width="10.0" stroke-linecap="round" stroke-linejoin="round"/><path d="M214.0,2512.0 C215.3,2515.8 217.7,2528.3 222.0,2535.0 C226.3,2541.7 234.0,2549.8 240.0,2552.0 C246.0,2554.2 252.5,2551.3 258.0,2548.0 C263.5,2544.7 268.3,2536.3 273.0,2532.0 C277.7,2527.7 283.8,2523.7 286.0,2522.0" fill="none" stroke="#f6f6f6" stroke-width="4.2" stroke-linecap="round" stroke-linejoin="round"/><path d="M353.0,2530.0 C352.8,2524.2 351.2,2503.7 352.0,2495.0 C352.8,2486.3 355.7,2480.5 358.0,2478.0 C360.3,2475.5 365.3,2473.0 366.0,2480.0 C366.7,2487.0 362.7,2513.3 362.0,2520.0" fill="none" stroke="#bcbcbc" stroke-width="10.0" stroke-linecap="round" stroke-linejoin="round"/><path d="M353.0,2530.0 C352.8,2524.2 351.2,2503.7 352.0,2495.0 C352.8,2486.3 355.7,2480.5 358.0,2478.0 C360.3,2475.5 365.3,2473.0 366.0,2480.0 C366.7,2487.0 362.7,2513.3 362.0,2520.0" fill="none" stroke="#f6f6f6" stroke-width="4.2" stroke-linecap="round" stroke-linejoin="round"/><path d="M410.0,2530.0 C411.0,2518.3 414.0,2477.0 416.0,2460.0 C418.0,2443.0 417.8,2437.5 422.0,2428.0 C426.2,2418.5 432.7,2409.2 441.0,2403.0 C449.3,2396.8 461.7,2392.5 472.0,2391.0 C482.3,2389.5 493.5,2390.3 503.0,2394.0 C512.5,2397.7 521.2,2404.7 529.0,2413.0 C536.8,2421.3 543.8,2434.7 550.0,2444.0 C556.2,2453.3 562.3,2461.2 566.0,2469.0 C569.7,2476.8 572.0,2482.2 572.0,2491.0 C572.0,2499.8 568.0,2512.8 566.0,2522.0 C564.0,2531.2 561.0,2542.0 560.0,2546.0" fill="none" stroke="#bcbcbc" stroke-width="10.0" stroke-linecap="round" stroke-linejoin="round"/><path d="M410.0,2530.0 C411.0,2518.3 414.0,2477.0 416.0,2460.0 C418.0,2443.0 417.8,2437.5 422.0,2428.0 C426.2,2418.5 432.7,2409.2 441.0,2403.0 C449.3,2396.8 461.7,2392.5 472.0,2391.0 C482.3,2389.5 493.5,2390.3 503.0,2394.0 C512.5,2397.7 521.2,2404.7 529.0,2413.0 C536.8,2421.3 543.8,2434.7 550.0,2444.0 C556.2,2453.3 562.3,2461.2 566.0,2469.0 C569.7,2476.8 572.0,2482.2 572.0,2491.0 C572.0,2499.8 568.0,2512.8 566.0,2522.0 C564.0,2531.2 561.0,2542.0 560.0,2546.0" fill="none" stroke="#f6f6f6" stroke-width="4.2" stroke-linecap="round" stroke-linejoin="round"/><path d="M419.0,2532.0 C421.5,2526.7 427.8,2509.5 434.0,2500.0 C440.2,2490.5 447.0,2481.7 456.0,2475.0 C465.0,2468.3 477.5,2462.0 488.0,2460.0 C498.5,2458.0 510.2,2459.3 519.0,2463.0 C527.8,2466.7 535.2,2474.7 541.0,2482.0 C546.8,2489.3 549.8,2496.3 554.0,2507.0 C558.2,2517.7 564.0,2539.5 566.0,2546.0" fill="none" stroke="#bcbcbc" stroke-width="10.0" stroke-linecap="round" stroke-linejoin="round"/><path d="M419.0,2532.0 C421.5,2526.7 427.8,2509.5 434.0,2500.0 C440.2,2490.5 447.0,2481.7 456.0,2475.0 C465.0,2468.3 477.5,2462.0 488.0,2460.0 C498.5,2458.0 510.2,2459.3 519.0,2463.0 C527.8,2466.7 535.2,2474.7 541.0,2482.0 C546.8,2489.3 549.8,2496.3 554.0,2507.0 C558.2,2517.7 564.0,2539.5 566.0,2546.0" fill="none" stroke="#f6f6f6" stroke-width="4.2" stroke-linecap="round" stroke-linejoin="round"/><path d="M600.0,2530.0 C604.8,2522.0 621.5,2493.7 629.0,2482.0 C636.5,2470.3 637.2,2465.3 645.0,2460.0 C652.8,2454.7 666.8,2451.7 676.0,2450.0 C685.2,2448.3 696.0,2450.0 700.0,2450.0" fill="none" stroke="#bcbcbc" stroke-width="10.0" stroke-linecap="round" stroke-linejoin="round"/><path d="M600.0,2530.0 C604.8,2522.0 621.5,2493.7 629.0,2482.0 C636.5,2470.3 637.2,2465.3 645.0,2460.0 C652.8,2454.7 666.8,2451.7 676.0,2450.0 C685.2,2448.3 696.0,2450.0 700.0,2450.0" fill="none" stroke="#f6f6f6" stroke-width="4.2" stroke-linecap="round" stroke-linejoin="round"/><path d="M640.0,2482.0 C645.2,2477.2 658.0,2459.3 671.0,2453.0 C684.0,2446.7 702.3,2444.5 718.0,2444.0 C733.7,2443.5 751.8,2446.3 765.0,2450.0 C778.2,2453.7 790.7,2460.7 797.0,2466.0 C803.3,2471.3 804.2,2476.8 803.0,2482.0 C801.8,2487.2 797.3,2491.8 790.0,2497.0 C782.7,2502.2 769.3,2506.2 759.0,2513.0 C748.7,2519.8 736.3,2529.7 728.0,2538.0 C719.7,2546.3 712.2,2558.8 709.0,2563.0" fill="none" stroke="#bcbcbc" stroke-width="10.0" stroke-linecap="round" stroke-linejoin="round"/><path d="M640.0,2482.0 C645.2,2477.2 658.0,2459.3 671.0,2453.0 C684.0,2446.7 702.3,2444.5 718.0,2444.0 C733.7,2443.5 751.8,2446.3 765.0,2450.0 C778.2,2453.7 790.7,2460.7 797.0,2466.0 C803.3,2471.3 804.2,2476.8 803.0,2482.0 C801.8,2487.2 797.3,2491.8 790.0,2497.0 C782.7,2502.2 769.3,2506.2 759.0,2513.0 C748.7,2519.8 736.3,2529.7 728.0,2538.0 C719.7,2546.3 712.2,2558.8 709.0,2563.0" fill="none" stroke="#f6f6f6" stroke-width="4.2" stroke-linecap="round" stroke-linejoin="round"/><path d="M734.0,2601.0 C739.2,2591.5 755.7,2555.5 765.0,2544.0 C774.3,2532.5 781.7,2533.5 790.0,2532.0 C798.3,2530.5 808.7,2530.8 815.0,2535.0 C821.3,2539.2 825.3,2546.0 828.0,2557.0 C830.7,2568.0 830.5,2593.7 831.0,2601.0" fill="none" stroke="#bcbcbc" stroke-width="10.0" stroke-linecap="round" stroke-linejoin="round"/><path d="M734.0,2601.0 C739.2,2591.5 755.7,2555.5 765.0,2544.0 C774.3,2532.5 781.7,2533.5 790.0,2532.0 C798.3,2530.5 808.7,2530.8 815.0,2535.0 C821.3,2539.2 825.3,2546.0 828.0,2557.0 C830.7,2568.0 830.5,2593.7 831.0,2601.0" fill="none" stroke="#f6f6f6" stroke-width="4.2" stroke-linecap="round" stroke-linejoin="round"/><path d="M859.0,2590.0 C858.0,2581.3 853.0,2550.8 853.0,2538.0 C853.0,2525.2 853.8,2519.8 859.0,2513.0 C864.2,2506.2 876.2,2502.2 884.0,2497.0 C891.8,2491.8 900.7,2488.2 906.0,2482.0 C911.3,2475.8 914.3,2469.0 916.0,2460.0 C917.7,2451.0 915.0,2437.0 916.0,2428.0 C917.0,2419.0 916.8,2412.2 922.0,2406.0 C927.2,2399.8 939.2,2395.2 947.0,2391.0 C954.8,2386.8 962.7,2385.2 969.0,2381.0 C975.3,2376.8 981.3,2369.7 985.0,2366.0 C988.7,2362.3 989.5,2358.5 991.0,2359.0 C992.5,2359.5 996.0,2364.8 994.0,2369.0 C992.0,2373.2 984.7,2379.8 979.0,2384.0 C973.3,2388.2 964.3,2389.2 960.0,2394.0 C955.7,2398.8 952.5,2406.8 953.0,2413.0 C953.5,2419.2 957.7,2425.8 963.0,2431.0 C968.3,2436.2 977.7,2439.2 985.0,2444.0 C992.3,2448.8 1001.3,2453.7 1007.0,2460.0 C1012.7,2466.3 1017.0,2474.2 1019.0,2482.0 C1021.0,2489.8 1020.5,2497.7 1019.0,2507.0 C1017.5,2516.3 1015.7,2526.5 1010.0,2538.0 C1004.3,2549.5 994.5,2564.5 985.0,2576.0 C975.5,2587.5 958.3,2601.8 953.0,2607.0" fill="none" stroke="#bcbcbc" stroke-width="10.0" stroke-linecap="round" stroke-linejoin="round"/><path d="M859.0,2590.0 C858.0,2581.3 853.0,2550.8 853.0,2538.0 C853.0,2525.2 853.8,2519.8 859.0,2513.0 C864.2,2506.2 876.2,2502.2 884.0,2497.0 C891.8,2491.8 900.7,2488.2 906.0,2482.0 C911.3,2475.8 914.3,2469.0 916.0,2460.0 C917.7,2451.0 915.0,2437.0 916.0,2428.0 C917.0,2419.0 916.8,2412.2 922.0,2406.0 C927.2,2399.8 939.2,2395.2 947.0,2391.0 C954.8,2386.8 962.7,2385.2 969.0,2381.0 C975.3,2376.8 981.3,2369.7 985.0,2366.0 C988.7,2362.3 989.5,2358.5 991.0,2359.0 C992.5,2359.5 996.0,2364.8 994.0,2369.0 C992.0,2373.2 984.7,2379.8 979.0,2384.0 C973.3,2388.2 964.3,2389.2 960.0,2394.0 C955.7,2398.8 952.5,2406.8 953.0,2413.0 C953.5,2419.2 957.7,2425.8 963.0,2431.0 C968.3,2436.2 977.7,2439.2 985.0,2444.0 C992.3,2448.8 1001.3,2453.7 1007.0,2460.0 C1012.7,2466.3 1017.0,2474.2 1019.0,2482.0 C1021.0,2489.8 1020.5,2497.7 1019.0,2507.0 C1017.5,2516.3 1015.7,2526.5 1010.0,2538.0 C1004.3,2549.5 994.5,2564.5 985.0,2576.0 C975.5,2587.5 958.3,2601.8 953.0,2607.0" fill="none" stroke="#f6f6f6" stroke-width="4.2" stroke-linecap="round" stroke-linejoin="round"/><path d="M953.0,2616.0 C958.3,2610.8 974.5,2595.3 985.0,2585.0 C995.5,2574.7 1005.7,2563.8 1016.0,2554.0 C1026.3,2544.2 1037.5,2531.8 1047.0,2526.0 C1056.5,2520.2 1066.7,2518.5 1073.0,2519.0 C1079.3,2519.5 1082.5,2523.7 1085.0,2529.0 C1087.5,2534.3 1085.3,2545.3 1088.0,2551.0 C1090.7,2556.7 1094.2,2560.5 1101.0,2563.0 C1107.8,2565.5 1122.8,2564.3 1129.0,2566.0 C1135.2,2567.7 1138.0,2569.8 1138.0,2573.0 C1138.0,2576.2 1135.7,2583.0 1129.0,2585.0 C1122.3,2587.0 1106.3,2586.5 1098.0,2585.0 C1089.7,2583.5 1084.8,2575.5 1079.0,2576.0 C1073.2,2576.5 1068.3,2582.8 1063.0,2588.0 C1057.7,2593.2 1054.8,2600.7 1047.0,2607.0 C1039.2,2613.3 1021.2,2622.8 1016.0,2626.0" fill="none" stroke="#bcbcbc" stroke-width="10.0" stroke-linecap="round" stroke-linejoin="round"/><path d="M953.0,2616.0 C958.3,2610.8 974.5,2595.3 985.0,2585.0 C995.5,2574.7 1005.7,2563.8 1016.0,2554.0 C1026.3,2544.2 1037.5,2531.8 1047.0,2526.0 C1056.5,2520.2 1066.7,2518.5 1073.0,2519.0 C1079.3,2519.5 1082.5,2523.7 1085.0,2529.0 C1087.5,2534.3 1085.3,2545.3 1088.0,2551.0 C1090.7,2556.7 1094.2,2560.5 1101.0,2563.0 C1107.8,2565.5 1122.8,2564.3 1129.0,2566.0 C1135.2,2567.7 1138.0,2569.8 1138.0,2573.0 C1138.0,2576.2 1135.7,2583.0 1129.0,2585.0 C1122.3,2587.0 1106.3,2586.5 1098.0,2585.0 C1089.7,2583.5 1084.8,2575.5 1079.0,2576.0 C1073.2,2576.5 1068.3,2582.8 1063.0,2588.0 C1057.7,2593.2 1054.8,2600.7 1047.0,2607.0 C1039.2,2613.3 1021.2,2622.8 1016.0,2626.0" fill="none" stroke="#f6f6f6" stroke-width="4.2" stroke-linecap="round" stroke-linejoin="round"/><path d="M300.0,3018.0 C303.7,3017.3 316.8,3012.5 322.0,3014.0 C327.2,3015.5 325.8,3024.3 331.0,3027.0 C336.2,3029.7 349.3,3029.5 353.0,3030.0" fill="none" stroke="#bcbcbc" stroke-width="10.0" stroke-linecap="round" stroke-linejoin="round"/><path d="M300.0,3018.0 C303.7,3017.3 316.8,3012.5 322.0,3014.0 C327.2,3015.5 325.8,3024.3 331.0,3027.0 C336.2,3029.7 349.3,3029.5 353.0,3030.0" fill="none" stroke="#f6f6f6" stroke-width="4.2" stroke-linecap="round" stroke-linejoin="round"/><path d="M359.0,3027.0 C367.3,3027.0 391.2,3028.0 409.0,3027.0 C426.8,3026.0 454.5,3021.0 466.0,3021.0 C477.5,3021.0 473.8,3025.5 478.0,3027.0 C482.2,3028.5 485.7,3032.2 491.0,3030.0 C496.3,3027.8 504.3,3020.8 510.0,3014.0 C515.7,3007.2 523.0,2996.3 525.0,2989.0 C527.0,2981.7 522.5,2973.2 522.0,2970.0" fill="none" stroke="#bcbcbc" stroke-width="10.0" stroke-linecap="round" stroke-linejoin="round"/><path d="M359.0,3027.0 C367.3,3027.0 391.2,3028.0 409.0,3027.0 C426.8,3026.0 454.5,3021.0 466.0,3021.0 C477.5,3021.0 473.8,3025.5 478.0,3027.0 C482.2,3028.5 485.7,3032.2 491.0,3030.0 C496.3,3027.8 504.3,3020.8 510.0,3014.0 C515.7,3007.2 523.0,2996.3 525.0,2989.0 C527.0,2981.7 522.5,2973.2 522.0,2970.0" fill="none" stroke="#f6f6f6" stroke-width="4.2" stroke-linecap="round" stroke-linejoin="round"/><path d="M441.0,3040.0 C446.2,3040.5 461.5,3044.2 472.0,3043.0 C482.5,3041.8 496.2,3037.8 504.0,3033.0 C511.8,3028.2 516.5,3017.2 519.0,3014.0" fill="none" stroke="#bcbcbc" stroke-width="10.0" stroke-linecap="round" stroke-linejoin="round"/><path d="M441.0,3040.0 C446.2,3040.5 461.5,3044.2 472.0,3043.0 C482.5,3041.8 496.2,3037.8 504.0,3033.0 C511.8,3028.2 516.5,3017.2 519.0,3014.0" fill="none" stroke="#f6f6f6" stroke-width="4.2" stroke-linecap="round" stroke-linejoin="round"/><path d="M428.0,3033.0 C424.8,3036.2 412.7,3044.7 409.0,3052.0 C405.3,3059.3 404.8,3068.7 406.0,3077.0 C407.2,3085.3 410.2,3093.7 416.0,3102.0 C421.8,3110.3 431.7,3120.2 441.0,3127.0 C450.3,3133.8 466.8,3140.3 472.0,3143.0" fill="none" stroke="#bcbcbc" stroke-width="10.0" stroke-linecap="round" stroke-linejoin="round"/><path d="M428.0,3033.0 C424.8,3036.2 412.7,3044.7 409.0,3052.0 C405.3,3059.3 404.8,3068.7 406.0,3077.0 C407.2,3085.3 410.2,3093.7 416.0,3102.0 C421.8,3110.3 431.7,3120.2 441.0,3127.0 C450.3,3133.8 466.8,3140.3 472.0,3143.0" fill="none" stroke="#f6f6f6" stroke-width="4.2" stroke-linecap="round" stroke-linejoin="round"/><path d="M557.0,3030.0 C558.5,3032.7 559.2,3040.2 566.0,3046.0 C572.8,3051.8 587.5,3060.8 598.0,3065.0 C608.5,3069.2 622.3,3071.0 629.0,3071.0 C635.7,3071.0 632.8,3071.3 638.0,3065.0 C643.2,3058.7 652.2,3042.5 660.0,3033.0 C667.8,3023.5 680.8,3012.2 685.0,3008.0" fill="none" stroke="#bcbcbc" stroke-width="10.0" stroke-linecap="round" stroke-linejoin="round"/><path d="M557.0,3030.0 C558.5,3032.7 559.2,3040.2 566.0,3046.0 C572.8,3051.8 587.5,3060.8 598.0,3065.0 C608.5,3069.2 622.3,3071.0 629.0,3071.0 C635.7,3071.0 632.8,3071.3 638.0,3065.0 C643.2,3058.7 652.2,3042.5 660.0,3033.0 C667.8,3023.5 680.8,3012.2 685.0,3008.0" fill="none" stroke="#f6f6f6" stroke-width="4.2" stroke-linecap="round" stroke-linejoin="round"/><path d="M582.0,2970.0 C579.3,2974.8 570.2,2989.0 566.0,2999.0 C561.8,3009.0 558.5,3024.8 557.0,3030.0" fill="none" stroke="#bcbcbc" stroke-width="10.0" stroke-linecap="round" stroke-linejoin="round"/><path d="M582.0,2970.0 C579.3,2974.8 570.2,2989.0 566.0,2999.0 C561.8,3009.0 558.5,3024.8 557.0,3030.0" fill="none" stroke="#f6f6f6" stroke-width="4.2" stroke-linecap="round" stroke-linejoin="round"/><path d="M640.0,3062.0 C645.2,3063.5 660.5,3070.0 671.0,3071.0 C681.5,3072.0 692.5,3072.2 703.0,3068.0 C713.5,3063.8 727.2,3053.8 734.0,3046.0 C740.8,3038.2 744.0,3030.5 744.0,3021.0 C744.0,3011.5 735.7,2994.3 734.0,2989.0" fill="none" stroke="#bcbcbc" stroke-width="10.0" stroke-linecap="round" stroke-linejoin="round"/><path d="M640.0,3062.0 C645.2,3063.5 660.5,3070.0 671.0,3071.0 C681.5,3072.0 692.5,3072.2 703.0,3068.0 C713.5,3063.8 727.2,3053.8 734.0,3046.0 C740.8,3038.2 744.0,3030.5 744.0,3021.0 C744.0,3011.5 735.7,2994.3 734.0,2989.0" fill="none" stroke="#f6f6f6" stroke-width="4.2" stroke-linecap="round" stroke-linejoin="round"/><path d="M750.0,3055.0 C750.5,3051.3 750.5,3039.8 753.0,3033.0 C755.5,3026.2 757.7,3019.7 765.0,3014.0 C772.3,3008.3 786.5,3003.2 797.0,2999.0 C807.5,2994.8 817.7,2990.7 828.0,2989.0 C838.3,2987.3 853.8,2989.0 859.0,2989.0" fill="none" stroke="#bcbcbc" stroke-width="10.0" stroke-linecap="round" stroke-linejoin="round"/><path d="M750.0,3055.0 C750.5,3051.3 750.5,3039.8 753.0,3033.0 C755.5,3026.2 757.7,3019.7 765.0,3014.0 C772.3,3008.3 786.5,3003.2 797.0,2999.0 C807.5,2994.8 817.7,2990.7 828.0,2989.0 C838.3,2987.3 853.8,2989.0 859.0,2989.0" fill="none" stroke="#f6f6f6" stroke-width="4.2" stroke-linecap="round" stroke-linejoin="round"/><path d="M750.0,3058.0 C755.2,3057.5 768.0,3057.5 781.0,3055.0 C794.0,3052.5 815.0,3047.2 828.0,3043.0 C841.0,3038.8 852.7,3034.8 859.0,3030.0 C865.3,3025.2 864.8,3016.7 866.0,3014.0" fill="none" stroke="#bcbcbc" stroke-width="10.0" stroke-linecap="round" stroke-linejoin="round"/><path d="M750.0,3058.0 C755.2,3057.5 768.0,3057.5 781.0,3055.0 C794.0,3052.5 815.0,3047.2 828.0,3043.0 C841.0,3038.8 852.7,3034.8 859.0,3030.0 C865.3,3025.2 864.8,3016.7 866.0,3014.0" fill="none" stroke="#f6f6f6" stroke-width="4.2" stroke-linecap="round" stroke-linejoin="round"/><path d="M869.0,3046.0 C871.7,3050.2 876.2,3064.8 885.0,3071.0 C893.8,3077.2 911.7,3082.0 922.0,3083.0 C932.3,3084.0 941.2,3080.5 947.0,3077.0 C952.8,3073.5 957.0,3068.2 957.0,3062.0 C957.0,3055.8 948.7,3043.7 947.0,3040.0" fill="none" stroke="#bcbcbc" stroke-width="10.0" stroke-linecap="round" stroke-linejoin="round"/><path d="M869.0,3046.0 C871.7,3050.2 876.2,3064.8 885.0,3071.0 C893.8,3077.2 911.7,3082.0 922.0,3083.0 C932.3,3084.0 941.2,3080.5 947.0,3077.0 C952.8,3073.5 957.0,3068.2 957.0,3062.0 C957.0,3055.8 948.7,3043.7 947.0,3040.0" fill="none" stroke="#f6f6f6" stroke-width="4.2" stroke-linecap="round" stroke-linejoin="round"/><path d="M954.0,3077.0 C958.2,3077.5 972.3,3082.0 979.0,3080.0 C985.7,3078.0 991.0,3071.7 994.0,3065.0 C997.0,3058.3 997.5,3048.5 997.0,3040.0 C996.5,3031.5 992.0,3018.3 991.0,3014.0" fill="none" stroke="#bcbcbc" stroke-width="10.0" stroke-linecap="round" stroke-linejoin="round"/><path d="M954.0,3077.0 C958.2,3077.5 972.3,3082.0 979.0,3080.0 C985.7,3078.0 991.0,3071.7 994.0,3065.0 C997.0,3058.3 997.5,3048.5 997.0,3040.0 C996.5,3031.5 992.0,3018.3 991.0,3014.0" fill="none" stroke="#f6f6f6" stroke-width="4.2" stroke-linecap="round" stroke-linejoin="round"/><path d="M985.0,2996.0 C987.7,2992.3 994.2,2978.2 1001.0,2974.0 C1007.8,2969.8 1019.3,2969.5 1026.0,2971.0 C1032.7,2972.5 1039.0,2975.8 1041.0,2983.0 C1043.0,2990.2 1040.0,3003.5 1038.0,3014.0 C1036.0,3024.5 1029.5,3039.2 1029.0,3046.0 C1028.5,3052.8 1035.5,3054.5 1035.0,3055.0 C1034.5,3055.5 1031.7,3052.7 1026.0,3049.0 C1020.3,3045.3 1005.2,3035.7 1001.0,3033.0" fill="none" stroke="#bcbcbc" stroke-width="10.0" stroke-linecap="round" stroke-linejoin="round"/><path d="M985.0,2996.0 C987.7,2992.3 994.2,2978.2 1001.0,2974.0 C1007.8,2969.8 1019.3,2969.5 1026.0,2971.0 C1032.7,2972.5 1039.0,2975.8 1041.0,2983.0 C1043.0,2990.2 1040.0,3003.5 1038.0,3014.0 C1036.0,3024.5 1029.5,3039.2 1029.0,3046.0 C1028.5,3052.8 1035.5,3054.5 1035.0,3055.0 C1034.5,3055.5 1031.7,3052.7 1026.0,3049.0 C1020.3,3045.3 1005.2,3035.7 1001.0,3033.0" fill="none" stroke="#f6f6f6" stroke-width="4.2" stroke-linecap="round" stroke-linejoin="round"/><ellipse cx="690" cy="2737" rx="92" ry="120" fill="#8fe2e2"/><ellipse cx="685" cy="2713" rx="69" ry="66" fill="#a6f0f0"/><ellipse cx="690" cy="2797" rx="74" ry="46" fill="#5fa9a9" opacity="0.55"/><circle cx="758" cy="2733" r="19" fill="#f27e7e"/><circle cx="753" cy="2781" r="23" fill="#f27e7e"/><circle cx="732" cy="2806" r="19" fill="#e86464"/><circle cx="706" cy="2828" r="23" fill="#f27e7e"/><circle cx="662" cy="2826" r="21" fill="#f27e7e"/><circle cx="632" cy="2807" r="21" fill="#f27e7e"/><circle cx="622" cy="2767" r="21" fill="#f27e7e"/><circle cx="617" cy="2712" r="21" fill="#f27e7e"/><circle cx="638" cy="2673" r="21" fill="#f27e7e"/><circle cx="666" cy="2647" r="22" fill="#e86464"/><circle cx="699" cy="2636" r="20" fill="#f48a8a"/><circle cx="737" cy="2660" r="19" fill="#ee7070"/><circle cx="753" cy="2689" r="22" fill="#f48a8a"/><circle cx="680" cy="2789" r="17" fill="#f07a7a" opacity="0.9"/><circle cx="661" cy="2759" r="18" fill="#f07a7a" opacity="0.9"/><circle cx="680" cy="2738" r="20" fill="#f07a7a" opacity="0.9"/><circle cx="693" cy="2701" r="21" fill="#f07a7a" opacity="0.9"/><circle cx="678" cy="2775" r="19" fill="#f07a7a" opacity="0.9"/><circle cx="739" cy="2740" r="14" fill="#f8f8f8" stroke="#c4c4c4" stroke-width="2"/><circle cx="718" cy="2790" r="13" fill="#f8f8f8" stroke="#c4c4c4" stroke-width="2"/><circle cx="714" cy="2803" r="13" fill="#f8f8f8" stroke="#c4c4c4" stroke-width="2"/><circle cx="647" cy="2790" r="12" fill="#f8f8f8" stroke="#c4c4c4" stroke-width="2"/><circle cx="639" cy="2766" r="11" fill="#f8f8f8" stroke="#c4c4c4" stroke-width="2"/><circle cx="651" cy="2720" r="11" fill="#f8f8f8" stroke="#c4c4c4" stroke-width="2"/><circle cx="649" cy="2684" r="11" fill="#f8f8f8" stroke="#c4c4c4" stroke-width="2"/><circle cx="691" cy="2675" r="14" fill="#f8f8f8" stroke="#c4c4c4" stroke-width="2"/><circle cx="719" cy="2685" r="13" fill="#f8f8f8" stroke="#c4c4c4" stroke-width="2"/><g transform="translate(180,2340) scale(0.61403)"><path d="M530,545 L560,515 L600,525 L620,500 L650,520 L640,490" fill="none" stroke="#1010ee" stroke-width="14.0" stroke-linecap="round" stroke-linejoin="round"/><path d="M440,740 L432,700 L470,690 L482,650 L520,642 L540,610 L565,600" fill="none" stroke="#1010ee" stroke-width="14.0" stroke-linecap="round" stroke-linejoin="round"/><path d="M610,560 L650,575 L690,560 M650,575 L660,615 L625,625" fill="none" stroke="#e01818" stroke-width="12.0" stroke-linecap="round" stroke-linejoin="round"/><path d="M610,665 L645,680 L680,690 M645,680 L655,720" fill="none" stroke="#f0e020" stroke-width="12.0" stroke-linecap="round" stroke-linejoin="round"/><path d="M520,700 L560,720 L600,760 M560,720 L540,770 M560,720 L600,715" fill="none" stroke="#20d020" stroke-width="12.0" stroke-linecap="round" stroke-linejoin="round"/><path d="M580,735 L615,750 L645,745 L620,775" fill="none" stroke="#e01818" stroke-width="12.0" stroke-linecap="round" stroke-linejoin="round"/><path d="M990,570 L1040,560 L1060,580 L1080,545 M1060,580 L1060,620 L1090,650 L1110,690 L1080,700 L1060,660 L1090,650" fill="none" stroke="#f0e020" stroke-width="12.0" stroke-linecap="round" stroke-linejoin="round"/><path d="M920,700 L950,720 L960,770 L940,790 M950,720 L985,705" fill="none" stroke="#e01818" stroke-width="13.0" stroke-linecap="round" stroke-linejoin="round"/><path d="M1020,735 L1060,720 L1090,740 L1090,790 M1060,720 L1050,770" fill="none" stroke="#ee5555" stroke-width="12.0" stroke-linecap="round" stroke-linejoin="round"/><path d="M960,780 L1000,800 L1010,840 L1050,880 M1000,800 L1040,790" fill="none" stroke="#f4ec80" stroke-width="12.0" stroke-linecap="round" stroke-linejoin="round"/><path d="M880,890 L910,910 L930,960 M910,910 L960,900 L985,930" fill="none" stroke="#6070f0" stroke-width="12.0" stroke-linecap="round" stroke-linejoin="round"/><path d="M630,830 L660,820 L690,850 L720,860 M640,830 L650,890" fill="none" stroke="#20d020" stroke-width="12.0" stroke-linecap="round" stroke-linejoin="round"/><path d="M700,800 L740,830 L780,840" fill="none" stroke="#30c040" stroke-width="12.0" stroke-linecap="round" stroke-linejoin="round"/><path d="M840,700 L870,740 L860,790" fill="none" stroke="#30b060" stroke-width="12.0" stroke-linecap="round" stroke-linejoin="round"/><path d="M780,540 L800,575 L830,580" fill="none" stroke="#7a10a0" stroke-width="10.0" stroke-linecap="round" stroke-linejoin="round"/><path d="M880,560 L920,580 L960,560" fill="none" stroke="#6070f0" stroke-width="9.0" stroke-linecap="round" stroke-linejoin="round"/></g><defs><filter id="soft157" x="-5%" y="-5%" width="110%" height="110%"><feGaussianBlur stdDeviation="1.6"/></filter></defs><g filter="url(#soft157)"><defs><clipPath id="rb"><path d="M1284,2540 C1330,2560 1400,2590 1500,2600 C1560,2605 1620,2640 1700,2660 C1780,2680 1880,2690 2003,2700 L2003,2800 L2000,3062 C1950,3070 1880,3065 1800,3060 C1700,3080 1600,3075 1500,3070 C1420,3065 1340,3040 1284,3022 C1282,2900 1283,2700 1284,2540 Z"/></clipPath><clipPath id="rc"><path d="M1336,2590 L1560,2605 L1622,2850 L1604,3002 L1336,3008 Z"/></clipPath><clipPath id="rm"><path d="M1560,2605 L1800,2690 L1800,3062 L1604,3062 L1622,2850 Z"/></clipPath><clipPath id="rr"><path d="M1790,2690 C1850,2680 1950,2690 2003,2700 L2003,3050 L1790,3062 Z"/></clipPath></defs><path d="M1284,2540 C1330,2560 1400,2590 1500,2600 C1560,2605 1620,2640 1700,2660 C1780,2680 1880,2690 2003,2700 L2003,2800 L2000,3062 C1950,3070 1880,3065 1800,3060 C1700,3080 1600,3075 1500,3070 C1420,3065 1340,3040 1284,3022 C1282,2900 1283,2700 1284,2540 Z" fill="#f8f8f8"/><g clip-path="url(#rc)" stroke="#cdcdcd" stroke-width="24.0" opacity="1.00"><line x1="1320" y1="2198" x2="1640" y2="2518"/><line x1="1320" y1="2270" x2="1640" y2="2590"/><line x1="1320" y1="2342" x2="1640" y2="2662"/><line x1="1320" y1="2414" x2="1640" y2="2734"/><line x1="1320" y1="2486" x2="1640" y2="2806"/><line x1="1320" y1="2558" x2="1640" y2="2878"/><line x1="1320" y1="2630" x2="1640" y2="2950"/><line x1="1320" y1="2702" x2="1640" y2="3022"/><line x1="1320" y1="2774" x2="1640" y2="3094"/><line x1="1320" y1="2846" x2="1640" y2="3166"/><line x1="1320" y1="2918" x2="1640" y2="3238"/><line x1="1320" y1="2990" x2="1640" y2="3310"/><line x1="1320" y1="3062" x2="1640" y2="3382"/><line x1="1320" y1="3134" x2="1640" y2="3454"/><line x1="1320" y1="3206" x2="1640" y2="3526"/><line x1="1320" y1="3278" x2="1640" y2="3598"/><line x1="1320" y1="3350" x2="1640" y2="3670"/></g><g clip-path="url(#rc)" stroke="#a6a6a6" stroke-width="28.0" opacity="0.95"><line x1="1320" y1="2266" x2="1640" y2="1994"/><line x1="1320" y1="2334" x2="1640" y2="2062"/><line x1="1320" y1="2402" x2="1640" y2="2130"/><line x1="1320" y1="2470" x2="1640" y2="2198"/><line x1="1320" y1="2538" x2="1640" y2="2266"/><line x1="1320" y1="2606" x2="1640" y2="2334"/><line x1="1320" y1="2674" x2="1640" y2="2402"/><line x1="1320" y1="2742" x2="1640" y2="2470"/><line x1="1320" y1="2810" x2="1640" y2="2538"/><line x1="1320" y1="2878" x2="1640" y2="2606"/><line x1="1320" y1="2946" x2="1640" y2="2674"/><line x1="1320" y1="3014" x2="1640" y2="2742"/><line x1="1320" y1="3082" x2="1640" y2="2810"/><line x1="1320" y1="3150" x2="1640" y2="2878"/><line x1="1320" y1="3218" x2="1640" y2="2946"/><line x1="1320" y1="3286" x2="1640" y2="3014"/></g><g clip-path="url(#rm)" stroke="#e0e0e0" stroke-width="22.0" opacity="1.00"><line x1="1540" y1="2250" x2="1820" y2="2530"/><line x1="1540" y1="2320" x2="1820" y2="2600"/><line x1="1540" y1="2390" x2="1820" y2="2670"/><line x1="1540" y1="2460" x2="1820" y2="2740"/><line x1="1540" y1="2530" x2="1820" y2="2810"/><line x1="1540" y1="2600" x2="1820" y2="2880"/><line x1="1540" y1="2670" x2="1820" y2="2950"/><line x1="1540" y1="2740" x2="1820" y2="3020"/><line x1="1540" y1="2810" x2="1820" y2="3090"/><line x1="1540" y1="2880" x2="1820" y2="3160"/><line x1="1540" y1="2950" x2="1820" y2="3230"/><line x1="1540" y1="3020" x2="1820" y2="3300"/><line x1="1540" y1="3090" x2="1820" y2="3370"/><line x1="1540" y1="3160" x2="1820" y2="3440"/><line x1="1540" y1="3230" x2="1820" y2="3510"/><line x1="1540" y1="3300" x2="1820" y2="3580"/><line x1="1540" y1="3370" x2="1820" y2="3650"/></g><g clip-path="url(#rm)" stroke="#cfcfcf" stroke-width="24.0" opacity="0.85"><line x1="1540" y1="2308" x2="1820" y2="2070"/><line x1="1540" y1="2378" x2="1820" y2="2140"/><line x1="1540" y1="2448" x2="1820" y2="2210"/><line x1="1540" y1="2518" x2="1820" y2="2280"/><line x1="1540" y1="2588" x2="1820" y2="2350"/><line x1="1540" y1="2658" x2="1820" y2="2420"/><line x1="1540" y1="2728" x2="1820" y2="2490"/><line x1="1540" y1="2798" x2="1820" y2="2560"/><line x1="1540" y1="2868" x2="1820" y2="2630"/><line x1="1540" y1="2938" x2="1820" y2="2700"/><line x1="1540" y1="3008" x2="1820" y2="2770"/><line x1="1540" y1="3078" x2="1820" y2="2840"/><line x1="1540" y1="3148" x2="1820" y2="2910"/><line x1="1540" y1="3218" x2="1820" y2="2980"/><line x1="1540" y1="3288" x2="1820" y2="3050"/><line x1="1540" y1="3358" x2="1820" y2="3120"/></g><g clip-path="url(#rr)" stroke="#bababa" stroke-width="32.0" opacity="1.00"><line x1="1770" y1="2196" x2="2020" y2="2596"/><line x1="1770" y1="2296" x2="2020" y2="2696"/><line x1="1770" y1="2396" x2="2020" y2="2796"/><line x1="1770" y1="2496" x2="2020" y2="2896"/><line x1="1770" y1="2596" x2="2020" y2="2996"/><line x1="1770" y1="2696" x2="2020" y2="3096"/><line x1="1770" y1="2796" x2="2020" y2="3196"/><line x1="1770" y1="2896" x2="2020" y2="3296"/><line x1="1770" y1="2996" x2="2020" y2="3396"/><line x1="1770" y1="3096" x2="2020" y2="3496"/><line x1="1770" y1="3196" x2="2020" y2="3596"/><line x1="1770" y1="3296" x2="2020" y2="3696"/><line x1="1770" y1="3396" x2="2020" y2="3796"/><line x1="1770" y1="3496" x2="2020" y2="3896"/></g><g clip-path="url(#rr)" stroke="#d0d0d0" stroke-width="14.0" opacity="0.80"><line x1="1770" y1="2370" x2="2020" y2="2120"/><line x1="1770" y1="2460" x2="2020" y2="2210"/><line x1="1770" y1="2550" x2="2020" y2="2300"/><line x1="1770" y1="2640" x2="2020" y2="2390"/><line x1="1770" y1="2730" x2="2020" y2="2480"/><line x1="1770" y1="2820" x2="2020" y2="2570"/><line x1="1770" y1="2910" x2="2020" y2="2660"/><line x1="1770" y1="3000" x2="2020" y2="2750"/><line x1="1770" y1="3090" x2="2020" y2="2840"/><line x1="1770" y1="3180" x2="2020" y2="2930"/><line x1="1770" y1="3270" x2="2020" y2="3020"/><line x1="1770" y1="3360" x2="2020" y2="3110"/></g><g clip-path="url(#rb)" stroke="#d2d2d2" stroke-width="24.0" opacity="0.90"><line x1="1270" y1="2654" x2="1630" y2="2348"/><line x1="1270" y1="2714" x2="1630" y2="2408"/><line x1="1270" y1="2774" x2="1630" y2="2468"/><line x1="1270" y1="2834" x2="1630" y2="2528"/><line x1="1270" y1="2894" x2="1630" y2="2588"/><line x1="1270" y1="2954" x2="1630" y2="2648"/><line x1="1270" y1="3014" x2="1630" y2="2708"/><line x1="1270" y1="3074" x2="1630" y2="2768"/><line x1="1270" y1="3134" x2="1630" y2="2828"/><line x1="1270" y1="3194" x2="1630" y2="2888"/><line x1="1270" y1="3254" x2="1630" y2="2948"/><line x1="1270" y1="3314" x2="1630" y2="3008"/><line x1="1270" y1="3374" x2="1630" y2="3068"/><line x1="1270" y1="3434" x2="1630" y2="3128"/></g><path d="M1300.0,2545.0 C1302.7,2557.5 1313.0,2590.8 1316.0,2620.0 C1319.0,2649.2 1318.7,2681.7 1318.0,2720.0 C1317.3,2758.3 1315.0,2800.3 1312.0,2850.0 C1309.0,2899.7 1302.0,2990.0 1300.0,3018.0" fill="none" stroke="#9c9c9c" stroke-width="28.0" stroke-linecap="butt" opacity="1.00"/><path d="M1342.0,2560.0 C1343.3,2573.3 1348.3,2606.7 1350.0,2640.0 C1351.7,2673.3 1352.7,2720.0 1352.0,2760.0 C1351.3,2800.0 1348.3,2835.0 1346.0,2880.0 C1343.7,2925.0 1339.3,3005.0 1338.0,3030.0" fill="none" stroke="#a8a8a8" stroke-width="22.0" stroke-linecap="butt" opacity="1.00"/><path d="M1282,2576 L1300,2542 L1318,2576 Z" fill="#a0a0a0"/><path d="M1327,2594 L1342,2565 L1357,2594 Z" fill="#a0a0a0"/><path d="M1371,2613 L1385,2586 L1399,2613 Z" fill="#a0a0a0"/><path d="M1960.0,2620.0 C1962.0,2643.3 1967.8,2713.3 1972.0,2760.0 C1976.2,2806.7 1981.7,2850.0 1985.0,2900.0 C1988.3,2950.0 1990.8,3033.3 1992.0,3060.0" fill="none" stroke="#c2c2c2" stroke-width="20.0" stroke-linecap="butt" opacity="1.00"/></g><path d="M1250.0,2518.0 C1251.5,2511.8 1253.8,2491.5 1259.0,2481.0 C1264.2,2470.5 1272.0,2460.3 1281.0,2455.0 C1290.0,2449.7 1305.2,2447.8 1313.0,2449.0 C1320.8,2450.2 1323.8,2455.7 1328.0,2462.0 C1332.2,2468.3 1335.3,2479.7 1338.0,2487.0 C1340.7,2494.3 1341.5,2504.5 1344.0,2506.0 C1346.5,2507.5 1348.8,2499.2 1353.0,2496.0 C1357.2,2492.8 1362.2,2487.5 1369.0,2487.0 C1375.8,2486.5 1386.7,2488.8 1394.0,2493.0 C1401.3,2497.2 1407.7,2505.7 1413.0,2512.0 C1418.3,2518.3 1423.8,2524.8 1426.0,2531.0 C1428.2,2537.2 1428.2,2542.8 1426.0,2549.0 C1423.8,2555.2 1419.3,2563.2 1413.0,2568.0 C1406.7,2572.8 1392.2,2576.3 1388.0,2578.0" fill="none" stroke="#bcbcbc" stroke-width="10.0" stroke-linecap="round" stroke-linejoin="round"/><path d="M1250.0,2518.0 C1251.5,2511.8 1253.8,2491.5 1259.0,2481.0 C1264.2,2470.5 1272.0,2460.3 1281.0,2455.0 C1290.0,2449.7 1305.2,2447.8 1313.0,2449.0 C1320.8,2450.2 1323.8,2455.7 1328.0,2462.0 C1332.2,2468.3 1335.3,2479.7 1338.0,2487.0 C1340.7,2494.3 1341.5,2504.5 1344.0,2506.0 C1346.5,2507.5 1348.8,2499.2 1353.0,2496.0 C1357.2,2492.8 1362.2,2487.5 1369.0,2487.0 C1375.8,2486.5 1386.7,2488.8 1394.0,2493.0 C1401.3,2497.2 1407.7,2505.7 1413.0,2512.0 C1418.3,2518.3 1423.8,2524.8 1426.0,2531.0 C1428.2,2537.2 1428.2,2542.8 1426.0,2549.0 C1423.8,2555.2 1419.3,2563.2 1413.0,2568.0 C1406.7,2572.8 1392.2,2576.3 1388.0,2578.0" fill="none" stroke="#f6f6f6" stroke-width="4.2" stroke-linecap="round" stroke-linejoin="round"/><path d="M1250.0,2518.0 C1250.0,2521.7 1248.0,2531.7 1250.0,2540.0 C1252.0,2548.3 1255.7,2562.2 1262.0,2568.0 C1268.3,2573.8 1278.5,2575.0 1288.0,2575.0 C1297.5,2575.0 1310.2,2572.3 1319.0,2568.0 C1327.8,2563.7 1335.8,2554.2 1341.0,2549.0 C1346.2,2543.8 1348.5,2539.0 1350.0,2537.0" fill="none" stroke="#bcbcbc" stroke-width="10.0" stroke-linecap="round" stroke-linejoin="round"/><path d="M1250.0,2518.0 C1250.0,2521.7 1248.0,2531.7 1250.0,2540.0 C1252.0,2548.3 1255.7,2562.2 1262.0,2568.0 C1268.3,2573.8 1278.5,2575.0 1288.0,2575.0 C1297.5,2575.0 1310.2,2572.3 1319.0,2568.0 C1327.8,2563.7 1335.8,2554.2 1341.0,2549.0 C1346.2,2543.8 1348.5,2539.0 1350.0,2537.0" fill="none" stroke="#f6f6f6" stroke-width="4.2" stroke-linecap="round" stroke-linejoin="round"/><path d="M1388.0,2600.0 C1388.0,2583.3 1388.0,2526.7 1388.0,2500.0 C1388.0,2473.3 1387.0,2455.3 1388.0,2440.0 C1389.0,2424.7 1389.8,2417.0 1394.0,2408.0 C1398.2,2399.0 1405.7,2391.7 1413.0,2386.0 C1420.3,2380.3 1428.7,2376.5 1438.0,2374.0 C1447.3,2371.5 1460.7,2369.5 1469.0,2371.0 C1477.3,2372.5 1483.2,2376.8 1488.0,2383.0 C1492.8,2389.2 1494.8,2399.7 1498.0,2408.0 C1501.2,2416.3 1502.8,2426.2 1507.0,2433.0 C1511.2,2439.8 1519.8,2442.7 1523.0,2449.0 C1526.2,2455.3 1526.5,2463.7 1526.0,2471.0 C1525.5,2478.3 1520.5,2486.2 1520.0,2493.0 C1519.5,2499.8 1522.5,2508.8 1523.0,2512.0" fill="none" stroke="#bcbcbc" stroke-width="10.0" stroke-linecap="round" stroke-linejoin="round"/><path d="M1388.0,2600.0 C1388.0,2583.3 1388.0,2526.7 1388.0,2500.0 C1388.0,2473.3 1387.0,2455.3 1388.0,2440.0 C1389.0,2424.7 1389.8,2417.0 1394.0,2408.0 C1398.2,2399.0 1405.7,2391.7 1413.0,2386.0 C1420.3,2380.3 1428.7,2376.5 1438.0,2374.0 C1447.3,2371.5 1460.7,2369.5 1469.0,2371.0 C1477.3,2372.5 1483.2,2376.8 1488.0,2383.0 C1492.8,2389.2 1494.8,2399.7 1498.0,2408.0 C1501.2,2416.3 1502.8,2426.2 1507.0,2433.0 C1511.2,2439.8 1519.8,2442.7 1523.0,2449.0 C1526.2,2455.3 1526.5,2463.7 1526.0,2471.0 C1525.5,2478.3 1520.5,2486.2 1520.0,2493.0 C1519.5,2499.8 1522.5,2508.8 1523.0,2512.0" fill="none" stroke="#f6f6f6" stroke-width="4.2" stroke-linecap="round" stroke-linejoin="round"/><path d="M1479.0,2581.0 C1480.5,2573.2 1483.3,2546.5 1488.0,2534.0 C1492.7,2521.5 1499.7,2512.8 1507.0,2506.0 C1514.3,2499.2 1522.5,2495.2 1532.0,2493.0 C1541.5,2490.8 1554.5,2490.8 1564.0,2493.0 C1573.5,2495.2 1582.3,2499.2 1589.0,2506.0 C1595.7,2512.8 1600.3,2524.2 1604.0,2534.0 C1607.7,2543.8 1610.5,2554.5 1611.0,2565.0 C1611.5,2575.5 1609.7,2589.2 1607.0,2597.0 C1604.3,2604.8 1597.0,2609.5 1595.0,2612.0" fill="none" stroke="#bcbcbc" stroke-width="10.0" stroke-linecap="round" stroke-linejoin="round"/><path d="M1479.0,2581.0 C1480.5,2573.2 1483.3,2546.5 1488.0,2534.0 C1492.7,2521.5 1499.7,2512.8 1507.0,2506.0 C1514.3,2499.2 1522.5,2495.2 1532.0,2493.0 C1541.5,2490.8 1554.5,2490.8 1564.0,2493.0 C1573.5,2495.2 1582.3,2499.2 1589.0,2506.0 C1595.7,2512.8 1600.3,2524.2 1604.0,2534.0 C1607.7,2543.8 1610.5,2554.5 1611.0,2565.0 C1611.5,2575.5 1609.7,2589.2 1607.0,2597.0 C1604.3,2604.8 1597.0,2609.5 1595.0,2612.0" fill="none" stroke="#f6f6f6" stroke-width="4.2" stroke-linecap="round" stroke-linejoin="round"/><path d="M1526.0,2534.0 C1528.0,2537.7 1531.7,2549.2 1538.0,2556.0 C1544.3,2562.8 1555.5,2570.8 1564.0,2575.0 C1572.5,2579.2 1581.8,2582.2 1589.0,2581.0 C1596.2,2579.8 1604.0,2570.2 1607.0,2568.0" fill="none" stroke="#bcbcbc" stroke-width="10.0" stroke-linecap="round" stroke-linejoin="round"/><path d="M1526.0,2534.0 C1528.0,2537.7 1531.7,2549.2 1538.0,2556.0 C1544.3,2562.8 1555.5,2570.8 1564.0,2575.0 C1572.5,2579.2 1581.8,2582.2 1589.0,2581.0 C1596.2,2579.8 1604.0,2570.2 1607.0,2568.0" fill="none" stroke="#f6f6f6" stroke-width="4.2" stroke-linecap="round" stroke-linejoin="round"/><path d="M1651.0,2568.0 C1651.5,2562.3 1651.3,2543.3 1654.0,2534.0 C1656.7,2524.7 1660.2,2517.8 1667.0,2512.0 C1673.8,2506.2 1685.0,2500.0 1695.0,2499.0 C1705.0,2498.0 1716.2,2502.5 1727.0,2506.0 C1737.8,2509.5 1748.8,2514.8 1760.0,2520.0 C1771.2,2525.2 1786.8,2530.5 1794.0,2537.0 C1801.2,2543.5 1803.0,2550.7 1803.0,2559.0 C1803.0,2567.3 1798.2,2579.7 1794.0,2587.0 C1789.8,2594.3 1785.8,2598.8 1778.0,2603.0 C1770.2,2607.2 1752.2,2610.5 1747.0,2612.0" fill="none" stroke="#bcbcbc" stroke-width="10.0" stroke-linecap="round" stroke-linejoin="round"/><path d="M1651.0,2568.0 C1651.5,2562.3 1651.3,2543.3 1654.0,2534.0 C1656.7,2524.7 1660.2,2517.8 1667.0,2512.0 C1673.8,2506.2 1685.0,2500.0 1695.0,2499.0 C1705.0,2498.0 1716.2,2502.5 1727.0,2506.0 C1737.8,2509.5 1748.8,2514.8 1760.0,2520.0 C1771.2,2525.2 1786.8,2530.5 1794.0,2537.0 C1801.2,2543.5 1803.0,2550.7 1803.0,2559.0 C1803.0,2567.3 1798.2,2579.7 1794.0,2587.0 C1789.8,2594.3 1785.8,2598.8 1778.0,2603.0 C1770.2,2607.2 1752.2,2610.5 1747.0,2612.0" fill="none" stroke="#f6f6f6" stroke-width="4.2" stroke-linecap="round" stroke-linejoin="round"/><path d="M1667.0,2597.0 C1666.5,2591.7 1663.0,2575.5 1664.0,2565.0 C1665.0,2554.5 1668.8,2541.8 1673.0,2534.0 C1677.2,2526.2 1681.2,2520.7 1689.0,2518.0 C1696.8,2515.3 1709.8,2515.3 1720.0,2518.0 C1730.2,2520.7 1745.0,2531.3 1750.0,2534.0" fill="none" stroke="#bcbcbc" stroke-width="10.0" stroke-linecap="round" stroke-linejoin="round"/><path d="M1667.0,2597.0 C1666.5,2591.7 1663.0,2575.5 1664.0,2565.0 C1665.0,2554.5 1668.8,2541.8 1673.0,2534.0 C1677.2,2526.2 1681.2,2520.7 1689.0,2518.0 C1696.8,2515.3 1709.8,2515.3 1720.0,2518.0 C1730.2,2520.7 1745.0,2531.3 1750.0,2534.0" fill="none" stroke="#f6f6f6" stroke-width="4.2" stroke-linecap="round" stroke-linejoin="round"/><path d="M1844.0,2612.0 C1847.7,2605.8 1860.7,2588.0 1866.0,2575.0 C1871.3,2562.0 1875.5,2547.7 1876.0,2534.0 C1876.5,2520.3 1869.0,2502.5 1869.0,2493.0 C1869.0,2483.5 1869.7,2481.2 1876.0,2477.0 C1882.3,2472.8 1896.7,2470.5 1907.0,2468.0 C1917.3,2465.5 1929.7,2465.2 1938.0,2462.0 C1946.3,2458.8 1951.2,2456.3 1957.0,2449.0 C1962.8,2441.7 1968.8,2429.0 1973.0,2418.0 C1977.2,2407.0 1977.3,2391.8 1982.0,2383.0 C1986.7,2374.2 1992.7,2369.2 2001.0,2365.0 C2009.3,2360.8 2022.0,2357.0 2032.0,2358.0 C2042.0,2359.0 2054.7,2365.2 2061.0,2371.0 C2067.3,2376.8 2069.0,2384.2 2070.0,2393.0 C2071.0,2401.8 2069.7,2412.5 2067.0,2424.0 C2064.3,2435.5 2059.8,2451.5 2054.0,2462.0 C2048.2,2472.5 2038.7,2480.8 2032.0,2487.0 C2025.3,2493.2 2022.3,2495.8 2014.0,2499.0 C2005.7,2502.2 1990.5,2502.8 1982.0,2506.0 C1973.5,2509.2 1968.2,2510.8 1963.0,2518.0 C1957.8,2525.2 1953.5,2537.5 1951.0,2549.0 C1948.5,2560.5 1948.0,2576.5 1948.0,2587.0 C1948.0,2597.5 1950.5,2607.8 1951.0,2612.0" fill="none" stroke="#bcbcbc" stroke-width="10.0" stroke-linecap="round" stroke-linejoin="round"/><path d="M1844.0,2612.0 C1847.7,2605.8 1860.7,2588.0 1866.0,2575.0 C1871.3,2562.0 1875.5,2547.7 1876.0,2534.0 C1876.5,2520.3 1869.0,2502.5 1869.0,2493.0 C1869.0,2483.5 1869.7,2481.2 1876.0,2477.0 C1882.3,2472.8 1896.7,2470.5 1907.0,2468.0 C1917.3,2465.5 1929.7,2465.2 1938.0,2462.0 C1946.3,2458.8 1951.2,2456.3 1957.0,2449.0 C1962.8,2441.7 1968.8,2429.0 1973.0,2418.0 C1977.2,2407.0 1977.3,2391.8 1982.0,2383.0 C1986.7,2374.2 1992.7,2369.2 2001.0,2365.0 C2009.3,2360.8 2022.0,2357.0 2032.0,2358.0 C2042.0,2359.0 2054.7,2365.2 2061.0,2371.0 C2067.3,2376.8 2069.0,2384.2 2070.0,2393.0 C2071.0,2401.8 2069.7,2412.5 2067.0,2424.0 C2064.3,2435.5 2059.8,2451.5 2054.0,2462.0 C2048.2,2472.5 2038.7,2480.8 2032.0,2487.0 C2025.3,2493.2 2022.3,2495.8 2014.0,2499.0 C2005.7,2502.2 1990.5,2502.8 1982.0,2506.0 C1973.5,2509.2 1968.2,2510.8 1963.0,2518.0 C1957.8,2525.2 1953.5,2537.5 1951.0,2549.0 C1948.5,2560.5 1948.0,2576.5 1948.0,2587.0 C1948.0,2597.5 1950.5,2607.8 1951.0,2612.0" fill="none" stroke="#f6f6f6" stroke-width="4.2" stroke-linecap="round" stroke-linejoin="round"/><path d="M1988.0,2568.0 C1988.0,2564.8 1985.8,2554.2 1988.0,2549.0 C1990.2,2543.8 1994.7,2540.0 2001.0,2537.0 C2007.3,2534.0 2017.7,2531.5 2026.0,2531.0 C2034.3,2530.5 2042.7,2531.5 2051.0,2534.0 C2059.3,2536.5 2068.7,2542.8 2076.0,2546.0 C2083.3,2549.2 2088.2,2553.5 2095.0,2553.0 C2101.8,2552.5 2112.5,2544.2 2117.0,2543.0 C2121.5,2541.8 2123.5,2543.8 2122.0,2546.0 C2120.5,2548.2 2115.7,2552.3 2108.0,2556.0 C2100.3,2559.7 2083.8,2562.8 2076.0,2568.0 C2068.2,2573.2 2064.7,2579.7 2061.0,2587.0 C2057.3,2594.3 2058.8,2602.5 2054.0,2612.0 C2049.2,2621.5 2040.8,2633.5 2032.0,2644.0 C2023.2,2654.5 2013.5,2662.0 2001.0,2675.0 C1988.5,2688.0 1970.7,2709.0 1957.0,2722.0 C1943.3,2735.0 1930.5,2742.5 1919.0,2753.0 C1907.5,2763.5 1899.5,2772.2 1888.0,2785.0 C1876.5,2797.8 1863.0,2814.2 1850.0,2830.0 C1837.0,2845.8 1816.7,2871.7 1810.0,2880.0" fill="none" stroke="#bcbcbc" stroke-width="10.0" stroke-linecap="round" stroke-linejoin="round"/><path d="M1988.0,2568.0 C1988.0,2564.8 1985.8,2554.2 1988.0,2549.0 C1990.2,2543.8 1994.7,2540.0 2001.0,2537.0 C2007.3,2534.0 2017.7,2531.5 2026.0,2531.0 C2034.3,2530.5 2042.7,2531.5 2051.0,2534.0 C2059.3,2536.5 2068.7,2542.8 2076.0,2546.0 C2083.3,2549.2 2088.2,2553.5 2095.0,2553.0 C2101.8,2552.5 2112.5,2544.2 2117.0,2543.0 C2121.5,2541.8 2123.5,2543.8 2122.0,2546.0 C2120.5,2548.2 2115.7,2552.3 2108.0,2556.0 C2100.3,2559.7 2083.8,2562.8 2076.0,2568.0 C2068.2,2573.2 2064.7,2579.7 2061.0,2587.0 C2057.3,2594.3 2058.8,2602.5 2054.0,2612.0 C2049.2,2621.5 2040.8,2633.5 2032.0,2644.0 C2023.2,2654.5 2013.5,2662.0 2001.0,2675.0 C1988.5,2688.0 1970.7,2709.0 1957.0,2722.0 C1943.3,2735.0 1930.5,2742.5 1919.0,2753.0 C1907.5,2763.5 1899.5,2772.2 1888.0,2785.0 C1876.5,2797.8 1863.0,2814.2 1850.0,2830.0 C1837.0,2845.8 1816.7,2871.7 1810.0,2880.0" fill="none" stroke="#f6f6f6" stroke-width="4.2" stroke-linecap="round" stroke-linejoin="round"/><path d="M1998.0,2968.0 C2000.7,2970.7 2010.3,2973.5 2014.0,2984.0 C2017.7,2994.5 2018.0,3018.0 2020.0,3031.0 C2022.0,3044.0 2026.0,3051.5 2026.0,3062.0 C2026.0,3072.5 2024.7,3082.0 2020.0,3094.0 C2015.3,3106.0 2001.7,3127.3 1998.0,3134.0" fill="none" stroke="#bcbcbc" stroke-width="10.0" stroke-linecap="round" stroke-linejoin="round"/><path d="M1998.0,2968.0 C2000.7,2970.7 2010.3,2973.5 2014.0,2984.0 C2017.7,2994.5 2018.0,3018.0 2020.0,3031.0 C2022.0,3044.0 2026.0,3051.5 2026.0,3062.0 C2026.0,3072.5 2024.7,3082.0 2020.0,3094.0 C2015.3,3106.0 2001.7,3127.3 1998.0,3134.0" fill="none" stroke="#f6f6f6" stroke-width="4.2" stroke-linecap="round" stroke-linejoin="round"/><path d="M1963.0,2999.0 C1963.7,3003.3 1962.8,3015.5 1967.0,3025.0 C1971.2,3034.5 1980.8,3049.3 1988.0,3056.0 C1995.2,3062.7 2006.3,3063.5 2010.0,3065.0" fill="none" stroke="#bcbcbc" stroke-width="10.0" stroke-linecap="round" stroke-linejoin="round"/><path d="M1963.0,2999.0 C1963.7,3003.3 1962.8,3015.5 1967.0,3025.0 C1971.2,3034.5 1980.8,3049.3 1988.0,3056.0 C1995.2,3062.7 2006.3,3063.5 2010.0,3065.0" fill="none" stroke="#f6f6f6" stroke-width="4.2" stroke-linecap="round" stroke-linejoin="round"/><path d="M1876.0,3050.0 C1879.0,3052.0 1886.8,3060.0 1894.0,3062.0 C1901.2,3064.0 1911.7,3063.5 1919.0,3062.0 C1926.3,3060.5 1935.8,3056.7 1938.0,3053.0 C1940.2,3049.3 1937.7,3042.7 1932.0,3040.0 C1926.3,3037.3 1908.7,3037.5 1904.0,3037.0" fill="none" stroke="#bcbcbc" stroke-width="10.0" stroke-linecap="round" stroke-linejoin="round"/><path d="M1876.0,3050.0 C1879.0,3052.0 1886.8,3060.0 1894.0,3062.0 C1901.2,3064.0 1911.7,3063.5 1919.0,3062.0 C1926.3,3060.5 1935.8,3056.7 1938.0,3053.0 C1940.2,3049.3 1937.7,3042.7 1932.0,3040.0 C1926.3,3037.3 1908.7,3037.5 1904.0,3037.0" fill="none" stroke="#f6f6f6" stroke-width="4.2" stroke-linecap="round" stroke-linejoin="round"/><path d="M1753.0,3106.0 C1754.7,3101.8 1757.2,3088.3 1763.0,3081.0 C1768.8,3073.7 1781.3,3066.2 1788.0,3062.0 C1794.7,3057.8 1796.8,3054.3 1803.0,3056.0 C1809.2,3057.7 1816.0,3072.0 1825.0,3072.0 C1834.0,3072.0 1848.5,3061.3 1857.0,3056.0 C1865.5,3050.7 1872.8,3042.7 1876.0,3040.0" fill="none" stroke="#bcbcbc" stroke-width="10.0" stroke-linecap="round" stroke-linejoin="round"/><path d="M1753.0,3106.0 C1754.7,3101.8 1757.2,3088.3 1763.0,3081.0 C1768.8,3073.7 1781.3,3066.2 1788.0,3062.0 C1794.7,3057.8 1796.8,3054.3 1803.0,3056.0 C1809.2,3057.7 1816.0,3072.0 1825.0,3072.0 C1834.0,3072.0 1848.5,3061.3 1857.0,3056.0 C1865.5,3050.7 1872.8,3042.7 1876.0,3040.0" fill="none" stroke="#f6f6f6" stroke-width="4.2" stroke-linecap="round" stroke-linejoin="round"/><path d="M1322.0,2993.0 C1323.7,2998.3 1326.8,3016.7 1332.0,3025.0 C1337.2,3033.3 1345.8,3038.8 1353.0,3043.0 C1360.2,3047.2 1371.3,3048.8 1375.0,3050.0" fill="none" stroke="#bcbcbc" stroke-width="10.0" stroke-linecap="round" stroke-linejoin="round"/><path d="M1322.0,2993.0 C1323.7,2998.3 1326.8,3016.7 1332.0,3025.0 C1337.2,3033.3 1345.8,3038.8 1353.0,3043.0 C1360.2,3047.2 1371.3,3048.8 1375.0,3050.0" fill="none" stroke="#f6f6f6" stroke-width="4.2" stroke-linecap="round" stroke-linejoin="round"/><path d="M1382.0,3056.0 C1383.5,3058.0 1381.7,3066.5 1391.0,3068.0 C1400.3,3069.5 1420.7,3065.0 1438.0,3065.0 C1455.3,3065.0 1484.0,3065.3 1495.0,3068.0 C1506.0,3070.7 1504.7,3077.8 1504.0,3081.0 C1503.3,3084.2 1496.8,3087.0 1491.0,3087.0 C1485.2,3087.0 1472.7,3082.0 1469.0,3081.0" fill="none" stroke="#bcbcbc" stroke-width="10.0" stroke-linecap="round" stroke-linejoin="round"/><path d="M1382.0,3056.0 C1383.5,3058.0 1381.7,3066.5 1391.0,3068.0 C1400.3,3069.5 1420.7,3065.0 1438.0,3065.0 C1455.3,3065.0 1484.0,3065.3 1495.0,3068.0 C1506.0,3070.7 1504.7,3077.8 1504.0,3081.0 C1503.3,3084.2 1496.8,3087.0 1491.0,3087.0 C1485.2,3087.0 1472.7,3082.0 1469.0,3081.0" fill="none" stroke="#f6f6f6" stroke-width="4.2" stroke-linecap="round" stroke-linejoin="round"/><path d="M1426.0,3025.0 C1426.5,3031.2 1426.0,3050.5 1429.0,3062.0 C1432.0,3073.5 1436.2,3086.2 1444.0,3094.0 C1451.8,3101.8 1464.5,3106.0 1476.0,3109.0 C1487.5,3112.0 1506.8,3111.5 1513.0,3112.0" fill="none" stroke="#bcbcbc" stroke-width="10.0" stroke-linecap="round" stroke-linejoin="round"/><path d="M1426.0,3025.0 C1426.5,3031.2 1426.0,3050.5 1429.0,3062.0 C1432.0,3073.5 1436.2,3086.2 1444.0,3094.0 C1451.8,3101.8 1464.5,3106.0 1476.0,3109.0 C1487.5,3112.0 1506.8,3111.5 1513.0,3112.0" fill="none" stroke="#f6f6f6" stroke-width="4.2" stroke-linecap="round" stroke-linejoin="round"/><path d="M1476.0,3025.0 C1478.0,3026.0 1481.2,3031.0 1488.0,3031.0 C1494.8,3031.0 1510.7,3030.3 1517.0,3025.0 C1523.3,3019.7 1525.0,3008.5 1526.0,2999.0 C1527.0,2989.5 1523.5,2973.2 1523.0,2968.0" fill="none" stroke="#bcbcbc" stroke-width="10.0" stroke-linecap="round" stroke-linejoin="round"/><path d="M1476.0,3025.0 C1478.0,3026.0 1481.2,3031.0 1488.0,3031.0 C1494.8,3031.0 1510.7,3030.3 1517.0,3025.0 C1523.3,3019.7 1525.0,3008.5 1526.0,2999.0 C1527.0,2989.5 1523.5,2973.2 1523.0,2968.0" fill="none" stroke="#f6f6f6" stroke-width="4.2" stroke-linecap="round" stroke-linejoin="round"/><path d="M1532.0,3015.0 C1533.0,3020.2 1538.0,3035.5 1538.0,3046.0 C1538.0,3056.5 1537.2,3071.2 1532.0,3078.0 C1526.8,3084.8 1514.3,3086.0 1507.0,3087.0 C1499.7,3088.0 1491.2,3084.5 1488.0,3084.0" fill="none" stroke="#bcbcbc" stroke-width="10.0" stroke-linecap="round" stroke-linejoin="round"/><path d="M1532.0,3015.0 C1533.0,3020.2 1538.0,3035.5 1538.0,3046.0 C1538.0,3056.5 1537.2,3071.2 1532.0,3078.0 C1526.8,3084.8 1514.3,3086.0 1507.0,3087.0 C1499.7,3088.0 1491.2,3084.5 1488.0,3084.0" fill="none" stroke="#f6f6f6" stroke-width="4.2" stroke-linecap="round" stroke-linejoin="round"/><path d="M1626.0,2974.0 C1623.5,2978.2 1615.2,2989.5 1611.0,2999.0 C1606.8,3008.5 1603.7,3017.8 1601.0,3031.0 C1598.3,3044.2 1599.2,3067.5 1595.0,3078.0 C1590.8,3088.5 1578.7,3088.3 1576.0,3094.0 C1573.3,3099.7 1570.7,3108.5 1579.0,3112.0 C1587.3,3115.5 1613.5,3111.8 1626.0,3115.0 C1638.5,3118.2 1646.7,3130.3 1654.0,3131.0 C1661.3,3131.7 1666.8,3127.3 1670.0,3119.0 C1673.2,3110.7 1669.8,3092.5 1673.0,3081.0 C1676.2,3069.5 1681.2,3057.3 1689.0,3050.0 C1696.8,3042.7 1709.8,3039.7 1720.0,3037.0 C1730.2,3034.3 1745.0,3034.5 1750.0,3034.0" fill="none" stroke="#bcbcbc" stroke-width="10.0" stroke-linecap="round" stroke-linejoin="round"/><path d="M1626.0,2974.0 C1623.5,2978.2 1615.2,2989.5 1611.0,2999.0 C1606.8,3008.5 1603.7,3017.8 1601.0,3031.0 C1598.3,3044.2 1599.2,3067.5 1595.0,3078.0 C1590.8,3088.5 1578.7,3088.3 1576.0,3094.0 C1573.3,3099.7 1570.7,3108.5 1579.0,3112.0 C1587.3,3115.5 1613.5,3111.8 1626.0,3115.0 C1638.5,3118.2 1646.7,3130.3 1654.0,3131.0 C1661.3,3131.7 1666.8,3127.3 1670.0,3119.0 C1673.2,3110.7 1669.8,3092.5 1673.0,3081.0 C1676.2,3069.5 1681.2,3057.3 1689.0,3050.0 C1696.8,3042.7 1709.8,3039.7 1720.0,3037.0 C1730.2,3034.3 1745.0,3034.5 1750.0,3034.0" fill="none" stroke="#f6f6f6" stroke-width="4.2" stroke-linecap="round" stroke-linejoin="round"/><ellipse cx="1702" cy="2780" rx="88" ry="122" fill="#8fe2e2"/><ellipse cx="1698" cy="2756" rx="66" ry="67" fill="#a6f0f0"/><ellipse cx="1702" cy="2841" rx="70" ry="46" fill="#5fa9a9" opacity="0.55"/><circle cx="1772" cy="2779" r="21" fill="#e86464"/><circle cx="1757" cy="2829" r="22" fill="#e86464"/><circle cx="1735" cy="2857" r="20" fill="#f48a8a"/><circle cx="1710" cy="2882" r="21" fill="#f27e7e"/><circle cx="1679" cy="2870" r="21" fill="#ee7070"/><circle cx="1651" cy="2833" r="20" fill="#f27e7e"/><circle cx="1641" cy="2806" r="20" fill="#e86464"/><circle cx="1639" cy="2756" r="22" fill="#ee7070"/><circle cx="1648" cy="2714" r="22" fill="#e86464"/><circle cx="1676" cy="2690" r="22" fill="#f27e7e"/><circle cx="1707" cy="2689" r="19" fill="#f48a8a"/><circle cx="1740" cy="2707" r="22" fill="#f27e7e"/><circle cx="1768" cy="2729" r="20" fill="#f27e7e"/><circle cx="1711" cy="2774" r="19" fill="#f07a7a" opacity="0.9"/><circle cx="1696" cy="2751" r="19" fill="#f07a7a" opacity="0.9"/><circle cx="1711" cy="2819" r="18" fill="#f07a7a" opacity="0.9"/><circle cx="1699" cy="2792" r="19" fill="#f07a7a" opacity="0.9"/><circle cx="1713" cy="2772" r="20" fill="#f07a7a" opacity="0.9"/><circle cx="1747" cy="2761" r="12" fill="#f8f8f8" stroke="#c4c4c4" stroke-width="2"/><circle cx="1730" cy="2820" r="13" fill="#f8f8f8" stroke="#c4c4c4" stroke-width="2"/><circle cx="1696" cy="2856" r="12" fill="#f8f8f8" stroke="#c4c4c4" stroke-width="2"/><circle cx="1682" cy="2837" r="14" fill="#f8f8f8" stroke="#c4c4c4" stroke-width="2"/><circle cx="1656" cy="2829" r="14" fill="#f8f8f8" stroke="#c4c4c4" stroke-width="2"/><circle cx="1645" cy="2746" r="11" fill="#f8f8f8" stroke="#c4c4c4" stroke-width="2"/><circle cx="1662" cy="2715" r="13" fill="#f8f8f8" stroke="#c4c4c4" stroke-width="2"/><circle cx="1710" cy="2731" r="11" fill="#f8f8f8" stroke="#c4c4c4" stroke-width="2"/><circle cx="1728" cy="2747" r="13" fill="#f8f8f8" stroke="#c4c4c4" stroke-width="2"/><g transform="translate(1150,2250) scale(0.70671)"><path d="M505,545 L540,560 L560,600 L600,620 L620,660 M540,560 L520,600 M600,620 L630,590" fill="none" stroke="#d81818" stroke-width="12.0" stroke-linecap="round" stroke-linejoin="round"/><path d="M545,630 L570,680 L600,690" fill="none" stroke="#e01818" stroke-width="12.0" stroke-linecap="round" stroke-linejoin="round"/><path d="M460,820 L470,760 L520,750 L560,700 L580,650 L620,640 L650,600 L670,640" fill="none" stroke="#1010ee" stroke-width="12.0" stroke-linecap="round" stroke-linejoin="round"/><path d="M590,720 L620,700 L640,740 L610,760" fill="none" stroke="#f0e020" stroke-width="12.0" stroke-linecap="round" stroke-linejoin="round"/><path d="M500,790 L540,770 L560,800 L540,860 L560,900 L560,930 M540,860 L500,860 M560,800 L600,810" fill="none" stroke="#20d020" stroke-width="12.0" stroke-linecap="round" stroke-linejoin="round"/><path d="M840,535 L880,545 L920,530 L940,545 M880,545 L890,565" fill="none" stroke="#20d020" stroke-width="12.0" stroke-linecap="round" stroke-linejoin="round"/><path d="M930,600 L970,610 L990,640 L970,660 M990,640 L1030,630" fill="none" stroke="#20d020" stroke-width="12.0" stroke-linecap="round" stroke-linejoin="round"/><path d="M910,800 L950,790 L990,800 L1020,780 M990,800 L1010,840" fill="none" stroke="#e01818" stroke-width="12.0" stroke-linecap="round" stroke-linejoin="round"/><path d="M900,820 L890,850 L910,890 L930,920 L920,950 M910,890 L880,900" fill="none" stroke="#f0e020" stroke-width="12.0" stroke-linecap="round" stroke-linejoin="round"/><path d="M820,935 L860,945 L900,930 L930,960 M900,930 L920,1000" fill="none" stroke="#1818ee" stroke-width="12.0" stroke-linecap="round" stroke-linejoin="round"/><path d="M800,700 L840,720 L880,740" fill="none" stroke="#2030c0" stroke-width="10.0" stroke-linecap="round" stroke-linejoin="round"/><path d="M780,700 L790,730" fill="none" stroke="#7a10a0" stroke-width="10.0" stroke-linecap="round" stroke-linejoin="round"/></g><g font-family="Liberation Serif, Times New Roman, serif" font-weight="bold" fill="#000"><text x="375.5" y="2600.8" font-size="47" textLength="145.1" lengthAdjust="spacingAndGlyphs">Lys116</text><text x="523.9" y="2621.2" font-size="47" textLength="147.6" lengthAdjust="spacingAndGlyphs">Asp103</text><text x="675.0" y="2593.0" font-size="47" textLength="116.7" lengthAdjust="spacingAndGlyphs">Ser16</text><text x="714.2" y="2641.5" font-size="47" textLength="119.2" lengthAdjust="spacingAndGlyphs">Lys77</text><text x="847.5" y="2655.6" font-size="47" textLength="125.2" lengthAdjust="spacingAndGlyphs">Trp78</text><text x="348.9" y="2682.3" font-size="47" textLength="127.8" lengthAdjust="spacingAndGlyphs">Leu13</text><text x="924.8" y="2713.6" font-size="47" textLength="124.5" lengthAdjust="spacingAndGlyphs">Glu76</text><text x="324.8" y="2738.7" font-size="47" textLength="126.2" lengthAdjust="spacingAndGlyphs">Asp12</text><text x="912.3" y="2782.6" font-size="47" textLength="123.9" lengthAdjust="spacingAndGlyphs">Glu62</text><text x="250.0" y="2804.5" font-size="47" textLength="146.8" lengthAdjust="spacingAndGlyphs">Lys118</text><text x="915.9" y="2832.8" font-size="47" textLength="116.7" lengthAdjust="spacingAndGlyphs">Val20</text><text x="295.6" y="2865.5" font-size="47" textLength="148.0" lengthAdjust="spacingAndGlyphs">Thr101</text><text x="908.6" y="2882.8" font-size="47" textLength="122.8" lengthAdjust="spacingAndGlyphs">Phe21</text><text x="427.8" y="2895.3" font-size="47" textLength="123.5" lengthAdjust="spacingAndGlyphs">Glu87</text><text x="852.2" y="2920.4" font-size="47" textLength="119.1" lengthAdjust="spacingAndGlyphs">Lys64</text><text x="561.0" y="2939.2" font-size="47" textLength="119.1" lengthAdjust="spacingAndGlyphs">Gly14</text><text x="439.8" y="2962.7" font-size="47" textLength="124.5" lengthAdjust="spacingAndGlyphs">Thr89</text><text x="768.5" y="2961.1" font-size="47" textLength="114.1" lengthAdjust="spacingAndGlyphs">Val17</text><text x="642.1" y="2973.7" font-size="47" textLength="121.5" lengthAdjust="spacingAndGlyphs">Thr75</text><text x="1339.3" y="2612.1" font-size="45" textLength="145.8" lengthAdjust="spacingAndGlyphs">Asp133</text><text x="1859.9" y="2626.2" font-size="45" textLength="124.3" lengthAdjust="spacingAndGlyphs">Asn79</text><text x="1330.4" y="2902.3" font-size="45" textLength="123.0" lengthAdjust="spacingAndGlyphs">Tyr10</text><text x="1599.5" y="2969.7" font-size="45" textLength="117.6" lengthAdjust="spacingAndGlyphs">Ala17</text><text x="426.2" y="3246.4" font-size="103" textLength="313.4" lengthAdjust="spacingAndGlyphs">13.6 ns</text><text x="1468.7" y="3240.8" font-size="103" textLength="369.3" lengthAdjust="spacingAndGlyphs">100.0 ns</text></g><g stroke="#000" stroke-width="2.4" fill="#000"><line x1="487.8" y1="2614.9" x2="511.3" y2="2660.3"/><path stroke="none" d="M511.3,2660.3 L501.3,2650.8 L509.3,2646.7 Z"/><line x1="596.0" y1="2630.6" x2="602.2" y2="2672.9"/><path stroke="none" d="M602.2,2672.9 L595.9,2660.7 L604.8,2659.4 Z"/><line x1="451.7" y1="2688.6" x2="566.2" y2="2738.7"/><path stroke="none" d="M566.2,2738.7 L552.5,2737.6 L556.1,2729.4 Z"/><line x1="406.3" y1="2741.8" x2="547.4" y2="2792.0"/><path stroke="none" d="M547.4,2792.0 L533.6,2791.9 L536.7,2783.4 Z"/><line x1="398.5" y1="2790.4" x2="440.8" y2="2771.6"/><path stroke="none" d="M440.8,2771.6 L430.7,2781.0 L427.1,2772.8 Z"/><line x1="459.6" y1="2828.0" x2="503.5" y2="2798.3"/><path stroke="none" d="M503.5,2798.3 L495.3,2809.3 L490.2,2801.9 Z"/><line x1="699.6" y1="2596.0" x2="705.8" y2="2770.0"/><path stroke="none" d="M705.8,2770.0 L700.8,2757.2 L709.8,2756.8 Z"/><line x1="749.7" y1="2647.8" x2="732.5" y2="2683.8"/><path stroke="none" d="M732.5,2683.8 L734.0,2670.1 L742.2,2674.0 Z"/><line x1="859.4" y1="2666.6" x2="835.9" y2="2691.7"/><path stroke="none" d="M835.9,2691.7 L841.5,2679.1 L848.1,2685.3 Z"/><line x1="917.4" y1="2704.2" x2="773.2" y2="2768.5"/><path stroke="none" d="M773.2,2768.5 L783.2,2759.1 L786.9,2767.3 Z"/><line x1="904.9" y1="2771.6" x2="850.0" y2="2792.0"/><path stroke="none" d="M850.0,2792.0 L860.6,2783.3 L863.8,2791.7 Z"/><line x1="893.9" y1="2814.0" x2="796.7" y2="2829.6"/><path stroke="none" d="M796.7,2829.6 L808.8,2823.1 L810.2,2832.0 Z"/><line x1="523.9" y1="2860.8" x2="640.0" y2="2760.0"/><path stroke="none" d="M640.0,2760.0 L633.1,2771.9 L627.2,2765.1 Z"/><line x1="539.5" y1="2926.7" x2="570.9" y2="2889.0"/><path stroke="none" d="M570.9,2889.0 L566.0,2901.9 L559.1,2896.1 Z"/><line x1="611.6" y1="2906.3" x2="630.4" y2="2859.3"/><path stroke="none" d="M630.4,2859.3 L629.8,2873.0 L621.4,2869.7 Z"/><line x1="897.0" y1="2857.7" x2="810.8" y2="2870.2"/><path stroke="none" d="M810.8,2870.2 L823.0,2863.9 L824.3,2872.8 Z"/><line x1="837.5" y1="2904.7" x2="787.3" y2="2904.7"/><path stroke="none" d="M787.3,2904.7 L800.3,2900.2 L800.3,2909.2 Z"/><line x1="768.5" y1="2933.0" x2="716.8" y2="2842.0"/><path stroke="none" d="M716.8,2842.0 L727.1,2851.1 L719.3,2855.5 Z"/><line x1="693.3" y1="2917.3" x2="662.0" y2="2801.3"/><path stroke="none" d="M662.0,2801.3 L669.7,2812.7 L661.0,2815.0 Z"/><line x1="1460.0" y1="2613.7" x2="1518.0" y2="2659.2"/><path stroke="none" d="M1518.0,2659.2 L1505.0,2654.7 L1510.5,2647.6 Z"/><line x1="1905.3" y1="2638.8" x2="1850.5" y2="2687.4"/><path stroke="none" d="M1850.5,2687.4 L1857.2,2675.4 L1863.2,2682.1 Z"/><line x1="1453.8" y1="2889.7" x2="1508.6" y2="2883.4"/><path stroke="none" d="M1508.6,2883.4 L1496.2,2889.4 L1495.2,2880.4 Z"/><line x1="1657.5" y1="2930.5" x2="1690.4" y2="2850.5"/><path stroke="none" d="M1690.4,2850.5 L1689.6,2864.2 L1681.3,2860.8 Z"/></g>
</svg>
</body></html>
